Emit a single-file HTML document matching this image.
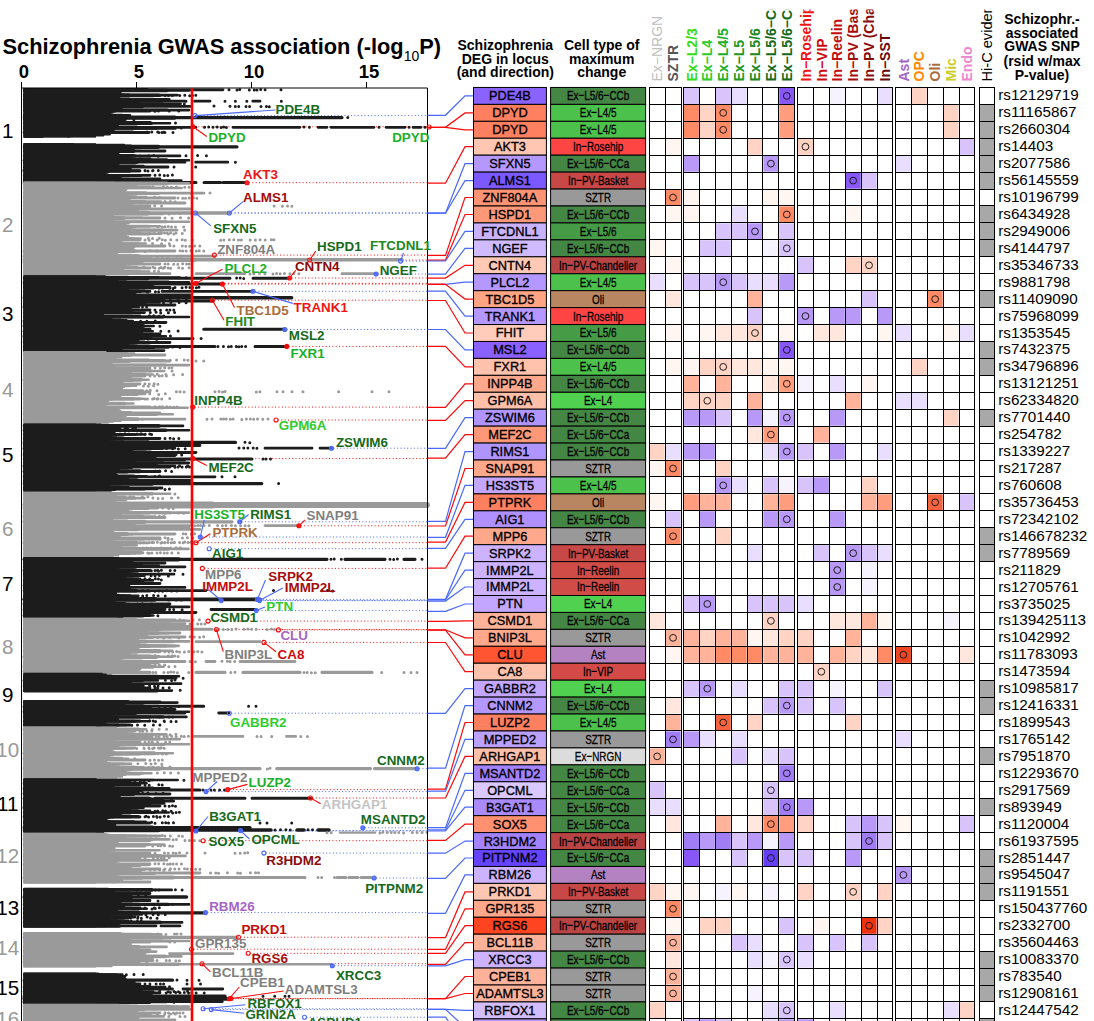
<!DOCTYPE html>
<html><head><meta charset="utf-8"><title>Schizophrenia GWAS</title>
<style>html,body{margin:0;padding:0;background:#fff;}body{width:1094px;height:1021px;overflow:hidden;font-family:"Liberation Sans",sans-serif;}svg{display:block;}</style>
</head><body>
<svg width="1094" height="1021" viewBox="0 0 1094 1021" font-family="Liberation Sans, sans-serif">
<rect width="1094" height="1021" fill="#fff"/>
<defs><clipPath id="pc"><rect x="0" y="88" width="432" height="940"/></clipPath><clipPath id="hc"><rect x="640" y="9.5" width="460" height="80"/></clipPath></defs>
<text x="2.5" y="54" font-size="21.82" font-weight="bold" fill="#000">Schizophrenia GWAS association (-log<tspan font-size="14" font-weight="normal" dy="6.7">10</tspan><tspan dy="-6.7">P)</tspan></text>
<text x="24.0" y="77.5" font-size="18.5" font-weight="bold" text-anchor="middle">0</text>
<line x1="21.5" y1="82" x2="21.5" y2="88" stroke="#000" stroke-width="1"/>
<text x="139.0" y="77.5" font-size="18.5" font-weight="bold" text-anchor="middle">5</text>
<line x1="136.5" y1="82" x2="136.5" y2="88" stroke="#000" stroke-width="1"/>
<text x="254.0" y="77.5" font-size="18.5" font-weight="bold" text-anchor="middle">10</text>
<line x1="251.5" y1="82" x2="251.5" y2="88" stroke="#000" stroke-width="1"/>
<text x="369.0" y="77.5" font-size="18.5" font-weight="bold" text-anchor="middle">15</text>
<line x1="366.5" y1="82" x2="366.5" y2="88" stroke="#000" stroke-width="1"/>
<text x="7.7" y="138.2" font-size="20.6" text-anchor="middle" fill="#000">1</text>
<text x="7.7" y="231.7" font-size="20.6" text-anchor="middle" fill="#999">2</text>
<text x="7.7" y="320.7" font-size="20.6" text-anchor="middle" fill="#000">3</text>
<text x="7.7" y="397.2" font-size="20.6" text-anchor="middle" fill="#999">4</text>
<text x="7.7" y="462.2" font-size="20.6" text-anchor="middle" fill="#000">5</text>
<text x="7.7" y="535.7" font-size="20.6" text-anchor="middle" fill="#999">6</text>
<text x="7.7" y="590.7" font-size="20.6" text-anchor="middle" fill="#000">7</text>
<text x="7.7" y="654.2" font-size="20.6" text-anchor="middle" fill="#999">8</text>
<text x="7.7" y="701.7" font-size="20.6" text-anchor="middle" fill="#000">9</text>
<text x="7.7" y="757.2" font-size="20.6" text-anchor="middle" fill="#999">10</text>
<text x="7.7" y="810.7" font-size="20.6" text-anchor="middle" fill="#000">11</text>
<text x="7.7" y="862.7" font-size="20.6" text-anchor="middle" fill="#999">12</text>
<text x="7.7" y="914.7" font-size="20.6" text-anchor="middle" fill="#000">13</text>
<text x="7.7" y="954.7" font-size="20.6" text-anchor="middle" fill="#999">14</text>
<text x="7.7" y="994.7" font-size="20.6" text-anchor="middle" fill="#000">15</text>
<text x="7.7" y="1025.7" font-size="20.6" text-anchor="middle" fill="#999">16</text>
<g clip-path="url(#pc)">
<g id="dl">
<line x1="197" y1="115.6" x2="427.5" y2="115.6" stroke="#4a68fa" stroke-width="1.0" stroke-dasharray="1 2.35"/>
<line x1="195" y1="126.8" x2="427.5" y2="126.8" stroke="#fa0a0a" stroke-width="1.0" stroke-dasharray="1 2.35"/>
<line x1="249" y1="182.7" x2="427.5" y2="182.7" stroke="#fa0a0a" stroke-width="1.0" stroke-dasharray="1 2.35"/>
<line x1="231.3" y1="213" x2="427.5" y2="213" stroke="#4a68fa" stroke-width="1.0" stroke-dasharray="1 2.35"/>
<line x1="197.5" y1="213" x2="427.5" y2="213" stroke="#4a68fa" stroke-width="1.0" stroke-dasharray="1 2.35"/>
<line x1="216.4" y1="255.1" x2="427.5" y2="255.1" stroke="#fa0a0a" stroke-width="1.0" stroke-dasharray="1 2.35"/>
<line x1="311.7" y1="260" x2="427.5" y2="260" stroke="#fa0a0a" stroke-width="1.0" stroke-dasharray="1 2.35"/>
<line x1="402.6" y1="261.1" x2="427.5" y2="261.1" stroke="#4a68fa" stroke-width="1.0" stroke-dasharray="1 2.35"/>
<line x1="378.1" y1="274" x2="427.5" y2="274" stroke="#4a68fa" stroke-width="1.0" stroke-dasharray="1 2.35"/>
<line x1="291.6" y1="278" x2="427.5" y2="278" stroke="#fa0a0a" stroke-width="1.0" stroke-dasharray="1 2.35"/>
<line x1="197.9" y1="283.3" x2="427.5" y2="283.3" stroke="#fa0a0a" stroke-width="1.0" stroke-dasharray="1 2.35"/>
<line x1="224.4" y1="284.1" x2="427.5" y2="284.1" stroke="#fa0a0a" stroke-width="1.0" stroke-dasharray="1 2.35"/>
<line x1="255" y1="291.3" x2="427.5" y2="291.3" stroke="#4a68fa" stroke-width="1.0" stroke-dasharray="1 2.35"/>
<line x1="214.4" y1="300.2" x2="427.5" y2="300.2" stroke="#fa0a0a" stroke-width="1.0" stroke-dasharray="1 2.35"/>
<line x1="286.8" y1="329.5" x2="427.5" y2="329.5" stroke="#4a68fa" stroke-width="1.0" stroke-dasharray="1 2.35"/>
<line x1="288.8" y1="346.4" x2="427.5" y2="346.4" stroke="#fa0a0a" stroke-width="1.0" stroke-dasharray="1 2.35"/>
<line x1="194.7" y1="407.1" x2="427.5" y2="407.1" stroke="#fa0a0a" stroke-width="1.0" stroke-dasharray="1 2.35"/>
<line x1="278" y1="420" x2="427.5" y2="420" stroke="#fa0a0a" stroke-width="1.0" stroke-dasharray="1 2.35"/>
<line x1="333.5" y1="448.2" x2="427.5" y2="448.2" stroke="#4a68fa" stroke-width="1.0" stroke-dasharray="1 2.35"/>
<line x1="195" y1="458.6" x2="427.5" y2="458.6" stroke="#fa0a0a" stroke-width="1.0" stroke-dasharray="1 2.35"/>
<line x1="241.7" y1="521.8" x2="427.5" y2="521.8" stroke="#4a68fa" stroke-width="1.0" stroke-dasharray="1 2.35"/>
<line x1="300.9" y1="525.8" x2="427.5" y2="525.8" stroke="#fa0a0a" stroke-width="1.0" stroke-dasharray="1 2.35"/>
<line x1="202.3" y1="537" x2="427.5" y2="537" stroke="#4a68fa" stroke-width="1.0" stroke-dasharray="1 2.35"/>
<line x1="197.9" y1="542.7" x2="427.5" y2="542.7" stroke="#fa0a0a" stroke-width="1.0" stroke-dasharray="1 2.35"/>
<line x1="211.2" y1="548.7" x2="427.5" y2="548.7" stroke="#4a68fa" stroke-width="1.0" stroke-dasharray="1 2.35"/>
<line x1="204.3" y1="568.4" x2="427.5" y2="568.4" stroke="#fa0a0a" stroke-width="1.0" stroke-dasharray="1 2.35"/>
<line x1="259.4" y1="599.4" x2="427.5" y2="599.4" stroke="#4a68fa" stroke-width="1.0" stroke-dasharray="1 2.35"/>
<line x1="223.2" y1="600.6" x2="427.5" y2="600.6" stroke="#4a68fa" stroke-width="1.0" stroke-dasharray="1 2.35"/>
<line x1="261.5" y1="600.6" x2="427.5" y2="600.6" stroke="#4a68fa" stroke-width="1.0" stroke-dasharray="1 2.35"/>
<line x1="258.2" y1="610.6" x2="427.5" y2="610.6" stroke="#4a68fa" stroke-width="1.0" stroke-dasharray="1 2.35"/>
<line x1="210" y1="621.1" x2="427.5" y2="621.1" stroke="#fa0a0a" stroke-width="1.0" stroke-dasharray="1 2.35"/>
<line x1="218.4" y1="629.5" x2="427.5" y2="629.5" stroke="#fa0a0a" stroke-width="1.0" stroke-dasharray="1 2.35"/>
<line x1="280.4" y1="629.9" x2="427.5" y2="629.9" stroke="#fa0a0a" stroke-width="1.0" stroke-dasharray="1 2.35"/>
<line x1="265.9" y1="642.4" x2="427.5" y2="642.4" stroke="#fa0a0a" stroke-width="1.0" stroke-dasharray="1 2.35"/>
<line x1="231.3" y1="713.2" x2="427.5" y2="713.2" stroke="#4a68fa" stroke-width="1.0" stroke-dasharray="1 2.35"/>
<line x1="419.1" y1="768.7" x2="427.5" y2="768.7" stroke="#4a68fa" stroke-width="1.0" stroke-dasharray="1 2.35"/>
<line x1="229.7" y1="789.6" x2="427.5" y2="789.6" stroke="#fa0a0a" stroke-width="1.0" stroke-dasharray="1 2.35"/>
<line x1="208" y1="791.6" x2="427.5" y2="791.6" stroke="#4a68fa" stroke-width="1.0" stroke-dasharray="1 2.35"/>
<line x1="312.5" y1="798" x2="427.5" y2="798" stroke="#fa0a0a" stroke-width="1.0" stroke-dasharray="1 2.35"/>
<line x1="364.8" y1="827.8" x2="427.5" y2="827.8" stroke="#4a68fa" stroke-width="1.0" stroke-dasharray="1 2.35"/>
<line x1="242.5" y1="830.6" x2="427.5" y2="830.6" stroke="#4a68fa" stroke-width="1.0" stroke-dasharray="1 2.35"/>
<line x1="197.9" y1="831" x2="427.5" y2="831" stroke="#4a68fa" stroke-width="1.0" stroke-dasharray="1 2.35"/>
<line x1="205.1" y1="840.7" x2="427.5" y2="840.7" stroke="#fa0a0a" stroke-width="1.0" stroke-dasharray="1 2.35"/>
<line x1="265.9" y1="853.1" x2="427.5" y2="853.1" stroke="#4a68fa" stroke-width="1.0" stroke-dasharray="1 2.35"/>
<line x1="376.1" y1="878" x2="427.5" y2="878" stroke="#4a68fa" stroke-width="1.0" stroke-dasharray="1 2.35"/>
<line x1="207.5" y1="912.6" x2="427.5" y2="912.6" stroke="#4a68fa" stroke-width="1.0" stroke-dasharray="1 2.35"/>
<line x1="240.5" y1="937.2" x2="427.5" y2="937.2" stroke="#fa0a0a" stroke-width="1.0" stroke-dasharray="1 2.35"/>
<line x1="193.5" y1="949.2" x2="427.5" y2="949.2" stroke="#fa0a0a" stroke-width="1.0" stroke-dasharray="1 2.35"/>
<line x1="250.2" y1="953.3" x2="427.5" y2="953.3" stroke="#fa0a0a" stroke-width="1.0" stroke-dasharray="1 2.35"/>
<line x1="204" y1="963.7" x2="427.5" y2="963.7" stroke="#fa0a0a" stroke-width="1.0" stroke-dasharray="1 2.35"/>
<line x1="334.3" y1="965.7" x2="427.5" y2="965.7" stroke="#4a68fa" stroke-width="1.0" stroke-dasharray="1 2.35"/>
<line x1="231.3" y1="998.7" x2="427.5" y2="998.7" stroke="#fa0a0a" stroke-width="1.0" stroke-dasharray="1 2.35"/>
<line x1="233" y1="998.5" x2="427.5" y2="998.5" stroke="#fa0a0a" stroke-width="1.0" stroke-dasharray="1 2.35"/>
<line x1="205.1" y1="1008.8" x2="427.5" y2="1008.8" stroke="#4a68fa" stroke-width="1.0" stroke-dasharray="1 2.35"/>
<line x1="213.2" y1="1009.6" x2="427.5" y2="1009.6" stroke="#4a68fa" stroke-width="1.0" stroke-dasharray="1 2.35"/>
<line x1="306.5" y1="1017.2" x2="427.5" y2="1017.2" stroke="#4a68fa" stroke-width="1.0" stroke-dasharray="1 2.35"/>
</g>
<rect x="23.2" y="88.6" width="72.8" height="49.0" fill="#1c1c1c"/>
<rect x="23.2" y="143.2" width="72.8" height="38.6" fill="#1c1c1c"/>
<path d="M24.6 89.5H114.7M24.6 90.3H115.7M24.6 91.2H120.4M24.6 92.0H120.8M24.6 92.9H119.1M24.6 93.7H120.1M24.6 94.6H123.2M24.6 95.4H116.4M24.6 96.3H118.6M24.6 97.1H119.5M24.6 98.0H115.6M24.6 98.8H116.0M24.6 99.7H116.7M24.6 100.5H118.5M24.6 101.4H118.6M24.6 102.2H120.0M24.6 103.1H124.5M24.6 103.9H125.1M24.6 104.8H122.3M24.6 105.6H123.9M24.6 106.5H131.2M24.6 107.3H122.6M24.6 108.2H121.6M24.6 109.0H119.5M24.6 109.9H118.8M24.6 110.7H117.0M24.6 111.6H115.2M24.6 112.4H112.7M24.6 113.3H110.6M24.6 114.1H108.0M24.6 115.0H109.4M24.6 115.8H107.1M24.6 116.7H105.9M24.6 117.5H109.7M24.6 118.4H108.2M24.6 119.2H106.0M24.6 120.1H104.8M24.6 120.9H108.8M24.6 121.8H115.9M24.6 122.6H110.0M24.6 123.5H118.7M24.6 124.3H118.2M24.6 125.2H115.7M24.6 126.0H118.1M24.6 126.9H115.8M24.6 127.7H113.9M24.6 128.6H112.2M24.6 129.4H111.6M24.6 130.3H113.8M24.6 131.1H111.3M24.6 132.0H116.4M24.6 132.8H108.6M24.6 133.7H108.2M24.6 134.5H109.9M24.6 135.4H103.3M24.6 136.2H71.2M24.6 137.1H42.6M24.6 143.9H73.3M24.6 144.7H124.2M24.6 145.6H131.0M24.6 146.4H141.2M24.6 147.3H127.1M24.6 148.1H125.7M24.6 149.0H123.5M24.6 149.8H124.5M24.6 150.7H133.0M24.6 151.5H120.1M24.6 152.4H119.5M24.6 153.2H117.6M24.6 154.1H118.1M24.6 154.9H118.8M24.6 155.8H121.3M24.6 156.6H113.1M24.6 157.5H122.7M24.6 158.3H121.0M24.6 159.2H113.9M24.6 160.0H116.8M24.6 160.9H115.9M24.6 161.7H117.2M24.6 162.6H122.8M24.6 163.4H118.0M24.6 164.3H117.4M24.6 165.1H118.7M24.6 166.0H124.5M24.6 166.8H118.4M24.6 167.7H122.6M24.6 168.5H130.2M24.6 169.4H111.1M24.6 170.2H121.8M24.6 171.1H106.7M24.6 171.9H109.1M24.6 172.8H107.7M24.6 173.6H105.5M24.6 174.5H101.9M24.6 175.3H101.3M24.6 176.2H101.5M24.6 177.0H103.6M24.6 177.9H103.1M24.6 178.7H109.5M24.6 179.6H110.3M24.6 180.4H101.9" stroke="#1c1c1c" stroke-width="2.0" stroke-linecap="round" fill="none"/>
<path d="M24.6 90.5H167.1M24.6 123.2H151.4M24.6 155.9H128.9" stroke="#1c1c1c" stroke-width="3.5" stroke-linecap="round" fill="none"/>
<path d="M24.6 90.5H189.0M24.6 95.1H177.6M24.6 99.4H169.3M24.6 103.8H180.6M24.6 110.1H189.0M24.6 115.4H130.0M24.6 119.7H125.4M24.6 123.2H170.0M24.6 128.4H175.4M24.6 132.3H143.5M24.6 147.8H147.6M24.6 155.9H135.5M24.6 160.2H189.0M24.6 166.0H143.5M24.6 170.6H139.4M24.6 175.6H141.0M24.6 180.6H181.3" stroke="#1c1c1c" stroke-width="2.6" stroke-linecap="round" fill="none"/>
<path d="M24.6 95.1H159.1M24.6 103.8H162.6M24.6 110.1H167.3M24.8 182.4H196.0M204.0 182.4H220.7M223.0 182.4H244.5" stroke="#1c1c1c" stroke-width="3.0" stroke-linecap="round" fill="none"/>
<path d="M24.6 99.4H153.3" stroke="#1c1c1c" stroke-width="3.2" stroke-linecap="round" fill="none"/>
<path d="M24.6 115.4H122.5M24.6 166.0H135.1" stroke="#1c1c1c" stroke-width="3.1" stroke-linecap="round" fill="none"/>
<path d="M24.6 119.7H118.9M24.8 89.8H223.0M24.8 95.5H160.0M24.8 101.2H185.0M194.6 101.2H210.0M252.8 101.2H260.0M24.8 106.4H190.0M24.8 111.0H150.0M24.8 122.5H150.0M24.8 127.3H196.0M233.0 127.3H300.0M318.0 127.3H327.0M331.0 127.3H374.0M386.0 127.3H405.0M413.0 127.3H421.0M24.8 132.5H149.0M24.8 151.0H165.0M24.8 155.8H180.0M24.8 159.0H150.0M24.8 162.2H185.0M195.7 162.2H227.8M24.8 167.0H168.0M24.8 171.0H140.0M24.8 175.3H150.0M24.8 179.0H160.0" stroke="#1c1c1c" stroke-width="2.8" stroke-linecap="round" fill="none"/>
<path d="M24.6 128.4H156.1" stroke="#1c1c1c" stroke-width="2.7" stroke-linecap="round" fill="none"/>
<path d="M24.6 132.3H132.9" stroke="#1c1c1c" stroke-width="3.6" stroke-linecap="round" fill="none"/>
<path d="M24.6 147.8H140.5" stroke="#1c1c1c" stroke-width="2.9" stroke-linecap="round" fill="none"/>
<path d="M24.6 160.2H166.6" stroke="#1c1c1c" stroke-width="3.7" stroke-linecap="round" fill="none"/>
<path d="M24.6 170.6H129.8" stroke="#1c1c1c" stroke-width="4.1" stroke-linecap="round" fill="none"/>
<path d="M24.6 175.6H129.0" stroke="#1c1c1c" stroke-width="3.3" stroke-linecap="round" fill="none"/>
<path d="M24.6 180.6H157.0" stroke="#1c1c1c" stroke-width="3.4" stroke-linecap="round" fill="none"/>
<path d="M24.8 89.8H146.5M24.8 95.5H129.0M24.8 101.2H137.8M24.8 106.4H142.0M24.8 127.3H136.8M24.8 151.0H133.5M24.8 155.8H133.4M24.8 162.2H136.7M24.8 167.0H130.5M24.8 179.0H120.5" stroke="#1c1c1c" stroke-width="3.8" stroke-linecap="round" fill="none"/>
<path d="M24.8 117.6H342.0M24.8 146.8H237.0" stroke="#1c1c1c" stroke-width="3.1999999999999997" stroke-linecap="round" fill="none"/>
<path d="M24.8 117.6H174.8M24.8 146.8H158.2" stroke="#1c1c1c" stroke-width="4.2" stroke-linecap="round" fill="none"/>
<path d="M24.8 182.4H126.5" stroke="#1c1c1c" stroke-width="4.0" stroke-linecap="round" fill="none"/>
<path d="M184.3 104.1h0M133.9 119.8h0M175.5 122.9h0M181.2 128.1h0M147.1 131.9h0M151.8 132.1h0M157.7 131.9h0M163.8 132.3h0M68.5 136.3h0M154.5 147.5h0M140.2 155.9h0M148.8 155.7h0M153.8 155.5h0M158.2 156.2h0M145.0 170.6h0M153.0 170.5h0M158.3 170.5h0M229.0 89.8h0M237.0 90.0h0M239.8 89.6h0M249.3 89.9h0M254.2 89.9h0M257.0 90.0h0M260.7 89.6h0M265.1 89.8h0M281.0 89.8h0M165.0 95.6h0M168.4 95.4h0M172.2 95.6h0M179.8 95.5h0M184.8 95.3h0M189.7 95.7h0M192.5 95.5h0M195.8 95.3h0M186.0 101.2h0M225.0 101.2h0M235.4 101.2h0M246.8 101.2h0M281.3 101.2h0M214.0 106.1h0M230.0 106.3h0M235.3 106.4h0M238.7 106.4h0M246.0 106.5h0M249.6 106.5h0M261.0 106.4h0M266.4 106.6h0M269.3 106.7h0M155.0 111.2h0M158.4 111.1h0M169.1 111.0h0M178.8 111.0h0M347.8 117.6h0M204.5 127.3h0M208.7 127.1h0M213.0 127.2h0M217.1 127.0h0M221.1 127.5h0M223.7 127.0h0M226.4 127.5h0M304.0 127.1h0M309.4 127.3h0M379.0 127.3h0M409.0 127.3h0M425.0 127.3h0M158.8 132.5h0M161.9 132.4h0M164.9 132.4h0M173.0 132.5h0M186.0 155.8h0M197.6 155.5h0M206.4 155.8h0M235.4 162.2h0M174.0 167.0h0M195.7 167.0h0M145.0 170.8h0M148.0 171.0h0M152.6 170.8h0M155.0 175.3h0M159.7 175.1h0M164.3 175.4h0M167.8 175.5h0M172.4 175.0h0" stroke="#1c1c1c" stroke-width="3.0" stroke-linecap="round" fill="none"/>
<rect x="23.2" y="181.8" width="72.8" height="93.5" fill="#9a9a9a"/>
<path d="M24.6 182.7H114.3M24.6 183.6H116.0M24.6 184.4H120.8M24.6 185.2H126.3M24.6 186.1H136.4M24.6 186.9H127.7M24.6 187.8H127.2M24.6 188.6H127.4M24.6 189.5H126.1M24.6 190.3H125.9M24.6 191.2H125.0M24.6 192.0H124.5M24.6 192.9H122.2M24.6 193.7H128.3M24.6 194.6H132.0M24.6 195.4H126.6M24.6 196.3H114.8M24.6 197.1H113.5M24.6 198.0H112.2M24.6 198.8H118.5M24.6 199.7H115.0M24.6 200.5H110.9M24.6 201.4H117.3M24.6 202.2H107.8M24.6 203.1H118.8M24.6 203.9H110.5M24.6 204.8H122.5M24.6 205.6H114.2M24.6 206.5H115.5M24.6 207.3H117.8M24.6 208.2H115.1M24.6 209.0H119.5M24.6 209.9H114.3M24.6 210.7H115.8M24.6 211.6H116.9M24.6 212.4H122.5M24.6 213.3H117.3M24.6 214.1H116.0M24.6 215.0H111.5M24.6 215.8H113.2M24.6 216.7H111.8M24.6 217.5H111.7M24.6 218.4H111.5M24.6 219.2H110.2M24.6 220.1H111.6M24.6 220.9H113.1M24.6 221.8H116.1M24.6 222.6H116.8M24.6 223.5H128.8M24.6 224.3H125.7M24.6 225.2H125.3M24.6 226.0H123.7M24.6 226.9H131.3M24.6 227.7H132.3M24.6 228.6H130.0M24.6 229.4H130.1M24.6 230.3H127.6M24.6 231.1H130.3M24.6 232.0H128.3M24.6 232.8H126.3M24.6 233.7H123.5M24.6 234.5H124.7M24.6 235.4H126.0M24.6 236.2H126.1M24.6 237.1H128.3M24.6 237.9H120.2M24.6 238.8H126.7M24.6 239.6H117.7M24.6 240.5H123.1M24.6 241.3H120.8M24.6 242.2H119.2M24.6 243.0H120.5M24.6 243.9H119.8M24.6 244.7H122.3M24.6 245.6H121.0M24.6 246.4H130.1M24.6 247.3H128.1M24.6 248.1H125.0M24.6 249.0H133.5M24.6 249.8H127.6M24.6 250.7H118.7M24.6 251.5H118.5M24.6 252.4H116.4M24.6 253.2H117.2M24.6 254.1H113.0M24.6 254.9H108.1M24.6 255.8H110.2M24.6 256.6H105.6M24.6 257.5H107.1M24.6 258.3H108.2M24.6 259.2H107.0M24.6 260.0H110.0M24.6 260.9H120.1M24.6 261.7H108.2M24.6 262.6H113.4M24.6 263.4H110.6M24.6 264.3H113.2M24.6 265.1H113.4M24.6 266.0H115.3M24.6 266.8H118.3M24.6 267.7H116.6M24.6 268.5H118.3M24.6 269.4H123.0M24.6 270.2H118.0M24.6 271.1H119.8M24.6 271.9H121.8M24.6 272.8H114.0M24.6 273.6H109.3M24.6 274.5H108.7" stroke="#9a9a9a" stroke-width="2.0" stroke-linecap="round" fill="none"/>
<path d="M24.6 183.4H166.8M24.6 251.2H131.5" stroke="#9a9a9a" stroke-width="4.0" stroke-linecap="round" fill="none"/>
<path d="M24.6 183.4H189.0M24.6 188.0H181.6M24.6 193.6H147.1M24.6 193.6H158.9M24.6 197.0H146.2M24.6 201.6H160.7M24.6 205.8H133.3M24.6 209.9H138.0M24.6 213.9H163.0M24.6 217.8H142.5M24.6 221.7H189.0M24.6 226.2H160.1M24.6 230.1H177.1M24.6 233.8H161.3M24.6 238.6H140.6M24.6 243.5H145.7M24.6 251.2H138.1M24.6 256.4H151.4M24.6 262.3H142.2M24.6 267.1H137.1M24.6 271.5H149.3" stroke="#9a9a9a" stroke-width="2.6" stroke-linecap="round" fill="none"/>
<path d="M24.6 188.0H164.8M24.6 243.5H137.8" stroke="#9a9a9a" stroke-width="2.7" stroke-linecap="round" fill="none"/>
<path d="M24.6 197.0H135.9M24.6 205.8H126.7M24.8 259.8H402.0" stroke="#9a9a9a" stroke-width="3.6" stroke-linecap="round" fill="none"/>
<path d="M24.6 201.6H144.7M24.6 226.2H148.9M24.6 230.1H161.9" stroke="#9a9a9a" stroke-width="3.1" stroke-linecap="round" fill="none"/>
<path d="M24.6 209.9H130.8M24.6 271.5H139.3M24.8 213.0H230.0" stroke="#9a9a9a" stroke-width="3.4" stroke-linecap="round" fill="none"/>
<path d="M24.6 213.9H147.4" stroke="#9a9a9a" stroke-width="3.2" stroke-linecap="round" fill="none"/>
<path d="M24.6 217.8H132.3M24.8 187.0H150.0M24.8 193.1H204.0M24.8 198.0H175.0M24.8 203.0H185.0M24.8 206.2H150.0M24.8 209.0H190.0M24.8 218.0H160.0M24.8 226.9H135.0M24.8 233.0H140.0M24.8 240.0H140.0M24.8 246.0H165.0M24.8 251.0H175.0M24.8 256.1H215.0M24.8 264.0H160.0M24.8 268.0H150.0M24.8 273.7H170.0M196.0 273.7H245.0M342.0 273.7H376.0" stroke="#9a9a9a" stroke-width="2.8" stroke-linecap="round" fill="none"/>
<path d="M24.6 221.7H166.0M24.6 238.6H133.6" stroke="#9a9a9a" stroke-width="3.0" stroke-linecap="round" fill="none"/>
<path d="M24.6 233.8H149.8M24.6 267.1H130.7" stroke="#9a9a9a" stroke-width="3.3" stroke-linecap="round" fill="none"/>
<path d="M24.6 256.4H137.7M24.6 262.3H131.9" stroke="#9a9a9a" stroke-width="4.1" stroke-linecap="round" fill="none"/>
<path d="M24.8 193.1H145.8M24.8 198.0H129.4M24.8 203.0H131.2M24.8 209.0H136.8M24.8 218.0H123.8M24.8 246.0H134.3M24.8 251.0H134.2M24.8 256.1H138.8M24.8 264.0H125.7M24.8 273.7H127.1" stroke="#9a9a9a" stroke-width="3.8" stroke-linecap="round" fill="none"/>
<path d="M24.8 213.0H147.4" stroke="#9a9a9a" stroke-width="4.4" stroke-linecap="round" fill="none"/>
<path d="M24.8 259.8H193.9" stroke="#9a9a9a" stroke-width="4.6" stroke-linecap="round" fill="none"/>
<path d="M154.7 196.9h0M159.7 197.4h0M165.0 201.4h0M170.3 201.6h0M175.2 201.7h0M140.7 205.8h0M147.8 206.0h0M154.7 205.8h0M161.6 205.9h0M169.2 214.0h0M173.7 213.6h0M179.7 213.5h0M184.7 230.2h0M168.3 233.9h0M173.8 234.1h0M182.3 233.5h0M148.3 238.3h0M152.5 238.4h0M159.3 238.3h0M152.5 243.4h0M161.6 243.8h0M169.3 243.7h0M144.7 251.5h0M150.1 250.8h0M157.0 250.9h0M157.5 256.6h0M162.3 256.6h0M167.9 256.8h0M176.8 256.4h0M181.0 256.3h0M143.8 267.0h0M152.9 267.2h0M161.1 267.4h0M164.8 267.2h0M154.3 271.2h0M158.6 271.5h0M153.0 186.8h0M163.4 187.0h0M167.4 187.2h0M171.3 187.2h0M176.4 186.9h0M184.7 187.2h0M189.0 187.3h0M210.0 193.1h0M178.0 198.1h0M182.7 198.3h0M185.5 198.2h0M189.1 198.1h0M193.4 197.8h0M196.9 198.3h0M274.1 206.0h0M282.4 206.2h0M287.5 205.9h0M291.9 206.3h0M165.0 217.9h0M172.1 218.3h0M180.5 217.8h0M188.6 218.1h0M158.0 226.7h0M162.4 227.0h0M165.1 226.7h0M168.3 226.6h0M171.5 226.9h0M175.5 227.1h0M183.7 226.9h0M150.0 233.3h0M154.0 233.0h0M158.8 233.2h0M161.4 232.8h0M164.4 233.1h0M167.1 232.9h0M170.7 232.7h0M176.1 232.9h0M145.0 240.1h0M149.2 240.3h0M157.2 239.9h0M162.3 239.8h0M165.4 240.2h0M170.7 239.8h0M176.9 240.1h0M182.2 239.7h0M185.3 240.2h0M192.2 240.1h0M220.7 240.2h0M223.9 240.0h0M229.3 239.8h0M233.8 239.7h0M238.5 240.1h0M241.3 240.0h0M250.2 239.9h0M255.4 240.1h0M260.1 239.8h0M265.2 239.9h0M271.3 239.8h0M273.9 239.8h0M170.0 245.8h0M173.9 246.1h0M182.3 246.0h0M185.8 246.2h0M189.7 246.2h0M194.7 245.9h0M199.8 245.9h0M180.0 250.7h0M182.8 250.9h0M186.2 250.9h0M190.9 250.8h0M196.3 250.9h0M199.2 250.8h0M203.8 250.9h0M165.0 264.1h0M168.2 264.0h0M173.7 264.2h0M177.8 264.2h0M182.7 263.8h0M186.6 264.0h0M189.2 263.9h0M155.0 268.1h0M159.3 268.3h0M163.3 268.3h0M168.1 268.0h0M170.7 268.3h0M178.7 267.7h0M182.5 268.3h0M189.0 267.8h0M250.0 273.9h0M253.8 273.7h0M259.5 273.6h0M264.9 273.8h0M273.0 274.0h0M276.6 273.6h0M280.1 273.7h0M284.5 273.5h0M290.0 273.7h0M293.8 273.6h0M298.9 273.8h0" stroke="#9a9a9a" stroke-width="3.0" stroke-linecap="round" fill="none"/>
<rect x="23.2" y="275.3" width="72.8" height="75.9" fill="#1c1c1c"/>
<path d="M24.6 276.2H104.9M24.6 277.1H107.6M24.6 277.9H112.5M24.6 278.8H120.1M24.6 279.6H115.0M24.6 280.5H117.4M24.6 281.3H125.8M24.6 282.2H136.5M24.6 283.0H127.9M24.6 283.9H123.3M24.6 284.7H124.8M24.6 285.6H126.2M24.6 286.4H131.8M24.6 287.3H137.9M24.6 288.1H128.4M24.6 289.0H128.2M24.6 289.8H124.9M24.6 290.7H127.2M24.6 291.5H120.5M24.6 292.4H128.5M24.6 293.2H127.7M24.6 294.1H124.1M24.6 294.9H121.0M24.6 295.8H111.4M24.6 296.6H110.4M24.6 297.5H113.5M24.6 298.3H110.4M24.6 299.2H111.0M24.6 300.0H121.4M24.6 300.9H112.3M24.6 301.7H113.1M24.6 302.6H124.7M24.6 303.4H112.9M24.6 304.3H115.5M24.6 305.1H116.9M24.6 306.0H119.3M24.6 306.8H114.6M24.6 307.7H117.9M24.6 308.5H111.7M24.6 309.4H109.6M24.6 310.2H107.8M24.6 311.1H117.0M24.6 311.9H104.6M24.6 312.8H106.9M24.6 313.6H103.0M24.6 314.5H103.0M24.6 315.3H101.9M24.6 316.2H102.5M24.6 317.0H104.8M24.6 317.9H110.4M24.6 318.7H111.5M24.6 319.6H120.9M24.6 320.4H110.5M24.6 321.3H112.2M24.6 322.1H118.6M24.6 323.0H116.6M24.6 323.8H124.1M24.6 324.7H130.7M24.6 325.5H119.4M24.6 326.4H127.8M24.6 327.2H122.2M24.6 328.1H120.1M24.6 328.9H122.2M24.6 329.8H120.6M24.6 330.6H122.6M24.6 331.5H133.2M24.6 332.3H117.0M24.6 333.2H123.2M24.6 334.0H116.4M24.6 334.9H117.4M24.6 335.7H119.7M24.6 336.6H116.0M24.6 337.4H119.5M24.6 338.3H121.2M24.6 339.1H125.0M24.6 340.0H121.5M24.6 340.8H123.8M24.6 341.7H123.6M24.6 342.5H123.5M24.6 343.4H134.2M24.6 344.2H128.6M24.6 345.1H124.4M24.6 345.9H123.2M24.6 346.8H124.1M24.6 347.6H120.3M24.6 348.5H119.1M24.6 349.3H112.1M24.6 350.2H109.4" stroke="#1c1c1c" stroke-width="2.0" stroke-linecap="round" fill="none"/>
<path d="M24.6 277.5H158.4M24.6 288.1H144.8" stroke="#1c1c1c" stroke-width="2.9" stroke-linecap="round" fill="none"/>
<path d="M24.6 277.5H179.7M24.6 282.3H188.9M24.6 288.1H153.7M24.6 291.8H140.7M24.6 298.9H152.1M24.6 302.5H159.5M24.6 307.0H138.8M24.6 312.6H144.6M24.6 317.0H189.0M24.6 321.1H132.7M24.6 326.0H153.7M24.6 331.3H152.7M24.6 336.3H165.8M24.6 341.9H144.1M24.6 347.4H168.3" stroke="#1c1c1c" stroke-width="2.6" stroke-linecap="round" fill="none"/>
<path d="M24.6 282.3H168.3" stroke="#1c1c1c" stroke-width="3.6" stroke-linecap="round" fill="none"/>
<path d="M24.6 291.8H133.8" stroke="#1c1c1c" stroke-width="3.5" stroke-linecap="round" fill="none"/>
<path d="M24.6 298.9H139.4" stroke="#1c1c1c" stroke-width="2.7" stroke-linecap="round" fill="none"/>
<path d="M24.6 302.5H145.3" stroke="#1c1c1c" stroke-width="3.1" stroke-linecap="round" fill="none"/>
<path d="M24.6 307.0H130.8M24.6 326.0H143.2M24.6 336.3H150.6" stroke="#1c1c1c" stroke-width="4.1" stroke-linecap="round" fill="none"/>
<path d="M24.6 312.6H132.2M24.6 347.4H153.6" stroke="#1c1c1c" stroke-width="3.3" stroke-linecap="round" fill="none"/>
<path d="M24.6 317.0H163.1M24.8 287.5H170.0M24.8 291.4H150.0M162.0 291.4H252.0M24.8 295.0H190.0M24.8 301.0H213.0M24.8 305.0H175.0M24.8 310.0H150.0M24.8 316.0H140.0M24.8 322.5H166.0M24.8 334.0H160.0M24.8 338.6H190.0M24.8 342.5H170.0M24.8 350.6H164.0" stroke="#1c1c1c" stroke-width="2.8" stroke-linecap="round" fill="none"/>
<path d="M24.6 321.1H126.1M24.8 278.2H147.6M24.8 283.9H152.9M24.8 346.5H149.2" stroke="#1c1c1c" stroke-width="4.0" stroke-linecap="round" fill="none"/>
<path d="M24.6 331.3H141.8" stroke="#1c1c1c" stroke-width="3.7" stroke-linecap="round" fill="none"/>
<path d="M24.6 341.9H137.4M24.8 287.5H138.2M24.8 295.0H135.1M24.8 301.0H141.6M24.8 305.0H131.6M24.8 322.5H129.4M24.8 334.0H128.2M24.8 338.6H139.3M24.8 342.5H136.7M24.8 350.6H121.0" stroke="#1c1c1c" stroke-width="3.8" stroke-linecap="round" fill="none"/>
<path d="M24.8 278.2H230.0M253.0 278.2H288.0M24.8 283.9H222.4M24.8 329.2H150.0M203.7 329.2H284.0M24.8 346.5H215.0M255.0 346.5H287.0" stroke="#1c1c1c" stroke-width="3.0" stroke-linecap="round" fill="none"/>
<path d="M24.8 297.8H291.7" stroke="#1c1c1c" stroke-width="3.4" stroke-linecap="round" fill="none"/>
<path d="M24.8 297.8H164.1" stroke="#1c1c1c" stroke-width="4.4" stroke-linecap="round" fill="none"/>
<path d="M186.1 277.7h0M159.1 288.3h0M162.5 287.9h0M169.7 288.2h0M173.0 288.5h0M147.5 291.9h0M155.4 291.8h0M158.6 291.8h0M156.5 298.8h0M161.2 299.3h0M170.4 298.8h0M178.0 298.8h0M186.4 298.9h0M163.5 302.9h0M170.8 302.4h0M179.1 302.6h0M186.1 302.8h0M142.5 307.1h0M146.6 306.9h0M150.3 312.6h0M156.1 312.2h0M160.7 313.0h0M168.4 312.7h0M174.6 312.5h0M140.6 321.2h0M146.9 321.3h0M155.3 321.0h0M159.9 326.3h0M160.8 331.3h0M169.0 331.3h0M178.1 331.0h0M170.4 336.0h0M148.0 341.7h0M156.7 341.5h0M172.7 347.0h0M179.9 347.4h0M236.6 278.0h0M240.2 278.0h0M243.7 278.5h0M175.0 287.6h0M182.1 287.7h0M186.1 287.2h0M189.9 287.6h0M192.6 287.6h0M196.4 287.8h0M199.0 287.2h0M155.0 310.0h0M160.5 310.3h0M166.7 310.1h0M169.9 310.0h0M173.8 309.9h0M149.4 315.8h0M153.7 315.8h0M158.9 316.2h0M163.8 315.9h0M193.0 338.4h0M201.1 338.6h0M218.0 346.4h0M223.4 346.4h0M228.5 346.8h0M231.3 346.6h0M236.2 346.5h0M238.9 346.7h0M241.8 346.6h0M245.6 346.5h0" stroke="#1c1c1c" stroke-width="3.0" stroke-linecap="round" fill="none"/>
<rect x="23.2" y="351.2" width="72.8" height="72.4" fill="#9a9a9a"/>
<path d="M24.6 352.1H105.6M24.6 352.9H109.4M24.6 353.8H113.7M24.6 354.7H121.4M24.6 355.5H117.9M24.6 356.4H115.5M24.6 357.2H121.4M24.6 358.1H115.7M24.6 358.9H113.6M24.6 359.8H122.6M24.6 360.6H112.7M24.6 361.5H126.1M24.6 362.3H111.2M24.6 363.2H111.7M24.6 364.0H110.9M24.6 364.9H121.1M24.6 365.7H114.4M24.6 366.6H114.4M24.6 367.4H114.9M24.6 368.3H117.5M24.6 369.1H118.0M24.6 370.0H124.0M24.6 370.8H122.4M24.6 371.7H125.2M24.6 372.5H130.9M24.6 373.4H127.8M24.6 374.2H127.9M24.6 375.1H134.6M24.6 375.9H130.8M24.6 376.8H130.2M24.6 377.6H128.5M24.6 378.5H131.4M24.6 379.3H124.8M24.6 380.2H126.2M24.6 381.0H132.8M24.6 381.9H120.2M24.6 382.7H122.8M24.6 383.6H122.8M24.6 384.4H116.7M24.6 385.3H123.1M24.6 386.1H116.5M24.6 387.0H124.4M24.6 387.8H121.1M24.6 388.7H122.2M24.6 389.5H120.9M24.6 390.4H120.1M24.6 391.2H120.1M24.6 392.1H119.5M24.6 392.9H124.2M24.6 393.8H118.7M24.6 394.6H125.0M24.6 395.5H121.2M24.6 396.3H120.2M24.6 397.2H117.2M24.6 398.0H113.7M24.6 398.9H111.7M24.6 399.7H111.8M24.6 400.6H107.9M24.6 401.4H108.1M24.6 402.3H108.3M24.6 403.1H108.6M24.6 404.0H108.7M24.6 404.8H105.4M24.6 405.7H105.1M24.6 406.5H106.4M24.6 407.4H108.8M24.6 408.2H111.9M24.6 409.1H118.9M24.6 409.9H113.9M24.6 410.8H120.4M24.6 411.6H116.7M24.6 412.5H127.0M24.6 413.3H119.9M24.6 414.2H119.4M24.6 415.0H120.6M24.6 415.9H125.9M24.6 416.7H122.1M24.6 417.6H118.3M24.6 418.4H119.3M24.6 419.3H122.8M24.6 420.1H118.2M24.6 421.0H120.7M24.6 421.8H113.0M24.6 422.7H108.2" stroke="#9a9a9a" stroke-width="2.0" stroke-linecap="round" fill="none"/>
<path d="M24.6 353.5H127.0M24.6 371.0H151.6M24.8 355.0H165.0M24.8 361.0H170.0M24.8 368.0H150.0M24.8 376.0H145.0M24.8 384.0H140.0M24.8 391.8H150.0M24.8 399.0H140.0M24.8 407.0H150.0M24.8 413.0H160.0M24.8 419.2H185.0" stroke="#9a9a9a" stroke-width="2.8" stroke-linecap="round" fill="none"/>
<path d="M24.6 353.5H134.1M24.6 360.2H164.5M24.6 365.1H189.0M24.6 371.0H164.2M24.6 374.5H152.7M24.6 379.8H148.5M24.6 385.8H136.1M24.6 390.5H142.7M24.6 394.0H145.1M24.6 398.7H143.1M24.6 403.5H133.4M24.6 407.8H187.6M24.6 414.2H172.8M24.6 419.3H138.0" stroke="#9a9a9a" stroke-width="2.6" stroke-linecap="round" fill="none"/>
<path d="M24.6 360.2H148.8M24.6 403.5H124.6" stroke="#9a9a9a" stroke-width="3.3" stroke-linecap="round" fill="none"/>
<path d="M24.6 365.1H165.7" stroke="#9a9a9a" stroke-width="3.0" stroke-linecap="round" fill="none"/>
<path d="M24.6 374.5H145.1M24.6 419.3H131.7" stroke="#9a9a9a" stroke-width="3.6" stroke-linecap="round" fill="none"/>
<path d="M24.6 379.8H140.8" stroke="#9a9a9a" stroke-width="4.1" stroke-linecap="round" fill="none"/>
<path d="M24.6 385.8H129.9" stroke="#9a9a9a" stroke-width="3.1" stroke-linecap="round" fill="none"/>
<path d="M24.6 390.5H135.3M24.6 407.8H163.7" stroke="#9a9a9a" stroke-width="2.7" stroke-linecap="round" fill="none"/>
<path d="M24.6 394.0H137.1" stroke="#9a9a9a" stroke-width="3.9" stroke-linecap="round" fill="none"/>
<path d="M24.6 398.7H133.5" stroke="#9a9a9a" stroke-width="3.4" stroke-linecap="round" fill="none"/>
<path d="M24.6 414.2H156.5" stroke="#9a9a9a" stroke-width="3.5" stroke-linecap="round" fill="none"/>
<path d="M24.8 355.0H129.6M24.8 361.0H129.1M24.8 413.0H130.3M24.8 419.2H137.4" stroke="#9a9a9a" stroke-width="3.8" stroke-linecap="round" fill="none"/>
<path d="M170.3 360.2h0M176.6 360.1h0M184.2 359.9h0M187.9 360.3h0M172.0 371.0h0M157.3 374.3h0M165.9 374.4h0M173.6 374.7h0M182.6 374.5h0M143.5 385.9h0M148.2 386.2h0M153.6 385.7h0M146.8 390.7h0M150.2 390.3h0M157.0 390.8h0M149.7 393.7h0M158.7 394.4h0M165.3 393.8h0M147.4 399.0h0M154.3 398.6h0M158.0 398.8h0M161.7 398.9h0M169.8 398.6h0M142.6 419.2h0M196.0 361.0h0M203.7 361.0h0M155.0 367.8h0M160.2 368.1h0M164.7 367.8h0M168.9 367.9h0M171.9 367.7h0M150.0 375.9h0M154.6 375.9h0M159.4 375.9h0M162.2 375.7h0M166.4 376.1h0M145.0 383.8h0M149.3 384.0h0M154.1 383.8h0M157.9 384.2h0M176.4 391.8h0M180.0 391.8h0M184.1 391.9h0M215.0 391.7h0M219.1 391.6h0M222.5 391.9h0M225.1 391.6h0M256.3 392.0h0M259.9 391.7h0M277.0 391.8h0M283.0 391.8h0M292.0 391.8h0M303.0 391.8h0M338.6 391.8h0M372.0 391.8h0M389.0 391.8h0M145.0 399.0h0M152.6 398.9h0M157.2 399.0h0M155.0 406.8h0M159.5 406.8h0M162.4 406.8h0M166.7 406.8h0M170.1 407.0h0M173.6 407.3h0M177.0 406.9h0M207.0 419.2h0M212.0 419.0h0M220.8 419.1h0M223.5 419.0h0M226.2 419.1h0M230.3 419.3h0M233.1 419.1h0M241.8 419.4h0M246.4 419.1h0M250.3 419.1h0M253.7 419.2h0M257.5 419.1h0M262.8 419.2h0M268.0 419.1h0" stroke="#9a9a9a" stroke-width="3.0" stroke-linecap="round" fill="none"/>
<rect x="23.2" y="423.6" width="72.8" height="68.2" fill="#1c1c1c"/>
<path d="M24.6 424.5H100.9M24.6 425.4H103.2M24.6 426.2H109.7M24.6 427.1H109.6M24.6 427.9H115.5M24.6 428.8H110.3M24.6 429.6H110.9M24.6 430.5H117.2M24.6 431.3H113.2M24.6 432.2H114.0M24.6 433.0H114.6M24.6 433.9H116.8M24.6 434.7H112.1M24.6 435.6H110.9M24.6 436.4H109.3M24.6 437.3H116.2M24.6 438.1H110.9M24.6 439.0H108.5M24.6 439.8H108.6M24.6 440.7H109.8M24.6 441.5H114.9M24.6 442.4H111.9M24.6 443.2H122.4M24.6 444.1H119.8M24.6 444.9H125.2M24.6 445.8H125.6M24.6 446.6H128.8M24.6 447.5H122.7M24.6 448.3H124.9M24.6 449.2H127.6M24.6 450.0H130.0M24.6 450.9H132.8M24.6 451.7H124.7M24.6 452.6H128.6M24.6 453.4H123.3M24.6 454.3H123.6M24.6 455.1H125.9M24.6 456.0H119.2M24.6 456.8H119.3M24.6 457.7H115.7M24.6 458.5H116.3M24.6 459.4H115.6M24.6 460.2H114.9M24.6 461.1H115.2M24.6 461.9H114.6M24.6 462.8H114.8M24.6 463.6H118.6M24.6 464.5H114.9M24.6 465.3H118.1M24.6 466.2H115.4M24.6 467.0H119.4M24.6 467.9H122.5M24.6 468.7H116.8M24.6 469.6H119.3M24.6 470.4H114.9M24.6 471.3H113.7M24.6 472.1H113.1M24.6 473.0H115.6M24.6 473.8H114.3M24.6 474.7H116.9M24.6 475.5H105.8M24.6 476.4H105.7M24.6 477.2H103.3M24.6 478.1H107.3M24.6 478.9H105.4M24.6 479.8H105.9M24.6 480.6H109.5M24.6 481.5H103.1M24.6 482.3H103.2M24.6 483.2H110.7M24.6 484.0H109.8M24.6 484.9H109.0M24.6 485.7H109.7M24.6 486.6H120.1M24.6 487.4H113.1M24.6 488.3H114.4M24.6 489.1H117.8M24.6 490.0H115.0M24.6 490.8H111.0" stroke="#1c1c1c" stroke-width="2.0" stroke-linecap="round" fill="none"/>
<path d="M24.6 425.9H158.8M24.6 454.7H149.0M24.8 438.5H123.5M24.8 445.5H141.9M24.8 448.2H138.2M24.8 452.5H145.6M24.8 455.5H136.2M24.8 463.0H135.3M24.8 467.0H131.6M24.8 471.5H127.3M24.8 476.8H136.9M24.8 480.5H127.9M24.8 488.0H128.4" stroke="#1c1c1c" stroke-width="3.8" stroke-linecap="round" fill="none"/>
<path d="M24.6 425.9H183.0M24.6 430.2H189.0M24.6 434.5H144.9M24.6 438.5H128.3M24.6 443.9H137.9M24.6 448.6H162.5M24.6 454.7H161.0M24.6 460.3H184.6M24.6 465.9H174.9M24.6 471.2H150.9M24.6 476.2H146.5M24.6 481.5H146.1M24.6 489.0H157.0" stroke="#1c1c1c" stroke-width="2.6" stroke-linecap="round" fill="none"/>
<path d="M24.6 430.2H165.7" stroke="#1c1c1c" stroke-width="3.6" stroke-linecap="round" fill="none"/>
<path d="M24.6 434.5H134.7" stroke="#1c1c1c" stroke-width="3.2" stroke-linecap="round" fill="none"/>
<path d="M24.6 438.5H122.2M24.6 481.5H132.9" stroke="#1c1c1c" stroke-width="3.5" stroke-linecap="round" fill="none"/>
<path d="M24.6 443.9H130.5" stroke="#1c1c1c" stroke-width="3.7" stroke-linecap="round" fill="none"/>
<path d="M24.6 448.6H150.6M24.6 465.9H156.8M24.6 471.2H139.8M24.8 458.9H155.3" stroke="#1c1c1c" stroke-width="4.0" stroke-linecap="round" fill="none"/>
<path d="M24.6 460.3H163.0" stroke="#1c1c1c" stroke-width="2.9" stroke-linecap="round" fill="none"/>
<path d="M24.6 476.2H133.8" stroke="#1c1c1c" stroke-width="3.3" stroke-linecap="round" fill="none"/>
<path d="M24.6 489.0H144.2M24.8 458.9H252.0" stroke="#1c1c1c" stroke-width="3.0" stroke-linecap="round" fill="none"/>
<path d="M24.8 428.0H120.0M24.8 434.0H115.0M24.8 438.5H160.0M24.8 445.5H200.0M24.8 448.2H175.0M265.0 448.2H312.0M320.0 448.2H331.0M24.8 452.5H196.0M24.8 455.5H175.0M24.8 463.0H188.7M24.8 467.0H170.0M24.8 471.5H160.0M24.8 476.8H215.0M24.8 480.5H190.0M24.8 488.0H162.0" stroke="#1c1c1c" stroke-width="2.8" stroke-linecap="round" fill="none"/>
<path d="M24.8 442.4H235.5M24.8 483.6H261.8" stroke="#1c1c1c" stroke-width="3.1999999999999997" stroke-linecap="round" fill="none"/>
<path d="M24.8 442.4H148.0M24.8 483.6H152.3" stroke="#1c1c1c" stroke-width="4.2" stroke-linecap="round" fill="none"/>
<path d="M151.6 434.5h0M141.5 443.9h0M149.0 443.9h0M155.6 444.0h0M166.5 448.5h0M172.8 448.7h0M178.4 449.0h0M185.2 448.8h0M168.9 454.8h0M176.0 454.6h0M181.7 455.0h0M179.5 465.7h0M187.7 466.1h0M155.4 471.0h0M159.5 470.9h0M165.6 470.8h0M171.6 471.4h0M154.8 476.6h0M159.5 476.1h0M153.8 481.7h0M165.0 489.4h0M169.4 489.1h0M125.0 428.1h0M127.6 427.7h0M132.8 427.8h0M135.5 427.8h0M120.0 433.9h0M125.0 433.7h0M129.0 433.9h0M137.2 434.1h0M141.1 433.8h0M145.2 434.2h0M149.7 434.0h0M165.0 438.6h0M170.1 438.3h0M173.6 438.8h0M178.8 438.4h0M245.0 442.2h0M249.8 442.7h0M239.0 448.1h0M243.8 448.0h0M247.9 448.0h0M253.2 447.9h0M256.9 448.3h0M263.0 458.9h0M266.0 458.9h0M270.5 459.0h0M175.0 467.2h0M178.1 467.0h0M182.1 467.1h0M186.3 467.1h0M189.5 466.9h0M222.0 476.8h0M235.0 476.8h0M278.6 483.6h0" stroke="#1c1c1c" stroke-width="3.0" stroke-linecap="round" fill="none"/>
<rect x="23.2" y="491.8" width="72.8" height="65.4" fill="#9a9a9a"/>
<path d="M24.6 492.7H113.6M24.6 493.6H114.6M24.6 494.4H114.8M24.6 495.3H114.7M24.6 496.1H116.2M24.6 497.0H113.8M24.6 497.8H113.9M24.6 498.7H113.6M24.6 499.5H113.0M24.6 500.4H126.0M24.6 501.2H114.6M24.6 502.1H115.5M24.6 502.9H116.8M24.6 503.8H119.0M24.6 504.6H119.6M24.6 505.5H133.1M24.6 506.3H124.5M24.6 507.2H125.7M24.6 508.0H127.1M24.6 508.9H126.3M24.6 509.7H126.6M24.6 510.6H128.3M24.6 511.4H131.9M24.6 512.3H124.8M24.6 513.1H121.3M24.6 514.0H118.7M24.6 514.8H121.0M24.6 515.7H119.9M24.6 516.5H122.5M24.6 517.4H118.5M24.6 518.2H117.9M24.6 519.1H109.4M24.6 519.9H112.2M24.6 520.8H110.3M24.6 521.6H109.6M24.6 522.5H113.1M24.6 523.3H110.1M24.6 524.2H109.7M24.6 525.0H110.0M24.6 525.9H113.8M24.6 526.7H114.9M24.6 527.6H119.2M24.6 528.4H122.2M24.6 529.3H115.3M24.6 530.1H115.2M24.6 531.0H111.1M24.6 531.8H113.2M24.6 532.7H113.0M24.6 533.5H112.5M24.6 534.4H109.3M24.6 535.2H114.1M24.6 536.1H103.9M24.6 536.9H106.4M24.6 537.8H112.2M24.6 538.6H105.0M24.6 539.5H116.2M24.6 540.3H104.4M24.6 541.2H111.4M24.6 542.0H109.3M24.6 542.9H110.1M24.6 543.7H112.6M24.6 544.6H119.6M24.6 545.4H137.1M24.6 546.3H121.5M24.6 547.1H120.9M24.6 548.0H121.0M24.6 548.8H128.8M24.6 549.7H123.5M24.6 550.5H123.4M24.6 551.4H141.5M24.6 552.2H123.6M24.6 553.1H120.9M24.6 553.9H130.0M24.6 554.8H115.6M24.6 555.6H118.4M24.6 556.5H112.9" stroke="#9a9a9a" stroke-width="2.0" stroke-linecap="round" fill="none"/>
<path d="M24.6 493.7H152.5M24.6 534.3H124.3" stroke="#9a9a9a" stroke-width="3.5" stroke-linecap="round" fill="none"/>
<path d="M24.6 493.7H170.2M24.6 498.1H144.5M24.6 508.2H157.6M24.6 512.6H189.0M24.6 516.5H155.1M24.6 521.8H136.9M24.6 528.1H189.0M24.6 534.3H132.3M24.6 539.1H160.4M24.6 542.9H147.9M24.6 548.9H188.5M24.6 553.2H141.8" stroke="#9a9a9a" stroke-width="2.6" stroke-linecap="round" fill="none"/>
<path d="M24.6 498.1H135.0M24.6 512.6H168.7" stroke="#9a9a9a" stroke-width="3.2" stroke-linecap="round" fill="none"/>
<path d="M24.6 508.2H147.6" stroke="#9a9a9a" stroke-width="3.7" stroke-linecap="round" fill="none"/>
<path d="M24.6 516.5H142.4" stroke="#9a9a9a" stroke-width="4.0" stroke-linecap="round" fill="none"/>
<path d="M24.6 521.8H128.0M24.8 521.8H144.8" stroke="#9a9a9a" stroke-width="4.2" stroke-linecap="round" fill="none"/>
<path d="M24.6 528.1H165.8" stroke="#9a9a9a" stroke-width="3.3" stroke-linecap="round" fill="none"/>
<path d="M24.6 539.1H143.2" stroke="#9a9a9a" stroke-width="3.0" stroke-linecap="round" fill="none"/>
<path d="M24.6 542.9H136.3" stroke="#9a9a9a" stroke-width="4.1" stroke-linecap="round" fill="none"/>
<path d="M24.6 548.9H168.2" stroke="#9a9a9a" stroke-width="3.6" stroke-linecap="round" fill="none"/>
<path d="M24.6 553.2H135.0M24.8 497.0H125.0M24.8 513.0H150.0M24.8 517.5H165.0M24.8 525.6H190.0M265.0 525.6H299.0M24.8 529.3H200.0M24.8 534.0H175.0M24.8 538.0H160.0M24.8 542.4H130.0M24.8 548.0H135.0M24.8 553.0H130.0" stroke="#9a9a9a" stroke-width="2.8" stroke-linecap="round" fill="none"/>
<path d="M26.0 505.0H427.0" stroke="#9a9a9a" stroke-width="5.9" stroke-linecap="round" fill="none"/>
<path d="M26.0 505.0H212.2" stroke="#9a9a9a" stroke-width="6.9" stroke-linecap="round" fill="none"/>
<path d="M24.8 517.5H126.9M24.8 525.6H134.2M24.8 529.3H138.0M24.8 534.0H126.9M24.8 538.0H119.9" stroke="#9a9a9a" stroke-width="3.8" stroke-linecap="round" fill="none"/>
<path d="M24.8 521.8H232.0" stroke="#9a9a9a" stroke-width="3.1999999999999997" stroke-linecap="round" fill="none"/>
<path d="M174.9 493.9h0M152.9 498.1h0M158.1 498.5h0M162.7 498.4h0M171.6 498.0h0M178.2 497.8h0M162.7 508.0h0M168.6 508.5h0M173.2 508.6h0M159.5 516.2h0M163.8 516.3h0M168.1 539.5h0M171.9 539.2h0M153.6 542.5h0M160.9 543.1h0M164.7 542.8h0M173.9 542.6h0M183.1 542.8h0M149.1 553.3h0M130.0 496.8h0M133.1 497.0h0M142.4 497.1h0M147.9 496.7h0M155.0 513.1h0M158.9 512.8h0M162.2 512.9h0M165.4 513.2h0M170.2 513.0h0M178.7 513.1h0M183.7 513.2h0M195.0 525.7h0M197.9 525.4h0M200.6 525.4h0M204.0 525.4h0M209.3 525.4h0M217.6 525.6h0M222.4 525.8h0M226.0 525.6h0M231.5 525.5h0M235.4 525.8h0M240.6 525.8h0M245.1 525.7h0M248.8 525.7h0M183.2 533.8h0M185.9 533.9h0M191.3 534.2h0M194.7 533.8h0M165.0 537.8h0M168.1 538.2h0M182.4 537.9h0M187.4 537.8h0M192.9 538.0h0M133.0 542.5h0M140.2 542.7h0M144.0 542.7h0M149.5 542.6h0M152.2 542.6h0M157.3 542.3h0M162.0 542.4h0M164.9 542.5h0M167.9 542.6h0M171.2 542.7h0M174.5 542.4h0M179.6 542.5h0M184.7 542.1h0M188.0 542.4h0M190.9 542.2h0M194.6 542.3h0M143.0 547.9h0M146.6 547.9h0M151.0 547.9h0M156.4 548.2h0M161.5 547.9h0M170.6 548.1h0M176.1 547.7h0M180.2 547.8h0M135.0 553.3h0M138.9 553.1h0M142.9 552.7h0M147.7 552.9h0M151.9 553.0h0M157.0 553.1h0M160.4 552.8h0M164.2 553.0h0M167.3 553.0h0M171.8 553.1h0M178.3 552.9h0" stroke="#9a9a9a" stroke-width="3.0" stroke-linecap="round" fill="none"/>
<rect x="23.2" y="557.2" width="72.8" height="60.6" fill="#1c1c1c"/>
<path d="M24.6 558.1H118.5M24.6 559.0H116.1M24.6 559.8H125.8M24.6 560.7H121.6M24.6 561.5H121.3M24.6 562.4H123.2M24.6 563.2H118.8M24.6 564.1H142.2M24.6 564.9H117.0M24.6 565.8H126.6M24.6 566.6H114.7M24.6 567.5H116.3M24.6 568.3H115.7M24.6 569.2H119.7M24.6 570.0H125.3M24.6 570.9H118.6M24.6 571.7H130.3M24.6 572.6H120.9M24.6 573.4H130.0M24.6 574.3H122.2M24.6 575.1H126.0M24.6 576.0H125.3M24.6 576.8H125.7M24.6 577.7H125.8M24.6 578.5H132.6M24.6 579.4H125.7M24.6 580.2H124.8M24.6 581.1H120.3M24.6 581.9H118.1M24.6 582.8H116.5M24.6 583.6H113.7M24.6 584.5H111.9M24.6 585.3H108.8M24.6 586.2H109.4M24.6 587.0H108.4M24.6 587.9H113.6M24.6 588.7H105.3M24.6 589.6H108.5M24.6 590.4H112.8M24.6 591.3H114.6M24.6 592.1H108.7M24.6 593.0H116.2M24.6 593.8H110.1M24.6 594.7H119.0M24.6 595.5H125.1M24.6 596.4H119.5M24.6 597.2H114.3M24.6 598.1H111.5M24.6 598.9H117.6M24.6 599.8H113.6M24.6 600.6H116.2M24.6 601.5H114.2M24.6 602.3H110.3M24.6 603.2H111.2M24.6 604.0H105.2M24.6 604.9H106.0M24.6 605.7H104.9M24.6 606.6H106.0M24.6 607.4H123.4M24.6 608.3H109.5M24.6 609.1H110.7M24.6 610.0H118.4M24.6 610.8H112.0M24.6 611.7H123.9M24.6 612.5H116.2M24.6 613.4H127.2M24.6 614.2H124.5M24.6 615.1H125.2M24.6 615.9H121.8M24.6 616.8H122.7" stroke="#1c1c1c" stroke-width="2.0" stroke-linecap="round" fill="none"/>
<path d="M24.6 559.7H132.7M24.6 570.6H133.1M24.6 604.0H122.1" stroke="#1c1c1c" stroke-width="4.0" stroke-linecap="round" fill="none"/>
<path d="M24.6 559.7H139.7M24.6 565.5H145.6M24.6 565.5H158.8M24.6 570.6H140.1M24.6 575.7H144.5M24.6 580.4H152.9M24.6 585.5H128.9M24.6 590.5H130.7M24.6 595.8H138.3M24.6 599.7H162.7M24.6 604.0H129.3M24.6 609.5H162.9M24.6 615.5H153.4" stroke="#1c1c1c" stroke-width="2.6" stroke-linecap="round" fill="none"/>
<path d="M24.6 575.7H138.0" stroke="#1c1c1c" stroke-width="3.4" stroke-linecap="round" fill="none"/>
<path d="M24.6 580.4H142.9" stroke="#1c1c1c" stroke-width="3.5" stroke-linecap="round" fill="none"/>
<path d="M24.6 585.5H122.7M24.6 609.5H146.6M24.6 615.5H143.0" stroke="#1c1c1c" stroke-width="3.9" stroke-linecap="round" fill="none"/>
<path d="M24.6 590.5H123.1M24.8 563.0H131.4M24.8 566.8H135.5M24.8 574.2H137.4M24.8 583.5H126.6M24.8 587.4H129.3M24.8 590.6H135.7M24.8 599.3H260.0M24.8 604.0H124.6M24.8 606.9H130.3M24.8 609.5H125.7M24.8 612.5H139.9" stroke="#1c1c1c" stroke-width="3.8" stroke-linecap="round" fill="none"/>
<path d="M24.6 595.8H130.0M24.6 599.7H146.8" stroke="#1c1c1c" stroke-width="2.9" stroke-linecap="round" fill="none"/>
<path d="M24.8 559.3H327.0M345.0 559.3H385.0M404.0 559.3H415.0" stroke="#1c1c1c" stroke-width="3.1999999999999997" stroke-linecap="round" fill="none"/>
<path d="M24.8 559.3H178.6" stroke="#1c1c1c" stroke-width="4.2" stroke-linecap="round" fill="none"/>
<path d="M24.8 563.0H165.0M24.8 566.8H185.0M24.8 570.5H150.0M24.8 574.2H174.0M24.8 579.0H140.0M24.8 583.5H160.0M24.8 587.4H185.0M24.8 591.0H150.0M24.8 590.6H206.0M24.8 604.0H170.0M24.8 606.9H189.0M24.8 609.5H165.0M211.0 609.5H256.0M24.8 612.5H196.0M24.8 615.5H150.0" stroke="#1c1c1c" stroke-width="2.8" stroke-linecap="round" fill="none"/>
<path d="M24.8 599.3H155.1" stroke="#1c1c1c" stroke-width="4.8" stroke-linecap="round" fill="none"/>
<path d="M145.8 570.6h0M151.3 570.7h0M158.5 571.0h0M151.1 575.8h0M155.1 575.7h0M159.3 575.5h0M168.4 576.0h0M161.3 580.1h0M136.5 590.7h0M142.6 590.5h0M148.1 590.6h0M142.7 595.9h0M146.8 595.6h0M153.6 595.6h0M158.1 595.8h0M165.2 596.0h0M168.7 600.0h0M176.3 600.1h0M181.4 600.0h0M188.0 599.4h0M137.3 603.9h0M142.4 603.7h0M151.6 604.1h0M169.6 609.6h0M173.7 609.4h0M182.1 609.8h0M157.9 615.7h0M331.0 559.2h0M334.2 559.1h0M341.3 559.3h0M390.0 559.3h0M393.7 559.4h0M397.4 559.1h0M422.0 559.3h0M155.0 570.6h0M157.6 570.2h0M161.4 570.3h0M170.2 570.6h0M174.8 570.5h0M183.0 574.2h0M145.0 578.8h0M149.7 578.9h0M155.3 578.8h0M158.4 578.9h0M155.0 591.2h0M158.9 591.0h0M162.6 591.2h0M166.6 590.8h0M171.6 591.1h0M176.9 591.0h0M273.5 590.6h0M322.0 590.7h0M327.5 590.6h0M332.6 590.9h0" stroke="#1c1c1c" stroke-width="3.0" stroke-linecap="round" fill="none"/>
<rect x="23.2" y="617.8" width="72.8" height="55.1" fill="#9a9a9a"/>
<path d="M24.6 618.7H116.9M24.6 619.5H117.8M24.6 620.4H132.1M24.6 621.2H128.5M24.6 622.1H132.9M24.6 623.0H134.3M24.6 623.8H133.1M24.6 624.7H137.2M24.6 625.5H153.3M24.6 626.4H142.2M24.6 627.2H136.9M24.6 628.1H139.4M24.6 628.9H145.4M24.6 629.8H140.0M24.6 630.6H137.3M24.6 631.5H138.4M24.6 632.3H136.8M24.6 633.2H134.0M24.6 634.0H135.2M24.6 634.9H133.2M24.6 635.7H139.9M24.6 636.6H139.1M24.6 637.4H132.3M24.6 638.3H133.9M24.6 639.1H132.2M24.6 640.0H138.2M24.6 640.8H139.2M24.6 641.7H135.4M24.6 642.5H138.7M24.6 643.4H137.0M24.6 644.2H139.8M24.6 645.1H138.9M24.6 645.9H138.6M24.6 646.8H149.5M24.6 647.6H139.5M24.6 648.5H138.3M24.6 649.3H136.3M24.6 650.2H133.7M24.6 651.0H130.8M24.6 651.9H128.1M24.6 652.7H128.7M24.6 653.6H130.4M24.6 654.4H124.8M24.6 655.3H136.4M24.6 656.1H121.0M24.6 657.0H123.1M24.6 657.8H119.8M24.6 658.7H119.8M24.6 659.5H120.5M24.6 660.4H123.9M24.6 661.2H126.4M24.6 662.1H123.9M24.6 662.9H128.0M24.6 663.8H130.2M24.6 664.6H134.9M24.6 665.5H128.1M24.6 666.3H129.5M24.6 667.2H138.6M24.6 668.0H130.1M24.6 668.9H132.2M24.6 669.7H127.5M24.6 670.6H123.8M24.6 671.4H121.2" stroke="#9a9a9a" stroke-width="2.0" stroke-linecap="round" fill="none"/>
<path d="M24.6 620.9H169.6" stroke="#9a9a9a" stroke-width="3.7" stroke-linecap="round" fill="none"/>
<path d="M24.6 620.9H189.0M24.6 628.9H172.2M24.6 633.1H168.2M24.6 637.7H152.3M24.6 641.4H189.0M24.6 645.9H178.6M24.6 650.7H172.2M24.6 656.8H172.6M24.6 663.0H157.7M24.6 666.7H163.7M24.6 671.4H138.6" stroke="#9a9a9a" stroke-width="2.6" stroke-linecap="round" fill="none"/>
<path d="M24.6 628.9H161.5M24.6 637.7H146.0" stroke="#9a9a9a" stroke-width="3.1" stroke-linecap="round" fill="none"/>
<path d="M24.6 633.1H157.7" stroke="#9a9a9a" stroke-width="3.9" stroke-linecap="round" fill="none"/>
<path d="M24.6 641.4H172.7" stroke="#9a9a9a" stroke-width="3.5" stroke-linecap="round" fill="none"/>
<path d="M24.6 645.9H166.3" stroke="#9a9a9a" stroke-width="3.2" stroke-linecap="round" fill="none"/>
<path d="M24.6 650.7H159.5" stroke="#9a9a9a" stroke-width="3.6" stroke-linecap="round" fill="none"/>
<path d="M24.6 656.8H156.6" stroke="#9a9a9a" stroke-width="4.2" stroke-linecap="round" fill="none"/>
<path d="M24.6 663.0H147.9M24.8 629.3H212.0" stroke="#9a9a9a" stroke-width="3.0" stroke-linecap="round" fill="none"/>
<path d="M24.6 666.7H152.8M24.8 629.3H159.3" stroke="#9a9a9a" stroke-width="4.0" stroke-linecap="round" fill="none"/>
<path d="M24.6 671.4H132.5" stroke="#9a9a9a" stroke-width="4.1" stroke-linecap="round" fill="none"/>
<path d="M24.8 620.0H175.0M24.8 623.7H185.0M24.8 626.5H190.0M24.8 633.0H180.0M24.8 637.0H185.0M24.8 641.7H170.0M196.0 641.7H260.0M24.8 646.0H175.0M24.8 651.8H160.0M24.8 656.0H150.0M24.8 661.5H185.0M206.0 661.5H215.0M240.0 661.5H295.0M24.8 665.0H150.0M24.8 669.0H140.0" stroke="#9a9a9a" stroke-width="2.8" stroke-linecap="round" fill="none"/>
<path d="M24.8 620.0H135.9M24.8 623.7H147.1M24.8 626.5H152.0M24.8 633.0H147.3M24.8 637.0H147.2M24.8 641.7H145.6M24.8 646.0H148.7M24.8 651.8H137.0M24.8 661.5H141.4" stroke="#9a9a9a" stroke-width="3.8" stroke-linecap="round" fill="none"/>
<path d="M24.8 672.4H150.0M196.0 672.4H225.0M243.0 672.4H300.0M322.0 672.4H372.0" stroke="#9a9a9a" stroke-width="3.1999999999999997" stroke-linecap="round" fill="none"/>
<path d="M157.8 637.5h0M163.8 637.9h0M169.6 637.4h0M178.6 637.9h0M178.1 656.6h0M168.9 666.8h0M175.0 666.6h0M180.0 619.8h0M183.7 620.2h0M193.0 620.0h0M199.4 619.8h0M190.0 623.9h0M197.7 623.9h0M201.2 623.9h0M204.9 623.9h0M216.0 629.4h0M218.8 629.2h0M223.3 629.4h0M227.8 629.5h0M231.8 629.4h0M236.0 629.0h0M244.0 629.2h0M247.9 629.1h0M251.6 629.2h0M256.1 629.3h0M266.9 629.5h0M271.3 629.1h0M274.5 629.5h0M190.0 636.8h0M194.3 637.0h0M199.6 637.2h0M203.7 636.8h0M165.0 651.7h0M169.0 652.1h0M172.7 652.0h0M176.6 651.5h0M179.5 651.9h0M184.4 651.9h0M188.8 651.6h0M194.1 651.7h0M197.8 651.5h0M201.9 652.0h0M155.0 655.8h0M158.8 656.3h0M168.2 656.1h0M172.2 655.7h0M174.9 656.0h0M190.0 661.6h0M195.4 661.7h0M222.0 661.2h0M227.4 661.3h0M230.1 661.6h0M234.7 661.4h0M155.0 664.7h0M159.3 664.8h0M164.7 665.0h0M153.0 672.5h0M155.8 672.6h0M163.9 672.5h0M168.0 672.4h0M170.9 672.1h0M173.8 672.2h0M177.4 672.7h0M188.7 672.6h0M230.8 672.6h0M235.0 672.2h0M304.0 672.6h0M307.2 672.5h0M311.4 672.7h0M315.2 672.7h0M381.7 672.4h0M404.0 672.4h0M411.0 672.4h0M417.0 672.4h0" stroke="#9a9a9a" stroke-width="3.0" stroke-linecap="round" fill="none"/>
<rect x="23.2" y="672.9" width="72.8" height="18.7" fill="#1c1c1c"/>
<rect x="23.2" y="700.2" width="72.8" height="26.3" fill="#1c1c1c"/>
<path d="M24.6 673.8H102.0M24.6 674.6H105.9M24.6 675.5H111.5M24.6 676.4H111.7M24.6 677.2H107.2M24.6 678.1H107.1M24.6 678.9H106.3M24.6 679.8H105.3M24.6 680.6H108.1M24.6 681.5H106.6M24.6 682.3H113.8M24.6 683.2H113.3M24.6 684.0H115.2M24.6 684.9H115.5M24.6 685.7H113.6M24.6 686.6H119.6M24.6 687.4H126.6M24.6 688.3H121.5M24.6 689.1H122.4M24.6 690.0H124.8M24.6 690.8H126.7M24.6 701.0H119.8M24.6 701.9H119.6M24.6 702.7H122.0M24.6 703.6H119.4M24.6 704.4H124.5M24.6 705.3H117.4M24.6 706.1H120.7M24.6 707.0H122.2M24.6 707.8H123.2M24.6 708.7H120.0M24.6 709.5H126.2M24.6 710.4H122.0M24.6 711.2H118.3M24.6 712.1H118.2M24.6 712.9H116.8M24.6 713.8H115.6M24.6 714.6H116.2M24.6 715.5H111.0M24.6 716.3H109.5M24.6 717.2H105.9M24.6 718.0H104.1M24.6 718.9H118.2M24.6 719.7H106.7M24.6 720.6H107.6M24.6 721.4H105.0M24.6 722.3H102.5M24.6 723.1H103.3M24.6 724.0H106.0M24.6 724.8H107.4M24.6 725.7H100.3" stroke="#1c1c1c" stroke-width="2.0" stroke-linecap="round" fill="none"/>
<path d="M24.6 676.3H157.6M24.6 702.6H158.4" stroke="#1c1c1c" stroke-width="3.3" stroke-linecap="round" fill="none"/>
<path d="M24.6 676.3H179.0M24.6 680.4H157.9M24.6 686.1H143.5M24.6 690.6H171.9M24.6 702.6H177.4M24.6 706.7H151.2M24.6 711.7H189.0M24.6 716.9H186.4M24.6 721.3H149.3M24.6 725.0H126.2" stroke="#1c1c1c" stroke-width="2.6" stroke-linecap="round" fill="none"/>
<path d="M24.6 680.4H142.1" stroke="#1c1c1c" stroke-width="3.9" stroke-linecap="round" fill="none"/>
<path d="M24.6 686.1H134.8M24.8 678.0H126.4M24.8 683.7H130.6M24.8 702.0H127.9M24.8 709.5H135.2M24.8 713.0H135.5" stroke="#1c1c1c" stroke-width="3.8" stroke-linecap="round" fill="none"/>
<path d="M24.6 690.6H157.2" stroke="#1c1c1c" stroke-width="3.6" stroke-linecap="round" fill="none"/>
<path d="M24.6 706.7H141.0M24.6 711.7H167.2M24.8 706.2H142.9" stroke="#1c1c1c" stroke-width="4.0" stroke-linecap="round" fill="none"/>
<path d="M24.6 716.9H162.2" stroke="#1c1c1c" stroke-width="3.2" stroke-linecap="round" fill="none"/>
<path d="M24.6 721.3H134.9" stroke="#1c1c1c" stroke-width="3.1" stroke-linecap="round" fill="none"/>
<path d="M24.6 725.0H118.3M24.8 706.2H203.7" stroke="#1c1c1c" stroke-width="3.0" stroke-linecap="round" fill="none"/>
<path d="M24.8 678.0H173.7M24.8 683.7H181.0M24.8 688.0H150.0M24.8 702.0H160.0M24.8 709.5H175.0M24.8 713.0H185.0M218.7 713.0H229.0M24.8 717.0H150.0M24.8 721.0H140.0M24.8 725.0H130.0" stroke="#1c1c1c" stroke-width="2.8" stroke-linecap="round" fill="none"/>
<path d="M165.4 680.2h0M171.6 680.5h0M175.0 680.0h0M149.6 685.7h0M154.5 686.2h0M158.1 686.0h0M180.2 690.3h0M159.2 706.5h0M165.0 707.1h0M170.9 706.9h0M178.7 706.5h0M155.6 721.4h0M164.4 721.5h0M171.0 721.4h0M176.1 721.6h0M131.8 725.3h0M137.5 724.9h0M144.7 725.2h0M153.4 725.0h0M159.9 724.9h0M176.0 678.1h0M183.1 678.3h0M155.0 687.7h0M157.8 688.0h0M163.0 687.9h0M169.2 687.8h0M248.6 706.2h0M256.0 706.2h0M159.7 716.9h0M163.5 716.9h0M169.0 717.0h0M172.7 717.1h0M149.7 720.8h0M153.2 721.0h0M164.2 720.9h0" stroke="#1c1c1c" stroke-width="3.0" stroke-linecap="round" fill="none"/>
<rect x="23.2" y="726.5" width="72.8" height="51.8" fill="#9a9a9a"/>
<path d="M24.6 727.4H115.8M24.6 728.2H116.2M24.6 729.1H133.5M24.6 730.0H129.0M24.6 730.8H126.1M24.6 731.7H132.7M24.6 732.5H126.4M24.6 733.4H124.9M24.6 734.2H150.3M24.6 735.1H131.1M24.6 735.9H131.9M24.6 736.8H138.0M24.6 737.6H117.3M24.6 738.5H120.4M24.6 739.3H117.3M24.6 740.2H113.6M24.6 741.0H110.4M24.6 741.9H108.3M24.6 742.7H112.3M24.6 743.6H111.7M24.6 744.4H109.1M24.6 745.3H106.3M24.6 746.1H112.3M24.6 747.0H119.0M24.6 747.8H114.7M24.6 748.7H109.2M24.6 749.5H113.8M24.6 750.4H111.3M24.6 751.2H112.1M24.6 752.1H114.2M24.6 752.9H111.8M24.6 753.8H111.3M24.6 754.6H128.5M24.6 755.5H112.9M24.6 756.3H108.6M24.6 757.2H109.3M24.6 758.0H106.6M24.6 758.9H106.8M24.6 759.7H106.1M24.6 760.6H105.2M24.6 761.4H106.4M24.6 762.3H106.1M24.6 763.1H109.3M24.6 764.0H111.1M24.6 764.8H119.1M24.6 765.7H111.6M24.6 766.5H114.0M24.6 767.4H115.1M24.6 768.2H118.3M24.6 769.1H118.3M24.6 769.9H131.7M24.6 770.8H121.2M24.6 771.6H126.0M24.6 772.5H129.6M24.6 773.3H124.9M24.6 774.2H124.0M24.6 775.0H125.2M24.6 775.9H119.5M24.6 776.7H122.2M24.6 777.6H116.6" stroke="#9a9a9a" stroke-width="2.0" stroke-linecap="round" fill="none"/>
<path d="M24.6 729.3H138.5" stroke="#9a9a9a" stroke-width="3.8" stroke-linecap="round" fill="none"/>
<path d="M24.6 729.3H146.2M24.6 734.4H166.4M24.6 739.1H179.9M24.6 744.3H189.0M24.6 748.2H132.5M24.6 753.2H172.8M24.6 758.7H128.2M24.6 763.8H131.1M24.6 767.2H143.3M24.6 773.2H151.4M24.8 736.4H150.0M192.0 736.4H243.0M286.4 736.4H295.7" stroke="#9a9a9a" stroke-width="2.6" stroke-linecap="round" fill="none"/>
<path d="M24.6 734.4H153.2" stroke="#9a9a9a" stroke-width="3.5" stroke-linecap="round" fill="none"/>
<path d="M24.6 739.1H159.7M24.6 773.2H142.8" stroke="#9a9a9a" stroke-width="2.9" stroke-linecap="round" fill="none"/>
<path d="M24.6 744.3H163.9" stroke="#9a9a9a" stroke-width="3.3" stroke-linecap="round" fill="none"/>
<path d="M24.6 748.2H125.1" stroke="#9a9a9a" stroke-width="3.0" stroke-linecap="round" fill="none"/>
<path d="M24.6 753.2H154.3" stroke="#9a9a9a" stroke-width="4.1" stroke-linecap="round" fill="none"/>
<path d="M24.6 758.7H121.5" stroke="#9a9a9a" stroke-width="3.9" stroke-linecap="round" fill="none"/>
<path d="M24.6 763.8H123.6M24.8 731.0H135.0M24.8 742.0H140.0M24.8 748.0H135.0M24.8 754.0H140.0M24.8 760.0H145.0M24.8 774.0H140.0" stroke="#9a9a9a" stroke-width="2.8" stroke-linecap="round" fill="none"/>
<path d="M24.6 767.2H134.3" stroke="#9a9a9a" stroke-width="3.4" stroke-linecap="round" fill="none"/>
<path d="M24.8 768.6H260.0M276.7 768.6H370.5M374.5 768.6H415.0" stroke="#9a9a9a" stroke-width="3.1999999999999997" stroke-linecap="round" fill="none"/>
<path d="M24.8 768.6H159.6" stroke="#9a9a9a" stroke-width="4.2" stroke-linecap="round" fill="none"/>
<path d="M152.1 729.5h0M159.1 729.2h0M166.6 729.2h0M170.0 734.7h0M175.9 734.2h0M136.8 748.4h0M144.2 748.4h0M149.1 748.4h0M152.6 748.5h0M160.4 748.2h0M134.8 758.8h0M137.9 763.7h0M145.8 763.6h0M151.0 763.9h0M155.3 763.6h0M161.8 764.2h0M148.8 767.6h0M153.1 767.3h0M158.4 767.4h0M162.2 767.1h0M170.0 766.9h0M157.4 773.1h0M164.3 772.8h0M170.6 772.9h0M178.4 772.9h0M140.0 731.2h0M142.8 731.2h0M146.9 730.9h0M151.8 730.8h0M152.0 736.5h0M156.1 736.6h0M159.1 736.6h0M164.1 736.4h0M167.1 736.4h0M171.7 736.2h0M176.2 736.4h0M181.4 736.2h0M184.3 736.4h0M188.4 736.3h0M257.0 736.4h0M261.0 736.4h0M271.7 736.4h0M300.8 736.4h0M307.4 736.4h0M145.0 742.2h0M149.0 742.1h0M152.3 742.0h0M157.5 742.2h0M165.6 742.2h0M169.8 742.1h0M143.9 747.9h0M148.8 747.8h0M154.2 747.9h0M158.5 748.0h0M161.2 747.7h0M164.2 748.2h0M145.0 753.8h0M148.0 753.8h0M157.7 753.7h0M162.5 754.0h0M166.4 753.9h0M150.0 760.2h0M154.4 760.0h0M158.6 760.2h0M162.3 759.9h0M267.4 768.9h0M270.1 768.3h0" stroke="#9a9a9a" stroke-width="3.0" stroke-linecap="round" fill="none"/>
<rect x="23.2" y="778.3" width="72.8" height="54.5" fill="#1c1c1c"/>
<path d="M24.6 779.2H96.2M24.6 780.0H98.5M24.6 780.9H105.5M24.6 781.8H111.0M24.6 782.6H103.5M24.6 783.5H105.0M24.6 784.3H106.4M24.6 785.2H118.8M24.6 786.0H113.8M24.6 786.9H111.9M24.6 787.7H113.4M24.6 788.6H117.4M24.6 789.4H119.9M24.6 790.3H120.3M24.6 791.1H122.5M24.6 792.0H125.0M24.6 792.8H118.6M24.6 793.7H119.0M24.6 794.5H122.0M24.6 795.4H119.3M24.6 796.2H119.8M24.6 797.1H118.8M24.6 797.9H118.5M24.6 798.8H114.5M24.6 799.6H118.5M24.6 800.5H117.3M24.6 801.3H123.0M24.6 802.2H116.6M24.6 803.0H121.1M24.6 803.9H118.8M24.6 804.7H123.4M24.6 805.6H129.1M24.6 806.4H129.1M24.6 807.3H126.4M24.6 808.1H127.2M24.6 809.0H130.5M24.6 809.8H123.7M24.6 810.7H128.9M24.6 811.5H126.1M24.6 812.4H125.9M24.6 813.2H122.9M24.6 814.1H121.1M24.6 814.9H115.7M24.6 815.8H119.6M24.6 816.6H111.5M24.6 817.5H113.1M24.6 818.3H108.9M24.6 819.2H106.6M24.6 820.0H106.0M24.6 820.9H109.7M24.6 821.7H118.7M24.6 822.6H105.7M24.6 823.4H109.3M24.6 824.3H108.4M24.6 825.1H115.4M24.6 826.0H109.2M24.6 826.8H111.0M24.6 827.7H111.5M24.6 828.5H118.8M24.6 829.4H114.6M24.6 830.2H110.2M24.6 831.1H116.1M24.6 831.9H103.3" stroke="#1c1c1c" stroke-width="2.0" stroke-linecap="round" fill="none"/>
<path d="M24.6 780.0H153.2" stroke="#1c1c1c" stroke-width="2.7" stroke-linecap="round" fill="none"/>
<path d="M24.6 780.0H177.7M24.6 783.3H146.6M24.6 788.4H169.2M24.6 793.3H138.8M24.6 798.8H163.2M24.6 803.4H164.2M24.6 807.8H143.5M24.6 812.5H168.7M24.6 816.4H138.3M24.6 821.9H145.7M24.6 827.5H130.4" stroke="#1c1c1c" stroke-width="2.6" stroke-linecap="round" fill="none"/>
<path d="M24.6 783.3H133.8M24.8 794.0H133.3M24.8 801.2H132.5M24.8 806.0H132.8" stroke="#1c1c1c" stroke-width="3.8" stroke-linecap="round" fill="none"/>
<path d="M24.6 788.4H152.9" stroke="#1c1c1c" stroke-width="3.7" stroke-linecap="round" fill="none"/>
<path d="M24.6 793.3H132.6" stroke="#1c1c1c" stroke-width="3.6" stroke-linecap="round" fill="none"/>
<path d="M24.6 798.8H148.5M24.6 816.4H130.2" stroke="#1c1c1c" stroke-width="3.9" stroke-linecap="round" fill="none"/>
<path d="M24.6 803.4H150.1" stroke="#1c1c1c" stroke-width="3.3" stroke-linecap="round" fill="none"/>
<path d="M24.6 807.8H137.4" stroke="#1c1c1c" stroke-width="4.1" stroke-linecap="round" fill="none"/>
<path d="M24.6 812.5H154.2" stroke="#1c1c1c" stroke-width="3.2" stroke-linecap="round" fill="none"/>
<path d="M24.6 821.9H133.6" stroke="#1c1c1c" stroke-width="3.5" stroke-linecap="round" fill="none"/>
<path d="M24.6 827.5H124.4M24.8 827.5H152.3" stroke="#1c1c1c" stroke-width="4.2" stroke-linecap="round" fill="none"/>
<path d="M24.8 781.0H130.0M24.8 785.0H140.0M24.8 794.0H170.0M24.8 801.2H173.7M24.8 806.0H160.0M24.8 811.0H150.0M24.8 817.0H140.0M24.8 823.0H150.0" stroke="#1c1c1c" stroke-width="2.8" stroke-linecap="round" fill="none"/>
<path d="M24.8 790.0H200.0M24.8 798.2H150.0M155.0 798.2H245.0M252.0 798.2H310.5" stroke="#1c1c1c" stroke-width="3.0" stroke-linecap="round" fill="none"/>
<path d="M24.8 790.0H142.0" stroke="#1c1c1c" stroke-width="4.0" stroke-linecap="round" fill="none"/>
<path d="M24.8 827.5H250.0" stroke="#1c1c1c" stroke-width="3.1999999999999997" stroke-linecap="round" fill="none"/>
<path d="M24.8 830.0H271.0M297.0 830.0H304.0M318.0 830.0H329.0" stroke="#1c1c1c" stroke-width="3.4" stroke-linecap="round" fill="none"/>
<path d="M24.8 830.0H158.4" stroke="#1c1c1c" stroke-width="4.4" stroke-linecap="round" fill="none"/>
<path d="M183.9 780.2h0M142.7 793.2h0M148.0 792.9h0M156.0 793.4h0M163.1 793.2h0M171.5 798.8h0M172.7 812.9h0M176.1 812.4h0M179.4 812.3h0M146.1 816.3h0M153.4 816.5h0M156.7 816.6h0M164.4 816.3h0M168.4 816.4h0M151.6 822.3h0M135.0 780.8h0M140.5 781.2h0M144.0 781.2h0M149.1 780.8h0M145.0 785.3h0M149.2 785.2h0M158.8 784.8h0M162.2 784.9h0M203.0 789.9h0M210.9 790.1h0M214.4 790.0h0M219.6 790.1h0M224.5 789.9h0M165.0 806.1h0M169.2 806.2h0M172.5 805.8h0M175.5 806.2h0M155.0 811.3h0M157.7 810.9h0M162.8 810.8h0M165.5 810.9h0M171.1 811.2h0M145.0 816.8h0M148.6 816.9h0M157.0 817.3h0M160.1 817.0h0M155.0 823.2h0M162.3 822.8h0M165.7 822.7h0M168.5 823.1h0M173.5 822.8h0M260.0 823.0h0M267.0 823.0h0M291.7 823.0h0M275.0 830.0h0M280.5 829.8h0M285.9 829.8h0M290.3 830.1h0M308.0 829.7h0M312.5 829.8h0" stroke="#1c1c1c" stroke-width="3.0" stroke-linecap="round" fill="none"/>
<rect x="23.2" y="832.8" width="72.8" height="50.8" fill="#9a9a9a"/>
<path d="M24.6 833.7H105.8M24.6 834.5H108.6M24.6 835.4H114.7M24.6 836.2H114.1M24.6 837.1H110.5M24.6 838.0H114.2M24.6 838.8H110.8M24.6 839.7H122.0M24.6 840.5H118.2M24.6 841.4H114.0M24.6 842.2H117.6M24.6 843.1H114.7M24.6 843.9H114.6M24.6 844.8H116.0M24.6 845.6H114.9M24.6 846.5H113.5M24.6 847.3H114.5M24.6 848.2H114.7M24.6 849.0H114.6M24.6 849.9H110.0M24.6 850.7H114.3M24.6 851.6H106.7M24.6 852.4H108.3M24.6 853.3H104.7M24.6 854.1H110.3M24.6 855.0H104.5M24.6 855.8H102.1M24.6 856.7H109.2M24.6 857.5H108.1M24.6 858.4H111.6M24.6 859.2H119.2M24.6 860.1H110.2M24.6 860.9H115.0M24.6 861.8H116.6M24.6 862.6H116.3M24.6 863.5H119.0M24.6 864.3H118.3M24.6 865.2H118.6M24.6 866.0H118.9M24.6 866.9H123.9M24.6 867.7H119.6M24.6 868.6H121.9M24.6 869.4H118.7M24.6 870.3H121.9M24.6 871.1H116.6M24.6 872.0H116.7M24.6 872.8H115.5M24.6 873.7H118.8M24.6 874.5H115.5M24.6 875.4H115.6M24.6 876.2H119.0M24.6 877.1H120.2M24.6 877.9H124.4M24.6 878.8H120.6M24.6 879.6H120.1M24.6 880.5H122.3M24.6 881.3H120.6M24.6 882.2H116.8" stroke="#9a9a9a" stroke-width="2.0" stroke-linecap="round" fill="none"/>
<path d="M24.6 835.9H135.4M24.6 869.8H136.3" stroke="#9a9a9a" stroke-width="2.7" stroke-linecap="round" fill="none"/>
<path d="M24.6 835.9H146.0M24.6 839.4H169.3M24.6 844.5H164.3M24.6 850.3H143.7M24.6 850.3H159.5M24.6 855.9H185.5M24.6 860.3H167.0M24.6 865.0H149.2M24.6 869.8H144.4M24.6 873.6H154.9M24.6 877.7H152.1" stroke="#9a9a9a" stroke-width="2.6" stroke-linecap="round" fill="none"/>
<path d="M24.6 839.4H151.5M24.6 855.9H160.4M24.6 865.0H139.8" stroke="#9a9a9a" stroke-width="3.9" stroke-linecap="round" fill="none"/>
<path d="M24.6 844.5H149.0" stroke="#9a9a9a" stroke-width="3.7" stroke-linecap="round" fill="none"/>
<path d="M24.6 860.3H149.5M24.6 873.6H142.8" stroke="#9a9a9a" stroke-width="2.9" stroke-linecap="round" fill="none"/>
<path d="M24.6 877.7H141.5" stroke="#9a9a9a" stroke-width="4.1" stroke-linecap="round" fill="none"/>
<path d="M340.0 832.6H375.0" stroke="#9a9a9a" stroke-width="2.4" stroke-linecap="round" fill="none"/>
<path d="M24.8 836.0H160.0M24.8 840.6H150.0M24.8 846.0H145.0M24.8 853.0H150.0M24.8 858.0H140.0M24.8 864.0H150.0M24.8 869.0H160.0M24.8 873.0H200.0M24.8 882.0H150.0" stroke="#9a9a9a" stroke-width="2.8" stroke-linecap="round" fill="none"/>
<path d="M24.8 836.0H125.4M24.8 869.0H130.7M24.8 873.0H140.4" stroke="#9a9a9a" stroke-width="3.8" stroke-linecap="round" fill="none"/>
<path d="M24.8 877.6H305.0M337.0 877.6H346.0M349.0 877.6H358.0M361.0 877.6H371.0" stroke="#9a9a9a" stroke-width="3.0" stroke-linecap="round" fill="none"/>
<path d="M24.8 877.6H173.0" stroke="#9a9a9a" stroke-width="4.0" stroke-linecap="round" fill="none"/>
<path d="M150.4 836.3h0M155.9 836.2h0M162.2 835.6h0M173.1 839.7h0M176.4 839.4h0M150.3 870.1h0M154.6 869.8h0M159.6 869.8h0M163.8 870.2h0M169.6 870.0h0M156.9 877.5h0M165.3 877.6h0M327.0 832.7h0M331.2 832.7h0M380.0 832.9h0M382.9 832.3h0M387.3 832.4h0M391.2 832.5h0M394.8 832.5h0M398.8 832.5h0M403.6 832.9h0M412.4 832.4h0M417.1 832.6h0M422.1 832.5h0M426.9 832.3h0M165.0 836.1h0M170.3 836.1h0M178.8 835.9h0M182.4 836.2h0M185.0 840.5h0M189.4 840.6h0M194.4 840.6h0M199.7 840.8h0M152.7 845.9h0M158.1 845.8h0M160.8 845.8h0M164.5 845.8h0M169.7 845.9h0M172.6 846.3h0M155.0 853.2h0M164.4 853.1h0M168.2 853.2h0M173.1 853.0h0M176.0 853.2h0M179.5 852.7h0M187.0 853.0h0M205.0 853.0h0M235.0 853.3h0M240.2 853.3h0M244.7 853.0h0M247.8 852.8h0M145.0 858.1h0M153.3 857.9h0M157.8 858.2h0M161.3 857.9h0M164.1 857.9h0M169.1 857.8h0M155.0 863.7h0M158.7 863.8h0M163.9 863.8h0M167.6 864.2h0M170.3 863.9h0M173.1 864.0h0M176.6 864.1h0M181.5 863.9h0M165.0 869.1h0M170.5 868.8h0M174.7 869.0h0M179.0 869.0h0M184.5 868.8h0M187.4 869.1h0M191.2 869.3h0M195.6 869.2h0M199.9 869.3h0M210.5 873.0h0M215.8 873.1h0M218.6 873.2h0M227.4 872.7h0M237.7 872.9h0M240.4 873.3h0M250.4 872.7h0M255.6 872.8h0M258.5 872.8h0M318.0 877.6h0M321.7 877.6h0M334.5 877.6h0" stroke="#9a9a9a" stroke-width="3.0" stroke-linecap="round" fill="none"/>
<rect x="23.2" y="887.9" width="72.8" height="39.5" fill="#1c1c1c"/>
<path d="M24.6 888.8H108.1M24.6 889.6H103.8M24.6 890.5H111.4M24.6 891.4H114.2M24.6 892.2H111.6M24.6 893.1H122.5M24.6 893.9H110.3M24.6 894.8H109.2M24.6 895.6H106.5M24.6 896.5H106.3M24.6 897.3H107.6M24.6 898.2H108.9M24.6 899.0H120.6M24.6 899.9H112.7M24.6 900.7H114.8M24.6 901.6H118.6M24.6 902.4H120.0M24.6 903.3H121.2M24.6 904.1H120.0M24.6 905.0H120.5M24.6 905.8H122.3M24.6 906.7H124.2M24.6 907.5H123.3M24.6 908.4H122.6M24.6 909.2H122.3M24.6 910.1H117.5M24.6 910.9H116.4M24.6 911.8H117.3M24.6 912.6H115.2M24.6 913.5H110.9M24.6 914.3H113.2M24.6 915.2H110.5M24.6 916.0H107.4M24.6 916.9H112.3M24.6 917.7H109.3M24.6 918.6H108.5M24.6 919.4H108.9M24.6 920.3H117.4M24.6 921.1H116.7M24.6 922.0H114.9M24.6 922.8H112.7M24.6 923.7H117.5M24.6 924.5H109.7M24.6 925.4H113.8M24.6 926.2H104.5" stroke="#1c1c1c" stroke-width="2.0" stroke-linecap="round" fill="none"/>
<path d="M24.6 889.9H151.6M24.8 904.3H131.6M24.8 925.9H119.1" stroke="#1c1c1c" stroke-width="3.8" stroke-linecap="round" fill="none"/>
<path d="M24.6 889.9H171.7M24.6 895.5H130.9M24.6 900.7H149.7M24.6 904.4H189.0M24.6 908.8H146.8M24.6 914.4H141.9M24.6 918.0H130.9M24.6 922.4H182.1" stroke="#1c1c1c" stroke-width="2.6" stroke-linecap="round" fill="none"/>
<path d="M24.6 895.5H123.4M24.8 912.9H204.0" stroke="#1c1c1c" stroke-width="3.1" stroke-linecap="round" fill="none"/>
<path d="M24.6 900.7H138.8" stroke="#1c1c1c" stroke-width="3.0" stroke-linecap="round" fill="none"/>
<path d="M24.6 904.4H168.3" stroke="#1c1c1c" stroke-width="3.3" stroke-linecap="round" fill="none"/>
<path d="M24.6 908.8H138.5" stroke="#1c1c1c" stroke-width="3.4" stroke-linecap="round" fill="none"/>
<path d="M24.6 914.4H132.0" stroke="#1c1c1c" stroke-width="2.9" stroke-linecap="round" fill="none"/>
<path d="M24.6 918.0H123.6M24.6 922.4H160.3M24.8 897.0H186.5" stroke="#1c1c1c" stroke-width="3.6" stroke-linecap="round" fill="none"/>
<path d="M24.8 890.0H130.0M24.8 893.5H150.0M24.8 900.5H150.0M24.8 904.3H159.0M24.8 908.0H140.0M24.8 917.0H135.0M24.8 921.0H128.0M24.8 925.9H156.0M161.0 925.9H180.0" stroke="#1c1c1c" stroke-width="2.8" stroke-linecap="round" fill="none"/>
<path d="M24.8 897.0H130.7" stroke="#1c1c1c" stroke-width="4.6" stroke-linecap="round" fill="none"/>
<path d="M24.8 912.9H139.2" stroke="#1c1c1c" stroke-width="4.1" stroke-linecap="round" fill="none"/>
<path d="M175.4 889.7h0M182.1 890.0h0M138.4 895.7h0M145.8 895.3h0M158.0 901.1h0M152.0 909.0h0M155.3 908.6h0M145.9 914.7h0M153.1 914.4h0M158.3 914.8h0M165.2 914.4h0M137.7 918.2h0M141.4 918.3h0M150.6 918.1h0M157.1 918.3h0M137.0 890.2h0M140.8 890.1h0M146.1 890.0h0M149.9 890.2h0M155.4 890.0h0M159.0 889.9h0M172.5 904.3h0M145.0 907.9h0M154.3 908.0h0M159.3 907.8h0M138.0 917.1h0M147.1 917.1h0M131.0 921.0h0M137.4 921.2h0M141.2 921.1h0" stroke="#1c1c1c" stroke-width="3.0" stroke-linecap="round" fill="none"/>
<rect x="23.2" y="932.1" width="72.8" height="35.5" fill="#9a9a9a"/>
<path d="M24.6 933.0H120.7M24.6 933.9H150.1M24.6 934.7H130.1M24.6 935.6H139.6M24.6 936.4H149.6M24.6 937.3H132.2M24.6 938.1H131.5M24.6 939.0H130.3M24.6 939.8H130.8M24.6 940.7H128.4M24.6 941.5H128.1M24.6 942.4H127.3M24.6 943.2H126.5M24.6 944.1H131.1M24.6 944.9H129.5M24.6 945.8H126.7M24.6 946.6H134.8M24.6 947.5H129.3M24.6 948.3H131.4M24.6 949.2H130.3M24.6 950.0H135.8M24.6 950.9H133.0M24.6 951.7H132.9M24.6 952.6H139.0M24.6 953.4H134.4M24.6 954.3H131.5M24.6 955.1H136.5M24.6 956.0H130.2M24.6 956.8H131.4M24.6 957.7H130.2M24.6 958.5H126.5M24.6 959.4H121.1M24.6 960.2H124.5M24.6 961.1H123.5M24.6 961.9H116.1M24.6 962.8H117.9M24.6 963.6H115.9M24.6 964.5H120.5M24.6 965.3H110.3M24.6 966.2H111.7" stroke="#9a9a9a" stroke-width="2.0" stroke-linecap="round" fill="none"/>
<path d="M24.6 934.4H151.1" stroke="#9a9a9a" stroke-width="3.5" stroke-linecap="round" fill="none"/>
<path d="M24.6 934.4H161.2M24.6 941.0H189.0M24.6 951.6H156.2M24.6 956.4H181.4M24.6 961.8H139.5" stroke="#9a9a9a" stroke-width="2.6" stroke-linecap="round" fill="none"/>
<path d="M24.6 941.0H170.3" stroke="#9a9a9a" stroke-width="2.9" stroke-linecap="round" fill="none"/>
<path d="M24.6 951.6H148.8" stroke="#9a9a9a" stroke-width="3.3" stroke-linecap="round" fill="none"/>
<path d="M24.6 956.4H165.1" stroke="#9a9a9a" stroke-width="3.7" stroke-linecap="round" fill="none"/>
<path d="M24.6 961.8H132.2" stroke="#9a9a9a" stroke-width="4.1" stroke-linecap="round" fill="none"/>
<path d="M24.8 933.9H118.0M24.8 942.0H150.0M24.8 946.9H166.5M24.8 950.0H150.0M24.8 953.6H145.0M169.5 953.6H233.0M24.8 957.5H153.0M24.8 960.5H153.0" stroke="#9a9a9a" stroke-width="2.8" stroke-linecap="round" fill="none"/>
<path d="M24.8 937.3H237.5" stroke="#9a9a9a" stroke-width="3.1999999999999997" stroke-linecap="round" fill="none"/>
<path d="M24.8 937.3H162.6" stroke="#9a9a9a" stroke-width="4.2" stroke-linecap="round" fill="none"/>
<path d="M24.8 946.9H138.6M24.8 957.5H133.4M24.8 960.5H128.4" stroke="#9a9a9a" stroke-width="3.8" stroke-linecap="round" fill="none"/>
<path d="M24.8 964.2H331.0" stroke="#9a9a9a" stroke-width="2.4" stroke-linecap="round" fill="none"/>
<path d="M24.8 964.2H178.4" stroke="#9a9a9a" stroke-width="3.4" stroke-linecap="round" fill="none"/>
<path d="M165.9 934.6h0M174.5 934.1h0M146.9 961.9h0M123.7 933.9h0M157.7 933.9h0M177.0 933.9h0M181.0 933.9h0M169.9 942.0h0M174.7 942.0h0M157.0 960.6h0M166.2 960.4h0M169.6 960.4h0M175.9 960.7h0M179.4 960.7h0" stroke="#9a9a9a" stroke-width="3.0" stroke-linecap="round" fill="none"/>
<rect x="23.2" y="972.6" width="72.8" height="31.3" fill="#1c1c1c"/>
<path d="M24.6 973.5H98.2M24.6 974.4H101.9M24.6 975.2H106.0M24.6 976.1H108.6M24.6 976.9H113.3M24.6 977.8H111.7M24.6 978.6H110.8M24.6 979.5H106.3M24.6 980.3H109.8M24.6 981.2H107.8M24.6 982.0H103.8M24.6 982.9H102.8M24.6 983.7H102.3M24.6 984.6H103.3M24.6 985.4H102.6M24.6 986.3H106.4M24.6 987.1H104.7M24.6 988.0H108.0M24.6 988.8H108.6M24.6 989.7H111.6M24.6 990.5H115.3M24.6 991.4H113.5M24.6 992.2H115.1M24.6 993.1H128.4M24.6 993.9H118.3M24.6 994.8H119.4M24.6 995.6H119.8M24.6 996.5H120.9M24.6 997.3H123.1M24.6 998.2H119.6M24.6 999.0H119.4M24.6 999.9H123.5M24.6 1000.7H116.6M24.6 1001.6H112.2M24.6 1002.4H107.6" stroke="#1c1c1c" stroke-width="2.0" stroke-linecap="round" fill="none"/>
<path d="M24.6 974.6H116.2" stroke="#1c1c1c" stroke-width="2.9" stroke-linecap="round" fill="none"/>
<path d="M24.6 974.6H122.3M24.6 982.1H134.4M24.6 987.0H165.2M24.6 991.6H153.2M24.6 997.3H152.0M24.6 1002.0H166.4" stroke="#1c1c1c" stroke-width="2.6" stroke-linecap="round" fill="none"/>
<path d="M24.6 982.1H125.1" stroke="#1c1c1c" stroke-width="3.5" stroke-linecap="round" fill="none"/>
<path d="M24.6 987.0H146.8M24.6 991.6H141.2M24.6 997.3H142.4M24.8 989.0H126.8M24.8 992.8H129.1M24.8 998.8H229.0" stroke="#1c1c1c" stroke-width="3.8" stroke-linecap="round" fill="none"/>
<path d="M24.6 1002.0H149.4" stroke="#1c1c1c" stroke-width="3.9" stroke-linecap="round" fill="none"/>
<path d="M24.8 976.5H125.0M24.8 983.9H140.0M24.8 986.5H150.0M24.8 989.0H172.5M183.0 989.0H222.8M24.8 992.8H160.0" stroke="#1c1c1c" stroke-width="2.8" stroke-linecap="round" fill="none"/>
<path d="M24.8 980.2H172.5" stroke="#1c1c1c" stroke-width="3.1999999999999997" stroke-linecap="round" fill="none"/>
<path d="M24.8 980.2H125.4" stroke="#1c1c1c" stroke-width="4.2" stroke-linecap="round" fill="none"/>
<path d="M24.8 996.3H225.0M24.8 1001.4H222.0" stroke="#1c1c1c" stroke-width="3.4" stroke-linecap="round" fill="none"/>
<path d="M24.8 996.3H151.5M24.8 1001.4H145.6" stroke="#1c1c1c" stroke-width="4.4" stroke-linecap="round" fill="none"/>
<path d="M24.8 998.8H151.8" stroke="#1c1c1c" stroke-width="4.8" stroke-linecap="round" fill="none"/>
<path d="M126.3 974.8h0M134.0 974.5h0M143.2 974.5h0M169.5 986.8h0M159.7 991.2h0M168.2 991.8h0M174.0 991.4h0M178.4 991.7h0M187.5 991.2h0M157.8 997.5h0M173.9 1002.3h0M177.0 980.0h0M187.0 980.2h0M199.0 980.2h0M145.0 983.9h0M149.9 983.9h0M156.1 984.1h0M160.4 984.0h0M163.6 984.1h0M187.0 983.9h0M200.5 983.9h0M166.1 993.0h0M170.5 992.6h0M175.7 992.6h0M180.0 992.8h0M184.3 992.6h0M188.6 993.0h0M191.8 992.6h0M196.1 992.9h0M204.2 993.1h0M263.0 996.3h0M274.7 996.3h0M285.0 996.3h0M289.0 996.3h0" stroke="#1c1c1c" stroke-width="3.0" stroke-linecap="round" fill="none"/>
<rect x="23.2" y="1003.9" width="72.8" height="18.1" fill="#9a9a9a"/>
<path d="M24.6 1004.8H119.0M24.6 1005.6H128.1M24.6 1006.5H124.1M24.6 1007.4H128.5M24.6 1008.2H133.6M24.6 1009.1H129.6M24.6 1009.9H126.4M24.6 1010.8H125.2M24.6 1011.6H126.2M24.6 1012.5H128.1M24.6 1013.3H140.9M24.6 1014.2H130.2M24.6 1015.0H133.0M24.6 1015.9H134.4M24.6 1016.7H129.9M24.6 1017.6H129.0M24.6 1018.4H135.9M24.6 1019.3H127.4M24.6 1020.1H125.7M24.6 1021.0H125.2" stroke="#9a9a9a" stroke-width="2.0" stroke-linecap="round" fill="none"/>
<path d="M24.6 1006.6H169.3" stroke="#9a9a9a" stroke-width="3.7" stroke-linecap="round" fill="none"/>
<path d="M24.6 1006.6H189.0M24.6 1014.2H143.5M24.6 1014.2H150.4" stroke="#9a9a9a" stroke-width="2.6" stroke-linecap="round" fill="none"/>
<path d="M24.8 1006.5H170.0M24.8 1009.3H190.0M24.8 1013.0H160.0M24.8 1016.4H163.6M24.8 1020.0H175.0" stroke="#9a9a9a" stroke-width="2.8" stroke-linecap="round" fill="none"/>
<path d="M24.8 1006.5H136.9M24.8 1009.3H143.9M24.8 1013.0H136.9M24.8 1016.4H138.2M24.8 1020.0H137.8" stroke="#9a9a9a" stroke-width="3.8" stroke-linecap="round" fill="none"/>
<path d="M157.5 1013.9h0M164.7 1014.3h0M170.6 1014.0h0M175.3 1014.1h0M173.0 1006.3h0M176.7 1006.6h0M183.9 1006.4h0M187.5 1006.7h0M165.0 1012.8h0M168.5 1013.0h0M173.5 1013.0h0M176.7 1013.1h0M179.7 1012.9h0M183.1 1012.9h0M168.8 1016.4h0M180.0 1016.4h0M185.0 1016.4h0" stroke="#9a9a9a" stroke-width="3.0" stroke-linecap="round" fill="none"/>
</g>
<path d="M21.5 1021V88H427.5V1021" stroke="#000" stroke-width="1" fill="none"/>
<line x1="192" y1="88.5" x2="192" y2="1021" stroke="#f00" stroke-width="2.6"/>
<line x1="195" y1="115.6" x2="275.5" y2="110" stroke="#4a68fa" stroke-width="1.1"/>
<line x1="193" y1="126.8" x2="206.8" y2="136.5" stroke="#fa0a0a" stroke-width="1.1"/>
<line x1="229.3" y1="213" x2="243" y2="201.6" stroke="#4a68fa" stroke-width="1.1"/>
<line x1="195.5" y1="213" x2="210.8" y2="225.8" stroke="#4a68fa" stroke-width="1.1"/>
<line x1="309.7" y1="260" x2="315.8" y2="251" stroke="#fa0a0a" stroke-width="1.1"/>
<line x1="400.6" y1="261.1" x2="403.5" y2="253" stroke="#4a68fa" stroke-width="1.1"/>
<line x1="289.6" y1="278" x2="295.7" y2="270.4" stroke="#fa0a0a" stroke-width="1.1"/>
<line x1="195.9" y1="283.3" x2="222.4" y2="269.2" stroke="#fa0a0a" stroke-width="1.1"/>
<line x1="222.4" y1="284.1" x2="234.5" y2="307.4" stroke="#fa0a0a" stroke-width="1.1"/>
<line x1="253" y1="291.3" x2="292.8" y2="303.4" stroke="#4a68fa" stroke-width="1.1"/>
<line x1="212.4" y1="300.2" x2="224" y2="320.3" stroke="#fa0a0a" stroke-width="1.1"/>
<line x1="193" y1="458.6" x2="206.8" y2="465.5" stroke="#fa0a0a" stroke-width="1.1"/>
<line x1="239.7" y1="521.8" x2="248.6" y2="514.5" stroke="#4a68fa" stroke-width="1.1"/>
<line x1="298.9" y1="525.8" x2="305" y2="519.8" stroke="#fa0a0a" stroke-width="1.1"/>
<line x1="200.3" y1="537" x2="204.3" y2="519.8" stroke="#4a68fa" stroke-width="1.1"/>
<line x1="195.9" y1="542.7" x2="210.4" y2="533.8" stroke="#fa0a0a" stroke-width="1.1"/>
<line x1="257.4" y1="599.4" x2="265.5" y2="580" stroke="#4a68fa" stroke-width="1.1"/>
<line x1="221.2" y1="600.6" x2="209" y2="590" stroke="#4a68fa" stroke-width="1.1"/>
<line x1="259.5" y1="600.6" x2="282.8" y2="588" stroke="#4a68fa" stroke-width="1.1"/>
<line x1="256.2" y1="610.6" x2="265" y2="607" stroke="#4a68fa" stroke-width="1.1"/>
<line x1="216.4" y1="629.5" x2="223.3" y2="651.7" stroke="#fa0a0a" stroke-width="1.1"/>
<line x1="263.9" y1="642.4" x2="276" y2="651.7" stroke="#fa0a0a" stroke-width="1.1"/>
<line x1="227.7" y1="789.6" x2="247.4" y2="784.4" stroke="#fa0a0a" stroke-width="1.1"/>
<line x1="206" y1="791.6" x2="217.2" y2="781.5" stroke="#4a68fa" stroke-width="1.1"/>
<line x1="310.5" y1="798" x2="320.6" y2="803.7" stroke="#fa0a0a" stroke-width="1.1"/>
<line x1="240.5" y1="830.6" x2="249.4" y2="839" stroke="#4a68fa" stroke-width="1.1"/>
<line x1="195.9" y1="831" x2="208" y2="816.5" stroke="#4a68fa" stroke-width="1.1"/>
<line x1="202" y1="963.7" x2="210.4" y2="971.8" stroke="#fa0a0a" stroke-width="1.1"/>
<line x1="229.3" y1="998.7" x2="239.3" y2="987" stroke="#fa0a0a" stroke-width="1.1"/>
<line x1="231" y1="998.5" x2="283.6" y2="991" stroke="#fa0a0a" stroke-width="1.1"/>
<line x1="203.1" y1="1008.8" x2="245.4" y2="1004.7" stroke="#4a68fa" stroke-width="1.1"/>
<line x1="211.2" y1="1009.6" x2="244.2" y2="1013.2" stroke="#4a68fa" stroke-width="1.1"/>
<circle cx="195" cy="115.6" r="2.0" fill="none" fill-opacity="0.85" stroke="#4a68fa" stroke-width="1.1"/>
<circle cx="193" cy="126.8" r="2.0" fill="#fa0a0a" fill-opacity="0.85" stroke="#fa0a0a" stroke-width="1.1"/>
<circle cx="429" cy="127" r="2.0" fill="none" fill-opacity="0.85" stroke="#fa0a0a" stroke-width="1.1"/>
<circle cx="247" cy="182.7" r="2.0" fill="#fa0a0a" fill-opacity="0.85" stroke="#fa0a0a" stroke-width="1.1"/>
<circle cx="229.3" cy="213" r="2.0" fill="none" fill-opacity="0.85" stroke="#4a68fa" stroke-width="1.1"/>
<circle cx="195.5" cy="213" r="2.0" fill="none" fill-opacity="0.85" stroke="#4a68fa" stroke-width="1.1"/>
<circle cx="214.4" cy="255.1" r="2.0" fill="none" fill-opacity="0.85" stroke="#fa0a0a" stroke-width="1.1"/>
<circle cx="309.7" cy="260" r="2.0" fill="none" fill-opacity="0.85" stroke="#fa0a0a" stroke-width="1.1"/>
<circle cx="400.6" cy="261.1" r="2.0" fill="none" fill-opacity="0.85" stroke="#4a68fa" stroke-width="1.1"/>
<circle cx="376.1" cy="274" r="2.0" fill="#4a68fa" fill-opacity="0.85" stroke="#4a68fa" stroke-width="1.1"/>
<circle cx="289.6" cy="278" r="2.0" fill="#fa0a0a" fill-opacity="0.85" stroke="#fa0a0a" stroke-width="1.1"/>
<circle cx="195.9" cy="283.3" r="2.0" fill="#fa0a0a" fill-opacity="0.85" stroke="#fa0a0a" stroke-width="1.1"/>
<circle cx="222.4" cy="284.1" r="2.0" fill="#fa0a0a" fill-opacity="0.85" stroke="#fa0a0a" stroke-width="1.1"/>
<circle cx="253" cy="291.3" r="2.0" fill="#4a68fa" fill-opacity="0.85" stroke="#4a68fa" stroke-width="1.1"/>
<circle cx="212.4" cy="300.2" r="2.0" fill="none" fill-opacity="0.85" stroke="#fa0a0a" stroke-width="1.1"/>
<circle cx="284.8" cy="329.5" r="2.0" fill="#4a68fa" fill-opacity="0.85" stroke="#4a68fa" stroke-width="1.1"/>
<circle cx="286.8" cy="346.4" r="2.0" fill="#fa0a0a" fill-opacity="0.85" stroke="#fa0a0a" stroke-width="1.1"/>
<circle cx="192.7" cy="407.1" r="2.0" fill="#fa0a0a" fill-opacity="0.85" stroke="#fa0a0a" stroke-width="1.1"/>
<circle cx="276" cy="420" r="2.0" fill="none" fill-opacity="0.85" stroke="#fa0a0a" stroke-width="1.1"/>
<circle cx="331.5" cy="448.2" r="2.0" fill="#4a68fa" fill-opacity="0.85" stroke="#4a68fa" stroke-width="1.1"/>
<circle cx="193" cy="458.6" r="2.0" fill="#fa0a0a" fill-opacity="0.85" stroke="#fa0a0a" stroke-width="1.1"/>
<circle cx="239.7" cy="521.8" r="2.0" fill="#4a68fa" fill-opacity="0.85" stroke="#4a68fa" stroke-width="1.1"/>
<circle cx="298.9" cy="525.8" r="2.0" fill="#fa0a0a" fill-opacity="0.85" stroke="#fa0a0a" stroke-width="1.1"/>
<circle cx="200.3" cy="537" r="2.0" fill="#4a68fa" fill-opacity="0.85" stroke="#4a68fa" stroke-width="1.1"/>
<circle cx="195.9" cy="542.7" r="2.0" fill="none" fill-opacity="0.85" stroke="#fa0a0a" stroke-width="1.1"/>
<circle cx="209.2" cy="548.7" r="2.0" fill="none" fill-opacity="0.85" stroke="#4a68fa" stroke-width="1.1"/>
<circle cx="202.3" cy="568.4" r="2.0" fill="none" fill-opacity="0.85" stroke="#fa0a0a" stroke-width="1.1"/>
<circle cx="257.4" cy="599.4" r="2.0" fill="#4a68fa" fill-opacity="0.85" stroke="#4a68fa" stroke-width="1.1"/>
<circle cx="221.2" cy="600.6" r="2.0" fill="#4a68fa" fill-opacity="0.85" stroke="#4a68fa" stroke-width="1.1"/>
<circle cx="259.5" cy="600.6" r="2.0" fill="#4a68fa" fill-opacity="0.85" stroke="#4a68fa" stroke-width="1.1"/>
<circle cx="256.2" cy="610.6" r="2.0" fill="#4a68fa" fill-opacity="0.85" stroke="#4a68fa" stroke-width="1.1"/>
<circle cx="208" cy="621.1" r="2.0" fill="none" fill-opacity="0.85" stroke="#fa0a0a" stroke-width="1.1"/>
<circle cx="216.4" cy="629.5" r="2.0" fill="none" fill-opacity="0.85" stroke="#fa0a0a" stroke-width="1.1"/>
<circle cx="278.4" cy="629.9" r="2.0" fill="none" fill-opacity="0.85" stroke="#fa0a0a" stroke-width="1.1"/>
<circle cx="263.9" cy="642.4" r="2.0" fill="none" fill-opacity="0.85" stroke="#fa0a0a" stroke-width="1.1"/>
<circle cx="229.3" cy="713.2" r="2.0" fill="none" fill-opacity="0.85" stroke="#4a68fa" stroke-width="1.1"/>
<circle cx="417.1" cy="768.7" r="2.0" fill="#4a68fa" fill-opacity="0.85" stroke="#4a68fa" stroke-width="1.1"/>
<circle cx="227.7" cy="789.6" r="2.0" fill="#fa0a0a" fill-opacity="0.85" stroke="#fa0a0a" stroke-width="1.1"/>
<circle cx="206" cy="791.6" r="2.0" fill="#4a68fa" fill-opacity="0.85" stroke="#4a68fa" stroke-width="1.1"/>
<circle cx="310.5" cy="798" r="2.0" fill="none" fill-opacity="0.85" stroke="#fa0a0a" stroke-width="1.1"/>
<circle cx="362.8" cy="827.8" r="2.0" fill="#4a68fa" fill-opacity="0.85" stroke="#4a68fa" stroke-width="1.1"/>
<circle cx="240.5" cy="830.6" r="2.0" fill="#4a68fa" fill-opacity="0.85" stroke="#4a68fa" stroke-width="1.1"/>
<circle cx="195.9" cy="831" r="2.0" fill="#4a68fa" fill-opacity="0.85" stroke="#4a68fa" stroke-width="1.1"/>
<circle cx="203.1" cy="840.7" r="2.0" fill="none" fill-opacity="0.85" stroke="#fa0a0a" stroke-width="1.1"/>
<circle cx="263.9" cy="853.1" r="2.0" fill="none" fill-opacity="0.85" stroke="#4a68fa" stroke-width="1.1"/>
<circle cx="374.1" cy="878" r="2.0" fill="#4a68fa" fill-opacity="0.85" stroke="#4a68fa" stroke-width="1.1"/>
<circle cx="205.5" cy="912.6" r="2.0" fill="#4a68fa" fill-opacity="0.85" stroke="#4a68fa" stroke-width="1.1"/>
<circle cx="238.5" cy="937.2" r="2.0" fill="none" fill-opacity="0.85" stroke="#fa0a0a" stroke-width="1.1"/>
<circle cx="191.5" cy="949.2" r="2.0" fill="none" fill-opacity="0.85" stroke="#fa0a0a" stroke-width="1.1"/>
<circle cx="248.2" cy="953.3" r="2.0" fill="none" fill-opacity="0.85" stroke="#fa0a0a" stroke-width="1.1"/>
<circle cx="202" cy="963.7" r="2.0" fill="none" fill-opacity="0.85" stroke="#fa0a0a" stroke-width="1.1"/>
<circle cx="332.3" cy="965.7" r="2.0" fill="#4a68fa" fill-opacity="0.85" stroke="#4a68fa" stroke-width="1.1"/>
<circle cx="229.3" cy="998.7" r="2.0" fill="#fa0a0a" fill-opacity="0.85" stroke="#fa0a0a" stroke-width="1.1"/>
<circle cx="231" cy="998.5" r="2.0" fill="#fa0a0a" fill-opacity="0.85" stroke="#fa0a0a" stroke-width="1.1"/>
<circle cx="203.1" cy="1008.8" r="2.0" fill="none" fill-opacity="0.85" stroke="#4a68fa" stroke-width="1.1"/>
<circle cx="211.2" cy="1009.6" r="2.0" fill="none" fill-opacity="0.85" stroke="#4a68fa" stroke-width="1.1"/>
<circle cx="304.5" cy="1017.2" r="2.0" fill="none" fill-opacity="0.85" stroke="#4a68fa" stroke-width="1.1"/>
<circle cx="500" cy="1030" r="2.0" fill="none" fill-opacity="0.85" stroke="#4a68fa" stroke-width="1.1"/>
<text x="275.5" y="114.3" font-size="13.4" font-weight="bold" fill="#176a1c">PDE4B</text>
<text x="208.4" y="142.1" font-size="13.4" font-weight="bold" fill="#1cb02a">DPYD</text>
<text x="392.2" y="141.8" font-size="13.4" font-weight="bold" fill="#1cb02a">DPYD</text>
<text x="243" y="179.1" font-size="13.4" font-weight="bold" fill="#ee1515">AKT3</text>
<text x="243" y="201.6" font-size="13.4" font-weight="bold" fill="#a50c0c">ALMS1</text>
<text x="213.2" y="232.6" font-size="13.4" font-weight="bold" fill="#176a1c">SFXN5</text>
<text x="217.2" y="253.8" font-size="13.4" font-weight="bold" fill="#7f7f7f">ZNF804A</text>
<text x="317" y="250.8" font-size="13.4" font-weight="bold" fill="#176a1c">HSPD1</text>
<text x="370" y="250.3" font-size="13.4" font-weight="bold" fill="#228822">FTCDNL1</text>
<text x="379.7" y="275.2" font-size="13.4" font-weight="bold" fill="#176a1c">NGEF</text>
<text x="294.9" y="271.2" font-size="13.4" font-weight="bold" fill="#8a0a0a">CNTN4</text>
<text x="224.5" y="272.8" font-size="13.4" font-weight="bold" fill="#1cb02a">PLCL2</text>
<text x="236.5" y="314.6" font-size="13.4" font-weight="bold" fill="#a86e3e">TBC1D5</text>
<text x="293.6" y="312.2" font-size="13.4" font-weight="bold" fill="#ee1515">TRANK1</text>
<text x="225.3" y="326.3" font-size="13.4" font-weight="bold" fill="#228822">FHIT</text>
<text x="288.8" y="339.6" font-size="13.4" font-weight="bold" fill="#176a1c">MSL2</text>
<text x="290.4" y="357.7" font-size="13.4" font-weight="bold" fill="#1cb02a">FXR1</text>
<text x="194.3" y="405.0" font-size="13.4" font-weight="bold" fill="#176a1c">INPP4B</text>
<text x="278.8" y="430.0" font-size="13.4" font-weight="bold" fill="#2ecc2e">GPM6A</text>
<text x="335.9" y="447.3" font-size="13.4" font-weight="bold" fill="#176a1c">ZSWIM6</text>
<text x="208.4" y="472.3" font-size="13.4" font-weight="bold" fill="#176a1c">MEF2C</text>
<text x="250.2" y="519.3" font-size="13.4" font-weight="bold" fill="#176a1c">RIMS1</text>
<text x="306.5" y="519.8" font-size="13.4" font-weight="bold" fill="#7f7f7f">SNAP91</text>
<text x="194.3" y="519.3" font-size="13.4" font-weight="bold" fill="#1cb02a">HS3ST5</text>
<text x="212.4" y="537.4" font-size="13.4" font-weight="bold" fill="#a86e3e">PTPRK</text>
<text x="212" y="558.3" font-size="13.4" font-weight="bold" fill="#176a1c">AIG1</text>
<text x="205.1" y="579.2" font-size="13.4" font-weight="bold" fill="#7f7f7f">MPP6</text>
<text x="268.3" y="580.8" font-size="13.4" font-weight="bold" fill="#a50c0c">SRPK2</text>
<text x="202.3" y="590.8" font-size="13.4" font-weight="bold" fill="#c40c0c">IMMP2L</text>
<text x="284.8" y="592.1" font-size="13.4" font-weight="bold" fill="#a50c0c">IMMP2L</text>
<text x="266.3" y="611.0" font-size="13.4" font-weight="bold" fill="#2ecc2e">PTN</text>
<text x="210.4" y="622.3" font-size="13.4" font-weight="bold" fill="#176a1c">CSMD1</text>
<text x="224.5" y="658.5" font-size="13.4" font-weight="bold" fill="#7f7f7f">BNIP3L</text>
<text x="280.4" y="640.4" font-size="13.4" font-weight="bold" fill="#a566c4">CLU</text>
<text x="277.6" y="658.5" font-size="13.4" font-weight="bold" fill="#cc0c0c">CA8</text>
<text x="230" y="727.2" font-size="13.4" font-weight="bold" fill="#2ecc2e">GABBR2</text>
<text x="377" y="765.0" font-size="13.4" font-weight="bold" fill="#176a1c">CNNM2</text>
<text x="248.6" y="787.1" font-size="13.4" font-weight="bold" fill="#1cb02a">LUZP2</text>
<text x="192.3" y="781.5" font-size="13.4" font-weight="bold" fill="#7f7f7f">MPPED2</text>
<text x="321.8" y="809.3" font-size="13.4" font-weight="bold" fill="#c4c4c4">ARHGAP1</text>
<text x="360.8" y="823.8" font-size="13.4" font-weight="bold" fill="#176a1c">MSANTD2</text>
<text x="251.4" y="844.3" font-size="13.4" font-weight="bold" fill="#176a1c">OPCML</text>
<text x="209.2" y="821.3" font-size="13.4" font-weight="bold" fill="#176a1c">B3GAT1</text>
<text x="208.4" y="845.8" font-size="13.4" font-weight="bold" fill="#176a1c">SOX5</text>
<text x="266.3" y="865.1" font-size="13.4" font-weight="bold" fill="#8a0a0a">R3HDM2</text>
<text x="365.2" y="892.8" font-size="13.4" font-weight="bold" fill="#176a1c">PITPNM2</text>
<text x="209.2" y="911.0" font-size="13.4" font-weight="bold" fill="#a566c4">RBM26</text>
<text x="241.4" y="934.3" font-size="13.4" font-weight="bold" fill="#c40c0c">PRKD1</text>
<text x="195" y="948.4" font-size="13.4" font-weight="bold" fill="#7f7f7f">GPR135</text>
<text x="251.4" y="962.5" font-size="13.4" font-weight="bold" fill="#a50c0c">RGS6</text>
<text x="212" y="976.6" font-size="13.4" font-weight="bold" fill="#7f7f7f">BCL11B</text>
<text x="335.9" y="979.8" font-size="13.4" font-weight="bold" fill="#176a1c">XRCC3</text>
<text x="240.1" y="986.6" font-size="13.4" font-weight="bold" fill="#7f7f7f">CPEB1</text>
<text x="284.8" y="993.8" font-size="13.4" font-weight="bold" fill="#7f7f7f">ADAMTSL3</text>
<text x="247.4" y="1007.8" font-size="13.4" font-weight="bold" fill="#176a1c">RBFOX1</text>
<text x="245.4" y="1019.2" font-size="13.4" font-weight="bold" fill="#176a1c">GRIN2A</text>
<text x="307.7" y="1026.8" font-size="13.4" font-weight="bold" fill="#176a1c">ASPHD1</text>
<text x="197" y="1031.1" font-size="13.4" font-weight="bold" fill="#1cb02a">DOC2A</text>
<path d="M427.5 115.3H445.5L465 95.9H473.5" stroke="#4a68fa" stroke-width="1.2" fill="none"/>
<path d="M427.5 127.3H445.5L465 112.9H473.5" stroke="#fa0a0a" stroke-width="1.2" fill="none"/>
<path d="M427.5 127.3H445.5L465 129.8H473.5" stroke="#fa0a0a" stroke-width="1.2" fill="none"/>
<path d="M427.5 183.2H445.5L465 146.7H473.5" stroke="#fa0a0a" stroke-width="1.2" fill="none"/>
<path d="M427.5 213.2H445.5L465 163.7H473.5" stroke="#4a68fa" stroke-width="1.2" fill="none"/>
<path d="M427.5 213.2H445.5L465 180.6H473.5" stroke="#4a68fa" stroke-width="1.2" fill="none"/>
<path d="M427.5 255.4H445.5L465 197.5H473.5" stroke="#fa0a0a" stroke-width="1.2" fill="none"/>
<path d="M427.5 260.1H445.5L465 214.5H473.5" stroke="#fa0a0a" stroke-width="1.2" fill="none"/>
<path d="M427.5 261.0H445.5L465 231.4H473.5" stroke="#4a68fa" stroke-width="1.2" fill="none"/>
<path d="M427.5 274.2H445.5L465 248.3H473.5" stroke="#4a68fa" stroke-width="1.2" fill="none"/>
<path d="M427.5 278.1H445.5L465 265.3H473.5" stroke="#fa0a0a" stroke-width="1.2" fill="none"/>
<path d="M427.5 284.3H445.5L465 282.2H473.5" stroke="#4a68fa" stroke-width="1.2" fill="none"/>
<path d="M427.5 284.3H445.5L465 299.1H473.5" stroke="#fa0a0a" stroke-width="1.2" fill="none"/>
<path d="M427.5 291.1H445.5L465 316.1H473.5" stroke="#4a68fa" stroke-width="1.2" fill="none"/>
<path d="M427.5 300.5H445.5L465 333.0H473.5" stroke="#fa0a0a" stroke-width="1.2" fill="none"/>
<path d="M427.5 329.5H445.5L465 349.9H473.5" stroke="#4a68fa" stroke-width="1.2" fill="none"/>
<path d="M427.5 346.4H445.5L465 366.9H473.5" stroke="#fa0a0a" stroke-width="1.2" fill="none"/>
<path d="M427.5 407.4H445.5L465 383.8H473.5" stroke="#fa0a0a" stroke-width="1.2" fill="none"/>
<path d="M427.5 420.4H445.5L465 400.7H473.5" stroke="#fa0a0a" stroke-width="1.2" fill="none"/>
<path d="M427.5 448.4H445.5L465 417.7H473.5" stroke="#4a68fa" stroke-width="1.2" fill="none"/>
<path d="M427.5 458.2H445.5L465 434.6H473.5" stroke="#fa0a0a" stroke-width="1.2" fill="none"/>
<path d="M427.5 521.3H445.5L465 451.6H473.5" stroke="#4a68fa" stroke-width="1.2" fill="none"/>
<path d="M427.5 526.0H445.5L465 468.5H473.5" stroke="#fa0a0a" stroke-width="1.2" fill="none"/>
<path d="M427.5 537.3H445.5L465 485.4H473.5" stroke="#4a68fa" stroke-width="1.2" fill="none"/>
<path d="M427.5 542.1H445.5L465 502.4H473.5" stroke="#fa0a0a" stroke-width="1.2" fill="none"/>
<path d="M427.5 548.3H445.5L465 519.3H473.5" stroke="#4a68fa" stroke-width="1.2" fill="none"/>
<path d="M427.5 568.2H445.5L465 536.2H473.5" stroke="#fa0a0a" stroke-width="1.2" fill="none"/>
<path d="M427.5 599.3H445.5L465 553.2H473.5" stroke="#4a68fa" stroke-width="1.2" fill="none"/>
<path d="M427.5 600.0H445.5L465 570.1H473.5" stroke="#4a68fa" stroke-width="1.2" fill="none"/>
<path d="M427.5 601.1H445.5L465 587.0H473.5" stroke="#4a68fa" stroke-width="1.2" fill="none"/>
<path d="M427.5 611.3H445.5L465 604.0H473.5" stroke="#4a68fa" stroke-width="1.2" fill="none"/>
<path d="M427.5 621.3H445.5L465 620.9H473.5" stroke="#fa0a0a" stroke-width="1.2" fill="none"/>
<path d="M427.5 629.8H445.5L465 637.8H473.5" stroke="#fa0a0a" stroke-width="1.2" fill="none"/>
<path d="M427.5 630.2H445.5L465 654.8H473.5" stroke="#fa0a0a" stroke-width="1.2" fill="none"/>
<path d="M427.5 642.5H445.5L465 671.7H473.5" stroke="#fa0a0a" stroke-width="1.2" fill="none"/>
<path d="M427.5 713.4H445.5L465 688.6H473.5" stroke="#4a68fa" stroke-width="1.2" fill="none"/>
<path d="M427.5 768.2H445.5L465 705.6H473.5" stroke="#4a68fa" stroke-width="1.2" fill="none"/>
<path d="M427.5 789.2H445.5L465 722.5H473.5" stroke="#fa0a0a" stroke-width="1.2" fill="none"/>
<path d="M427.5 791.2H445.5L465 739.4H473.5" stroke="#4a68fa" stroke-width="1.2" fill="none"/>
<path d="M427.5 798.0H445.5L465 756.4H473.5" stroke="#fa0a0a" stroke-width="1.2" fill="none"/>
<path d="M427.5 827.6H445.5L465 773.3H473.5" stroke="#4a68fa" stroke-width="1.2" fill="none"/>
<path d="M427.5 829.9H445.5L465 790.3H473.5" stroke="#4a68fa" stroke-width="1.2" fill="none"/>
<path d="M427.5 831.0H445.5L465 807.2H473.5" stroke="#4a68fa" stroke-width="1.2" fill="none"/>
<path d="M427.5 840.4H445.5L465 824.1H473.5" stroke="#fa0a0a" stroke-width="1.2" fill="none"/>
<path d="M427.5 853.2H445.5L465 841.1H473.5" stroke="#4a68fa" stroke-width="1.2" fill="none"/>
<path d="M427.5 878.4H445.5L465 858.0H473.5" stroke="#4a68fa" stroke-width="1.2" fill="none"/>
<path d="M427.5 913.3H445.5L465 874.9H473.5" stroke="#4a68fa" stroke-width="1.2" fill="none"/>
<path d="M427.5 937.6H445.5L465 891.9H473.5" stroke="#fa0a0a" stroke-width="1.2" fill="none"/>
<path d="M427.5 949.4H445.5L465 908.8H473.5" stroke="#fa0a0a" stroke-width="1.2" fill="none"/>
<path d="M427.5 953.4H445.5L465 925.7H473.5" stroke="#fa0a0a" stroke-width="1.2" fill="none"/>
<path d="M427.5 964.3H445.5L465 942.7H473.5" stroke="#fa0a0a" stroke-width="1.2" fill="none"/>
<path d="M427.5 965.8H445.5L465 959.6H473.5" stroke="#4a68fa" stroke-width="1.2" fill="none"/>
<path d="M427.5 998.6H445.5L465 976.5H473.5" stroke="#fa0a0a" stroke-width="1.2" fill="none"/>
<path d="M427.5 998.6H445.5L465 993.5H473.5" stroke="#fa0a0a" stroke-width="1.2" fill="none"/>
<path d="M427.5 1009.3H445.5L465 1010.4H473.5" stroke="#4a68fa" stroke-width="1.2" fill="none"/>
<path d="M427.5 1009.3H445.5L465 1027.3H473.5" stroke="#4a68fa" stroke-width="1.2" fill="none"/>
<path d="M427.5 1017.2H445.5L465 1044" stroke="#4a68fa" stroke-width="1.2" fill="none"/>
<path d="M427.5 284.3H445.5" stroke="#fa0a0a" stroke-width="1.2" fill="none"/>
<text x="505.3" y="49.7" font-size="14.0" font-weight="bold" text-anchor="middle">Schizophrenia</text>
<text x="505.3" y="63.6" font-size="14.0" font-weight="bold" text-anchor="middle">DEG in locus</text>
<text x="505.3" y="77.4" font-size="14.0" font-weight="bold" text-anchor="middle">(and direction)</text>
<text x="601.7" y="49.7" font-size="14.0" font-weight="bold" text-anchor="middle">Cell type of</text>
<text x="601.7" y="63.6" font-size="14.0" font-weight="bold" text-anchor="middle">maximum</text>
<text x="601.7" y="77.4" font-size="14.0" font-weight="bold" text-anchor="middle">change</text>
<text x="1042" y="23.8" font-size="14.0" font-weight="bold" text-anchor="middle">Schizophr.-</text>
<text x="1042" y="37.6" font-size="14.0" font-weight="bold" text-anchor="middle">associated</text>
<text x="1042" y="51.4" font-size="14.0" font-weight="bold" text-anchor="middle">GWAS SNP</text>
<text x="1042" y="66.0" font-size="14.0" font-weight="bold" text-anchor="middle">(rsid w/max</text>
<text x="1042" y="79.8" font-size="14.0" font-weight="bold" text-anchor="middle">P-value)</text>
<rect x="473.5" y="87.45" width="72.89999999999998" height="16.935" fill="#8a63ff" stroke="#000" stroke-width="1"/>
<rect x="550.6" y="87.45" width="95.0" height="16.935" fill="#448644" stroke="#000" stroke-width="1"/>
<text transform="translate(509.9,100.3) scale(0.94,1)" font-size="13.6" text-anchor="middle" stroke="#000" stroke-width="0.35">PDE4B</text>
<text transform="translate(598.1,100.3) scale(0.73,1)" font-size="13.6" text-anchor="middle" stroke="#000" stroke-width="0.3">Ex−L5/6−CCb</text>
<rect x="473.5" y="104.39" width="72.89999999999998" height="16.935" fill="#ff8060" stroke="#000" stroke-width="1"/>
<rect x="550.6" y="104.39" width="95.0" height="16.935" fill="#4cc24c" stroke="#000" stroke-width="1"/>
<text transform="translate(509.9,117.3) scale(0.94,1)" font-size="13.6" text-anchor="middle" stroke="#000" stroke-width="0.35">DPYD</text>
<text transform="translate(598.1,117.3) scale(0.73,1)" font-size="13.6" text-anchor="middle" stroke="#000" stroke-width="0.3">Ex−L4/5</text>
<rect x="473.5" y="121.32" width="72.89999999999998" height="16.935" fill="#ff8060" stroke="#000" stroke-width="1"/>
<rect x="550.6" y="121.32" width="95.0" height="16.935" fill="#4cc24c" stroke="#000" stroke-width="1"/>
<text transform="translate(509.9,134.2) scale(0.94,1)" font-size="13.6" text-anchor="middle" stroke="#000" stroke-width="0.35">DPYD</text>
<text transform="translate(598.1,134.2) scale(0.73,1)" font-size="13.6" text-anchor="middle" stroke="#000" stroke-width="0.3">Ex−L4/5</text>
<rect x="473.5" y="138.25" width="72.89999999999998" height="16.935" fill="#ffc6b2" stroke="#000" stroke-width="1"/>
<rect x="550.6" y="138.25" width="95.0" height="16.935" fill="#ff4444" stroke="#000" stroke-width="1"/>
<text transform="translate(509.9,151.1) scale(0.94,1)" font-size="13.6" text-anchor="middle" stroke="#000" stroke-width="0.35">AKT3</text>
<text transform="translate(598.1,151.1) scale(0.73,1)" font-size="13.6" text-anchor="middle" stroke="#000" stroke-width="0.3">In−Rosehip</text>
<rect x="473.5" y="155.19" width="72.89999999999998" height="16.935" fill="#b598ff" stroke="#000" stroke-width="1"/>
<rect x="550.6" y="155.19" width="95.0" height="16.935" fill="#448644" stroke="#000" stroke-width="1"/>
<text transform="translate(509.9,168.1) scale(0.94,1)" font-size="13.6" text-anchor="middle" stroke="#000" stroke-width="0.35">SFXN5</text>
<text transform="translate(598.1,168.1) scale(0.73,1)" font-size="13.6" text-anchor="middle" stroke="#000" stroke-width="0.3">Ex−L5/6−CCa</text>
<rect x="473.5" y="172.12" width="72.89999999999998" height="16.935" fill="#7c58ff" stroke="#000" stroke-width="1"/>
<rect x="550.6" y="172.12" width="95.0" height="16.935" fill="#c84848" stroke="#000" stroke-width="1"/>
<text transform="translate(509.9,185.0) scale(0.94,1)" font-size="13.6" text-anchor="middle" stroke="#000" stroke-width="0.35">ALMS1</text>
<text transform="translate(598.1,185.0) scale(0.73,1)" font-size="13.6" text-anchor="middle" stroke="#000" stroke-width="0.3">In−PV-Basket</text>
<rect x="473.5" y="189.06" width="72.89999999999998" height="16.935" fill="#ff9474" stroke="#000" stroke-width="1"/>
<rect x="550.6" y="189.06" width="95.0" height="16.935" fill="#999999" stroke="#000" stroke-width="1"/>
<text transform="translate(509.9,201.9) scale(0.94,1)" font-size="13.6" text-anchor="middle" stroke="#000" stroke-width="0.35">ZNF804A</text>
<text transform="translate(598.1,201.9) scale(0.73,1)" font-size="13.6" text-anchor="middle" stroke="#000" stroke-width="0.3">SZTR</text>
<rect x="473.5" y="206.00" width="72.89999999999998" height="16.935" fill="#ff9878" stroke="#000" stroke-width="1"/>
<rect x="550.6" y="206.00" width="95.0" height="16.935" fill="#448644" stroke="#000" stroke-width="1"/>
<text transform="translate(509.9,218.9) scale(0.94,1)" font-size="13.6" text-anchor="middle" stroke="#000" stroke-width="0.35">HSPD1</text>
<text transform="translate(598.1,218.9) scale(0.73,1)" font-size="13.6" text-anchor="middle" stroke="#000" stroke-width="0.3">Ex−L5/6−CCb</text>
<rect x="473.5" y="222.93" width="72.89999999999998" height="16.935" fill="#c9b2ff" stroke="#000" stroke-width="1"/>
<rect x="550.6" y="222.93" width="95.0" height="16.935" fill="#469c46" stroke="#000" stroke-width="1"/>
<text transform="translate(509.9,235.8) scale(0.94,1)" font-size="13.6" text-anchor="middle" stroke="#000" stroke-width="0.35">FTCDNL1</text>
<text transform="translate(598.1,235.8) scale(0.73,1)" font-size="13.6" text-anchor="middle" stroke="#000" stroke-width="0.3">Ex−L5/6</text>
<rect x="473.5" y="239.87" width="72.89999999999998" height="16.935" fill="#d0bbff" stroke="#000" stroke-width="1"/>
<rect x="550.6" y="239.87" width="95.0" height="16.935" fill="#448644" stroke="#000" stroke-width="1"/>
<text transform="translate(509.9,252.7) scale(0.94,1)" font-size="13.6" text-anchor="middle" stroke="#000" stroke-width="0.35">NGEF</text>
<text transform="translate(598.1,252.7) scale(0.73,1)" font-size="13.6" text-anchor="middle" stroke="#000" stroke-width="0.3">Ex−L5/6−CCb</text>
<rect x="473.5" y="256.80" width="72.89999999999998" height="16.935" fill="#ffc9b6" stroke="#000" stroke-width="1"/>
<rect x="550.6" y="256.80" width="95.0" height="16.935" fill="#b84444" stroke="#000" stroke-width="1"/>
<text transform="translate(509.9,269.7) scale(0.94,1)" font-size="13.6" text-anchor="middle" stroke="#000" stroke-width="0.35">CNTN4</text>
<text transform="translate(598.1,269.7) scale(0.73,1)" font-size="13.6" text-anchor="middle" stroke="#000" stroke-width="0.3">In−PV-Chandelier</text>
<rect x="473.5" y="273.74" width="72.89999999999998" height="16.935" fill="#b598ff" stroke="#000" stroke-width="1"/>
<rect x="550.6" y="273.74" width="95.0" height="16.935" fill="#4cc24c" stroke="#000" stroke-width="1"/>
<text transform="translate(509.9,286.6) scale(0.94,1)" font-size="13.6" text-anchor="middle" stroke="#000" stroke-width="0.35">PLCL2</text>
<text transform="translate(598.1,286.6) scale(0.73,1)" font-size="13.6" text-anchor="middle" stroke="#000" stroke-width="0.3">Ex−L4/5</text>
<rect x="473.5" y="290.67" width="72.89999999999998" height="16.935" fill="#ffa584" stroke="#000" stroke-width="1"/>
<rect x="550.6" y="290.67" width="95.0" height="16.935" fill="#b98662" stroke="#000" stroke-width="1"/>
<text transform="translate(509.9,303.5) scale(0.94,1)" font-size="13.6" text-anchor="middle" stroke="#000" stroke-width="0.35">TBC1D5</text>
<text transform="translate(598.1,303.5) scale(0.73,1)" font-size="13.6" text-anchor="middle" stroke="#000" stroke-width="0.3">Oli</text>
<rect x="473.5" y="307.60" width="72.89999999999998" height="16.935" fill="#b598ff" stroke="#000" stroke-width="1"/>
<rect x="550.6" y="307.60" width="95.0" height="16.935" fill="#ff4444" stroke="#000" stroke-width="1"/>
<text transform="translate(509.9,320.5) scale(0.94,1)" font-size="13.6" text-anchor="middle" stroke="#000" stroke-width="0.35">TRANK1</text>
<text transform="translate(598.1,320.5) scale(0.73,1)" font-size="13.6" text-anchor="middle" stroke="#000" stroke-width="0.3">In−Rosehip</text>
<rect x="473.5" y="324.54" width="72.89999999999998" height="16.935" fill="#ffccbb" stroke="#000" stroke-width="1"/>
<rect x="550.6" y="324.54" width="95.0" height="16.935" fill="#469c46" stroke="#000" stroke-width="1"/>
<text transform="translate(509.9,337.4) scale(0.94,1)" font-size="13.6" text-anchor="middle" stroke="#000" stroke-width="0.35">FHIT</text>
<text transform="translate(598.1,337.4) scale(0.73,1)" font-size="13.6" text-anchor="middle" stroke="#000" stroke-width="0.3">Ex−L5/6</text>
<rect x="473.5" y="341.47" width="72.89999999999998" height="16.935" fill="#8a60ff" stroke="#000" stroke-width="1"/>
<rect x="550.6" y="341.47" width="95.0" height="16.935" fill="#448644" stroke="#000" stroke-width="1"/>
<text transform="translate(509.9,354.3) scale(0.94,1)" font-size="13.6" text-anchor="middle" stroke="#000" stroke-width="0.35">MSL2</text>
<text transform="translate(598.1,354.3) scale(0.73,1)" font-size="13.6" text-anchor="middle" stroke="#000" stroke-width="0.3">Ex−L5/6−CCb</text>
<rect x="473.5" y="358.41" width="72.89999999999998" height="16.935" fill="#ffc2ac" stroke="#000" stroke-width="1"/>
<rect x="550.6" y="358.41" width="95.0" height="16.935" fill="#4cc24c" stroke="#000" stroke-width="1"/>
<text transform="translate(509.9,371.3) scale(0.94,1)" font-size="13.6" text-anchor="middle" stroke="#000" stroke-width="0.35">FXR1</text>
<text transform="translate(598.1,371.3) scale(0.73,1)" font-size="13.6" text-anchor="middle" stroke="#000" stroke-width="0.3">Ex−L4/5</text>
<rect x="473.5" y="375.34" width="72.89999999999998" height="16.935" fill="#ffa88c" stroke="#000" stroke-width="1"/>
<rect x="550.6" y="375.34" width="95.0" height="16.935" fill="#448644" stroke="#000" stroke-width="1"/>
<text transform="translate(509.9,388.2) scale(0.94,1)" font-size="13.6" text-anchor="middle" stroke="#000" stroke-width="0.35">INPP4B</text>
<text transform="translate(598.1,388.2) scale(0.73,1)" font-size="13.6" text-anchor="middle" stroke="#000" stroke-width="0.3">Ex−L5/6−CCb</text>
<rect x="473.5" y="392.28" width="72.89999999999998" height="16.935" fill="#ffc0a9" stroke="#000" stroke-width="1"/>
<rect x="550.6" y="392.28" width="95.0" height="16.935" fill="#50d250" stroke="#000" stroke-width="1"/>
<text transform="translate(509.9,405.1) scale(0.94,1)" font-size="13.6" text-anchor="middle" stroke="#000" stroke-width="0.35">GPM6A</text>
<text transform="translate(598.1,405.1) scale(0.73,1)" font-size="13.6" text-anchor="middle" stroke="#000" stroke-width="0.3">Ex−L4</text>
<rect x="473.5" y="409.21" width="72.89999999999998" height="16.935" fill="#b094ff" stroke="#000" stroke-width="1"/>
<rect x="550.6" y="409.21" width="95.0" height="16.935" fill="#448644" stroke="#000" stroke-width="1"/>
<text transform="translate(509.9,422.1) scale(0.94,1)" font-size="13.6" text-anchor="middle" stroke="#000" stroke-width="0.35">ZSWIM6</text>
<text transform="translate(598.1,422.1) scale(0.73,1)" font-size="13.6" text-anchor="middle" stroke="#000" stroke-width="0.3">Ex−L5/6−CCb</text>
<rect x="473.5" y="426.15" width="72.89999999999998" height="16.935" fill="#ff9878" stroke="#000" stroke-width="1"/>
<rect x="550.6" y="426.15" width="95.0" height="16.935" fill="#448644" stroke="#000" stroke-width="1"/>
<text transform="translate(509.9,439.0) scale(0.94,1)" font-size="13.6" text-anchor="middle" stroke="#000" stroke-width="0.35">MEF2C</text>
<text transform="translate(598.1,439.0) scale(0.73,1)" font-size="13.6" text-anchor="middle" stroke="#000" stroke-width="0.3">Ex−L5/6−CCa</text>
<rect x="473.5" y="443.08" width="72.89999999999998" height="16.935" fill="#b094ff" stroke="#000" stroke-width="1"/>
<rect x="550.6" y="443.08" width="95.0" height="16.935" fill="#448644" stroke="#000" stroke-width="1"/>
<text transform="translate(509.9,456.0) scale(0.94,1)" font-size="13.6" text-anchor="middle" stroke="#000" stroke-width="0.35">RIMS1</text>
<text transform="translate(598.1,456.0) scale(0.73,1)" font-size="13.6" text-anchor="middle" stroke="#000" stroke-width="0.3">Ex−L5/6−CCb</text>
<rect x="473.5" y="460.02" width="72.89999999999998" height="16.935" fill="#ffa88c" stroke="#000" stroke-width="1"/>
<rect x="550.6" y="460.02" width="95.0" height="16.935" fill="#999999" stroke="#000" stroke-width="1"/>
<text transform="translate(509.9,472.9) scale(0.94,1)" font-size="13.6" text-anchor="middle" stroke="#000" stroke-width="0.35">SNAP91</text>
<text transform="translate(598.1,472.9) scale(0.73,1)" font-size="13.6" text-anchor="middle" stroke="#000" stroke-width="0.3">SZTR</text>
<rect x="473.5" y="476.95" width="72.89999999999998" height="16.935" fill="#c2a6ff" stroke="#000" stroke-width="1"/>
<rect x="550.6" y="476.95" width="95.0" height="16.935" fill="#4cc24c" stroke="#000" stroke-width="1"/>
<text transform="translate(509.9,489.8) scale(0.94,1)" font-size="13.6" text-anchor="middle" stroke="#000" stroke-width="0.35">HS3ST5</text>
<text transform="translate(598.1,489.8) scale(0.73,1)" font-size="13.6" text-anchor="middle" stroke="#000" stroke-width="0.3">Ex−L4/5</text>
<rect x="473.5" y="493.89" width="72.89999999999998" height="16.935" fill="#ff8060" stroke="#000" stroke-width="1"/>
<rect x="550.6" y="493.89" width="95.0" height="16.935" fill="#b98662" stroke="#000" stroke-width="1"/>
<text transform="translate(509.9,506.8) scale(0.94,1)" font-size="13.6" text-anchor="middle" stroke="#000" stroke-width="0.35">PTPRK</text>
<text transform="translate(598.1,506.8) scale(0.73,1)" font-size="13.6" text-anchor="middle" stroke="#000" stroke-width="0.3">Oli</text>
<rect x="473.5" y="510.82" width="72.89999999999998" height="16.935" fill="#b090ff" stroke="#000" stroke-width="1"/>
<rect x="550.6" y="510.82" width="95.0" height="16.935" fill="#448644" stroke="#000" stroke-width="1"/>
<text transform="translate(509.9,523.7) scale(0.94,1)" font-size="13.6" text-anchor="middle" stroke="#000" stroke-width="0.35">AIG1</text>
<text transform="translate(598.1,523.7) scale(0.73,1)" font-size="13.6" text-anchor="middle" stroke="#000" stroke-width="0.3">Ex−L5/6−CCb</text>
<rect x="473.5" y="527.76" width="72.89999999999998" height="16.935" fill="#ffa88c" stroke="#000" stroke-width="1"/>
<rect x="550.6" y="527.76" width="95.0" height="16.935" fill="#999999" stroke="#000" stroke-width="1"/>
<text transform="translate(509.9,540.6) scale(0.94,1)" font-size="13.6" text-anchor="middle" stroke="#000" stroke-width="0.35">MPP6</text>
<text transform="translate(598.1,540.6) scale(0.73,1)" font-size="13.6" text-anchor="middle" stroke="#000" stroke-width="0.3">SZTR</text>
<rect x="473.5" y="544.69" width="72.89999999999998" height="16.935" fill="#ccb2ff" stroke="#000" stroke-width="1"/>
<rect x="550.6" y="544.69" width="95.0" height="16.935" fill="#c84848" stroke="#000" stroke-width="1"/>
<text transform="translate(509.9,557.6) scale(0.94,1)" font-size="13.6" text-anchor="middle" stroke="#000" stroke-width="0.35">SRPK2</text>
<text transform="translate(598.1,557.6) scale(0.73,1)" font-size="13.6" text-anchor="middle" stroke="#000" stroke-width="0.3">In−PV-Basket</text>
<rect x="473.5" y="561.63" width="72.89999999999998" height="16.935" fill="#ccb2ff" stroke="#000" stroke-width="1"/>
<rect x="550.6" y="561.63" width="95.0" height="16.935" fill="#d04c46" stroke="#000" stroke-width="1"/>
<text transform="translate(509.9,574.5) scale(0.94,1)" font-size="13.6" text-anchor="middle" stroke="#000" stroke-width="0.35">IMMP2L</text>
<text transform="translate(598.1,574.5) scale(0.73,1)" font-size="13.6" text-anchor="middle" stroke="#000" stroke-width="0.3">In−Reelin</text>
<rect x="473.5" y="578.56" width="72.89999999999998" height="16.935" fill="#ccb2ff" stroke="#000" stroke-width="1"/>
<rect x="550.6" y="578.56" width="95.0" height="16.935" fill="#d04c46" stroke="#000" stroke-width="1"/>
<text transform="translate(509.9,591.4) scale(0.94,1)" font-size="13.6" text-anchor="middle" stroke="#000" stroke-width="0.35">IMMP2L</text>
<text transform="translate(598.1,591.4) scale(0.73,1)" font-size="13.6" text-anchor="middle" stroke="#000" stroke-width="0.3">In−Reelin</text>
<rect x="473.5" y="595.50" width="72.89999999999998" height="16.935" fill="#c2a6ff" stroke="#000" stroke-width="1"/>
<rect x="550.6" y="595.50" width="95.0" height="16.935" fill="#50d250" stroke="#000" stroke-width="1"/>
<text transform="translate(509.9,608.4) scale(0.94,1)" font-size="13.6" text-anchor="middle" stroke="#000" stroke-width="0.35">PTN</text>
<text transform="translate(598.1,608.4) scale(0.73,1)" font-size="13.6" text-anchor="middle" stroke="#000" stroke-width="0.3">Ex−L4</text>
<rect x="473.5" y="612.44" width="72.89999999999998" height="16.935" fill="#ffb29a" stroke="#000" stroke-width="1"/>
<rect x="550.6" y="612.44" width="95.0" height="16.935" fill="#448644" stroke="#000" stroke-width="1"/>
<text transform="translate(509.9,625.3) scale(0.94,1)" font-size="13.6" text-anchor="middle" stroke="#000" stroke-width="0.35">CSMD1</text>
<text transform="translate(598.1,625.3) scale(0.73,1)" font-size="13.6" text-anchor="middle" stroke="#000" stroke-width="0.3">Ex−L5/6−CCa</text>
<rect x="473.5" y="629.37" width="72.89999999999998" height="16.935" fill="#ffa88c" stroke="#000" stroke-width="1"/>
<rect x="550.6" y="629.37" width="95.0" height="16.935" fill="#999999" stroke="#000" stroke-width="1"/>
<text transform="translate(509.9,642.2) scale(0.94,1)" font-size="13.6" text-anchor="middle" stroke="#000" stroke-width="0.35">BNIP3L</text>
<text transform="translate(598.1,642.2) scale(0.73,1)" font-size="13.6" text-anchor="middle" stroke="#000" stroke-width="0.3">SZTR</text>
<rect x="473.5" y="646.30" width="72.89999999999998" height="16.935" fill="#ff5533" stroke="#000" stroke-width="1"/>
<rect x="550.6" y="646.30" width="95.0" height="16.935" fill="#b482c0" stroke="#000" stroke-width="1"/>
<text transform="translate(509.9,659.2) scale(0.94,1)" font-size="13.6" text-anchor="middle" stroke="#000" stroke-width="0.35">CLU</text>
<text transform="translate(598.1,659.2) scale(0.73,1)" font-size="13.6" text-anchor="middle" stroke="#000" stroke-width="0.3">Ast</text>
<rect x="473.5" y="663.24" width="72.89999999999998" height="16.935" fill="#ffc2ac" stroke="#000" stroke-width="1"/>
<rect x="550.6" y="663.24" width="95.0" height="16.935" fill="#d44a46" stroke="#000" stroke-width="1"/>
<text transform="translate(509.9,676.1) scale(0.94,1)" font-size="13.6" text-anchor="middle" stroke="#000" stroke-width="0.35">CA8</text>
<text transform="translate(598.1,676.1) scale(0.73,1)" font-size="13.6" text-anchor="middle" stroke="#000" stroke-width="0.3">In−VIP</text>
<rect x="473.5" y="680.17" width="72.89999999999998" height="16.935" fill="#c2a6ff" stroke="#000" stroke-width="1"/>
<rect x="550.6" y="680.17" width="95.0" height="16.935" fill="#50d250" stroke="#000" stroke-width="1"/>
<text transform="translate(509.9,693.0) scale(0.94,1)" font-size="13.6" text-anchor="middle" stroke="#000" stroke-width="0.35">GABBR2</text>
<text transform="translate(598.1,693.0) scale(0.73,1)" font-size="13.6" text-anchor="middle" stroke="#000" stroke-width="0.3">Ex−L4</text>
<rect x="473.5" y="697.11" width="72.89999999999998" height="16.935" fill="#b598ff" stroke="#000" stroke-width="1"/>
<rect x="550.6" y="697.11" width="95.0" height="16.935" fill="#448644" stroke="#000" stroke-width="1"/>
<text transform="translate(509.9,710.0) scale(0.94,1)" font-size="13.6" text-anchor="middle" stroke="#000" stroke-width="0.35">CNNM2</text>
<text transform="translate(598.1,710.0) scale(0.73,1)" font-size="13.6" text-anchor="middle" stroke="#000" stroke-width="0.3">Ex−L5/6−CCb</text>
<rect x="473.5" y="714.04" width="72.89999999999998" height="16.935" fill="#ff8060" stroke="#000" stroke-width="1"/>
<rect x="550.6" y="714.04" width="95.0" height="16.935" fill="#4cc24c" stroke="#000" stroke-width="1"/>
<text transform="translate(509.9,726.9) scale(0.94,1)" font-size="13.6" text-anchor="middle" stroke="#000" stroke-width="0.35">LUZP2</text>
<text transform="translate(598.1,726.9) scale(0.73,1)" font-size="13.6" text-anchor="middle" stroke="#000" stroke-width="0.3">Ex−L4/5</text>
<rect x="473.5" y="730.98" width="72.89999999999998" height="16.935" fill="#baa0ff" stroke="#000" stroke-width="1"/>
<rect x="550.6" y="730.98" width="95.0" height="16.935" fill="#999999" stroke="#000" stroke-width="1"/>
<text transform="translate(509.9,743.8) scale(0.94,1)" font-size="13.6" text-anchor="middle" stroke="#000" stroke-width="0.35">MPPED2</text>
<text transform="translate(598.1,743.8) scale(0.73,1)" font-size="13.6" text-anchor="middle" stroke="#000" stroke-width="0.3">SZTR</text>
<rect x="473.5" y="747.91" width="72.89999999999998" height="16.935" fill="#ffc0a9" stroke="#000" stroke-width="1"/>
<rect x="550.6" y="747.91" width="95.0" height="16.935" fill="#dcdcdc" stroke="#000" stroke-width="1"/>
<text transform="translate(509.9,760.8) scale(0.94,1)" font-size="13.6" text-anchor="middle" stroke="#000" stroke-width="0.35">ARHGAP1</text>
<text transform="translate(598.1,760.8) scale(0.73,1)" font-size="13.6" text-anchor="middle" stroke="#000" stroke-width="0.3">Ex−NRGN</text>
<rect x="473.5" y="764.85" width="72.89999999999998" height="16.935" fill="#a282ff" stroke="#000" stroke-width="1"/>
<rect x="550.6" y="764.85" width="95.0" height="16.935" fill="#448644" stroke="#000" stroke-width="1"/>
<text transform="translate(509.9,777.7) scale(0.94,1)" font-size="13.6" text-anchor="middle" stroke="#000" stroke-width="0.35">MSANTD2</text>
<text transform="translate(598.1,777.7) scale(0.73,1)" font-size="13.6" text-anchor="middle" stroke="#000" stroke-width="0.3">Ex−L5/6−CCb</text>
<rect x="473.5" y="781.78" width="72.89999999999998" height="16.935" fill="#dac8ff" stroke="#000" stroke-width="1"/>
<rect x="550.6" y="781.78" width="95.0" height="16.935" fill="#448644" stroke="#000" stroke-width="1"/>
<text transform="translate(509.9,794.7) scale(0.94,1)" font-size="13.6" text-anchor="middle" stroke="#000" stroke-width="0.35">OPCML</text>
<text transform="translate(598.1,794.7) scale(0.73,1)" font-size="13.6" text-anchor="middle" stroke="#000" stroke-width="0.3">Ex−L5/6−CCa</text>
<rect x="473.5" y="798.72" width="72.89999999999998" height="16.935" fill="#a98aff" stroke="#000" stroke-width="1"/>
<rect x="550.6" y="798.72" width="95.0" height="16.935" fill="#448644" stroke="#000" stroke-width="1"/>
<text transform="translate(509.9,811.6) scale(0.94,1)" font-size="13.6" text-anchor="middle" stroke="#000" stroke-width="0.35">B3GAT1</text>
<text transform="translate(598.1,811.6) scale(0.73,1)" font-size="13.6" text-anchor="middle" stroke="#000" stroke-width="0.3">Ex−L5/6−CCb</text>
<rect x="473.5" y="815.65" width="72.89999999999998" height="16.935" fill="#ff9070" stroke="#000" stroke-width="1"/>
<rect x="550.6" y="815.65" width="95.0" height="16.935" fill="#448644" stroke="#000" stroke-width="1"/>
<text transform="translate(509.9,828.5) scale(0.94,1)" font-size="13.6" text-anchor="middle" stroke="#000" stroke-width="0.35">SOX5</text>
<text transform="translate(598.1,828.5) scale(0.73,1)" font-size="13.6" text-anchor="middle" stroke="#000" stroke-width="0.3">Ex−L5/6−CCa</text>
<rect x="473.5" y="832.59" width="72.89999999999998" height="16.935" fill="#a282ff" stroke="#000" stroke-width="1"/>
<rect x="550.6" y="832.59" width="95.0" height="16.935" fill="#b84444" stroke="#000" stroke-width="1"/>
<text transform="translate(509.9,845.5) scale(0.94,1)" font-size="13.6" text-anchor="middle" stroke="#000" stroke-width="0.35">R3HDM2</text>
<text transform="translate(598.1,845.5) scale(0.73,1)" font-size="13.6" text-anchor="middle" stroke="#000" stroke-width="0.3">In−PV-Chandelier</text>
<rect x="473.5" y="849.52" width="72.89999999999998" height="16.935" fill="#6644ff" stroke="#000" stroke-width="1"/>
<rect x="550.6" y="849.52" width="95.0" height="16.935" fill="#448644" stroke="#000" stroke-width="1"/>
<text transform="translate(509.9,862.4) scale(0.94,1)" font-size="13.6" text-anchor="middle" stroke="#000" stroke-width="0.35">PITPNM2</text>
<text transform="translate(598.1,862.4) scale(0.73,1)" font-size="13.6" text-anchor="middle" stroke="#000" stroke-width="0.3">Ex−L5/6−CCa</text>
<rect x="473.5" y="866.46" width="72.89999999999998" height="16.935" fill="#ccb2ff" stroke="#000" stroke-width="1"/>
<rect x="550.6" y="866.46" width="95.0" height="16.935" fill="#b482c0" stroke="#000" stroke-width="1"/>
<text transform="translate(509.9,879.3) scale(0.94,1)" font-size="13.6" text-anchor="middle" stroke="#000" stroke-width="0.35">RBM26</text>
<text transform="translate(598.1,879.3) scale(0.73,1)" font-size="13.6" text-anchor="middle" stroke="#000" stroke-width="0.3">Ast</text>
<rect x="473.5" y="883.39" width="72.89999999999998" height="16.935" fill="#ffc6b2" stroke="#000" stroke-width="1"/>
<rect x="550.6" y="883.39" width="95.0" height="16.935" fill="#c84848" stroke="#000" stroke-width="1"/>
<text transform="translate(509.9,896.3) scale(0.94,1)" font-size="13.6" text-anchor="middle" stroke="#000" stroke-width="0.35">PRKD1</text>
<text transform="translate(598.1,896.3) scale(0.73,1)" font-size="13.6" text-anchor="middle" stroke="#000" stroke-width="0.3">In−PV-Basket</text>
<rect x="473.5" y="900.33" width="72.89999999999998" height="16.935" fill="#ffa88c" stroke="#000" stroke-width="1"/>
<rect x="550.6" y="900.33" width="95.0" height="16.935" fill="#999999" stroke="#000" stroke-width="1"/>
<text transform="translate(509.9,913.2) scale(0.94,1)" font-size="13.6" text-anchor="middle" stroke="#000" stroke-width="0.35">GPR135</text>
<text transform="translate(598.1,913.2) scale(0.73,1)" font-size="13.6" text-anchor="middle" stroke="#000" stroke-width="0.3">SZTR</text>
<rect x="473.5" y="917.26" width="72.89999999999998" height="16.935" fill="#ff4422" stroke="#000" stroke-width="1"/>
<rect x="550.6" y="917.26" width="95.0" height="16.935" fill="#b84444" stroke="#000" stroke-width="1"/>
<text transform="translate(509.9,930.1) scale(0.94,1)" font-size="13.6" text-anchor="middle" stroke="#000" stroke-width="0.35">RGS6</text>
<text transform="translate(598.1,930.1) scale(0.73,1)" font-size="13.6" text-anchor="middle" stroke="#000" stroke-width="0.3">In−PV-Chandelier</text>
<rect x="473.5" y="934.20" width="72.89999999999998" height="16.935" fill="#ffb29a" stroke="#000" stroke-width="1"/>
<rect x="550.6" y="934.20" width="95.0" height="16.935" fill="#999999" stroke="#000" stroke-width="1"/>
<text transform="translate(509.9,947.1) scale(0.94,1)" font-size="13.6" text-anchor="middle" stroke="#000" stroke-width="0.35">BCL11B</text>
<text transform="translate(598.1,947.1) scale(0.73,1)" font-size="13.6" text-anchor="middle" stroke="#000" stroke-width="0.3">SZTR</text>
<rect x="473.5" y="951.13" width="72.89999999999998" height="16.935" fill="#ccb2ff" stroke="#000" stroke-width="1"/>
<rect x="550.6" y="951.13" width="95.0" height="16.935" fill="#448644" stroke="#000" stroke-width="1"/>
<text transform="translate(509.9,964.0) scale(0.94,1)" font-size="13.6" text-anchor="middle" stroke="#000" stroke-width="0.35">XRCC3</text>
<text transform="translate(598.1,964.0) scale(0.73,1)" font-size="13.6" text-anchor="middle" stroke="#000" stroke-width="0.3">Ex−L5/6−CCb</text>
<rect x="473.5" y="968.07" width="72.89999999999998" height="16.935" fill="#ffb29a" stroke="#000" stroke-width="1"/>
<rect x="550.6" y="968.07" width="95.0" height="16.935" fill="#999999" stroke="#000" stroke-width="1"/>
<text transform="translate(509.9,980.9) scale(0.94,1)" font-size="13.6" text-anchor="middle" stroke="#000" stroke-width="0.35">CPEB1</text>
<text transform="translate(598.1,980.9) scale(0.73,1)" font-size="13.6" text-anchor="middle" stroke="#000" stroke-width="0.3">SZTR</text>
<rect x="473.5" y="985.00" width="72.89999999999998" height="16.935" fill="#ffb29a" stroke="#000" stroke-width="1"/>
<rect x="550.6" y="985.00" width="95.0" height="16.935" fill="#999999" stroke="#000" stroke-width="1"/>
<text transform="translate(509.9,997.9) scale(0.94,1)" font-size="13.6" text-anchor="middle" stroke="#000" stroke-width="0.35">ADAMTSL3</text>
<text transform="translate(598.1,997.9) scale(0.73,1)" font-size="13.6" text-anchor="middle" stroke="#000" stroke-width="0.3">SZTR</text>
<rect x="473.5" y="1001.94" width="72.89999999999998" height="16.935" fill="#d2beff" stroke="#000" stroke-width="1"/>
<rect x="550.6" y="1001.94" width="95.0" height="16.935" fill="#448644" stroke="#000" stroke-width="1"/>
<text transform="translate(509.9,1014.8) scale(0.94,1)" font-size="13.6" text-anchor="middle" stroke="#000" stroke-width="0.35">RBFOX1</text>
<text transform="translate(598.1,1014.8) scale(0.73,1)" font-size="13.6" text-anchor="middle" stroke="#000" stroke-width="0.3">Ex−L5/6−CCb</text>
<rect x="473.5" y="1018.88" width="72.89999999999998" height="16.935" fill="#b598ff" stroke="#000" stroke-width="1"/>
<rect x="550.6" y="1018.88" width="95.0" height="16.935" fill="#448644" stroke="#000" stroke-width="1"/>
<rect x="683.85" y="87.85" width="15.10" height="16.13" fill="#d8c4fb"/>
<rect x="715.65" y="87.85" width="15.10" height="16.13" fill="#d8c4fb"/>
<rect x="731.55" y="87.85" width="15.10" height="16.13" fill="#e9defd"/>
<rect x="779.25" y="87.85" width="15.10" height="16.13" fill="#8858f6"/>
<rect x="829.70" y="87.85" width="15.10" height="16.13" fill="#f6f2fe"/>
<rect x="877.40" y="87.85" width="15.10" height="16.13" fill="#e9defd"/>
<rect x="911.70" y="87.85" width="15.10" height="16.13" fill="#ffd4c4"/>
<rect x="683.85" y="104.79" width="15.10" height="16.13" fill="#ff8a66"/>
<rect x="699.75" y="104.79" width="15.10" height="16.13" fill="#ffd4c4"/>
<rect x="715.65" y="104.79" width="15.10" height="16.13" fill="#ff8a66"/>
<rect x="779.25" y="104.79" width="15.10" height="16.13" fill="#ff9d7e"/>
<rect x="943.50" y="104.79" width="15.10" height="16.13" fill="#ffd4c4"/>
<rect x="979.4" y="104.39" width="15.4" height="16.935" fill="#a8a8a8"/>
<rect x="683.85" y="121.72" width="15.10" height="16.13" fill="#ff8a66"/>
<rect x="699.75" y="121.72" width="15.10" height="16.13" fill="#ffd4c4"/>
<rect x="715.65" y="121.72" width="15.10" height="16.13" fill="#ff8a66"/>
<rect x="779.25" y="121.72" width="15.10" height="16.13" fill="#ff9d7e"/>
<rect x="943.50" y="121.72" width="15.10" height="16.13" fill="#ffd4c4"/>
<rect x="979.4" y="121.32" width="15.4" height="16.935" fill="#a8a8a8"/>
<rect x="665.50" y="138.66" width="15.10" height="16.13" fill="#fff5f1"/>
<rect x="747.45" y="138.66" width="15.10" height="16.13" fill="#ffd4c4"/>
<rect x="797.90" y="138.66" width="15.10" height="16.13" fill="#ffd4c4"/>
<rect x="959.40" y="138.66" width="15.10" height="16.13" fill="#d8c4fb"/>
<rect x="979.4" y="138.25" width="15.4" height="16.935" fill="#a8a8a8"/>
<rect x="683.85" y="155.59" width="15.10" height="16.13" fill="#b899f7"/>
<rect x="763.35" y="155.59" width="15.10" height="16.13" fill="#b899f7"/>
<rect x="895.80" y="155.59" width="15.10" height="16.13" fill="#e9defd"/>
<rect x="979.4" y="155.19" width="15.4" height="16.935" fill="#a8a8a8"/>
<rect x="845.60" y="172.53" width="15.10" height="16.13" fill="#8858f6"/>
<rect x="861.50" y="172.53" width="15.10" height="16.13" fill="#d8c4fb"/>
<rect x="979.4" y="172.12" width="15.4" height="16.935" fill="#a8a8a8"/>
<rect x="665.50" y="189.46" width="15.10" height="16.13" fill="#ff8a66"/>
<rect x="683.85" y="189.46" width="15.10" height="16.13" fill="#fff5f1"/>
<rect x="763.35" y="189.46" width="15.10" height="16.13" fill="#fff5f1"/>
<rect x="779.25" y="189.46" width="15.10" height="16.13" fill="#fff5f1"/>
<rect x="665.50" y="206.40" width="15.10" height="16.13" fill="#fff5f1"/>
<rect x="683.85" y="206.40" width="15.10" height="16.13" fill="#fff5f1"/>
<rect x="731.55" y="206.40" width="15.10" height="16.13" fill="#e9defd"/>
<rect x="779.25" y="206.40" width="15.10" height="16.13" fill="#ff8a66"/>
<rect x="845.60" y="206.40" width="15.10" height="16.13" fill="#fff5f1"/>
<rect x="979.4" y="206.00" width="15.4" height="16.935" fill="#a8a8a8"/>
<rect x="715.65" y="223.33" width="15.10" height="16.13" fill="#d8c4fb"/>
<rect x="731.55" y="223.33" width="15.10" height="16.13" fill="#d8c4fb"/>
<rect x="747.45" y="223.33" width="15.10" height="16.13" fill="#b899f7"/>
<rect x="779.25" y="223.33" width="15.10" height="16.13" fill="#d8c4fb"/>
<rect x="979.4" y="222.93" width="15.4" height="16.935" fill="#a8a8a8"/>
<rect x="649.60" y="240.27" width="15.10" height="16.13" fill="#fff5f1"/>
<rect x="699.75" y="240.27" width="15.10" height="16.13" fill="#d8c4fb"/>
<rect x="715.65" y="240.27" width="15.10" height="16.13" fill="#d8c4fb"/>
<rect x="763.35" y="240.27" width="15.10" height="16.13" fill="#f6f2fe"/>
<rect x="779.25" y="240.27" width="15.10" height="16.13" fill="#d8c4fb"/>
<rect x="979.4" y="239.87" width="15.4" height="16.935" fill="#a8a8a8"/>
<rect x="665.50" y="257.20" width="15.10" height="16.13" fill="#fff5f1"/>
<rect x="797.90" y="257.20" width="15.10" height="16.13" fill="#d8c4fb"/>
<rect x="845.60" y="257.20" width="15.10" height="16.13" fill="#ffd4c4"/>
<rect x="861.50" y="257.20" width="15.10" height="16.13" fill="#ffd4c4"/>
<rect x="649.60" y="274.13" width="15.10" height="16.13" fill="#e9defd"/>
<rect x="683.85" y="274.13" width="15.10" height="16.13" fill="#d8c4fb"/>
<rect x="699.75" y="274.13" width="15.10" height="16.13" fill="#d8c4fb"/>
<rect x="715.65" y="274.13" width="15.10" height="16.13" fill="#b899f7"/>
<rect x="731.55" y="274.13" width="15.10" height="16.13" fill="#d8c4fb"/>
<rect x="747.45" y="274.13" width="15.10" height="16.13" fill="#e9defd"/>
<rect x="763.35" y="274.13" width="15.10" height="16.13" fill="#e9defd"/>
<rect x="779.25" y="274.13" width="15.10" height="16.13" fill="#b899f7"/>
<rect x="665.50" y="291.07" width="15.10" height="16.13" fill="#ffe7dd"/>
<rect x="747.45" y="291.07" width="15.10" height="16.13" fill="#ffb39a"/>
<rect x="861.50" y="291.07" width="15.10" height="16.13" fill="#d8c4fb"/>
<rect x="927.60" y="291.07" width="15.10" height="16.13" fill="#ff8a66"/>
<rect x="979.4" y="290.67" width="15.4" height="16.935" fill="#a8a8a8"/>
<rect x="747.45" y="308.00" width="15.10" height="16.13" fill="#d8c4fb"/>
<rect x="797.90" y="308.00" width="15.10" height="16.13" fill="#b899f7"/>
<rect x="829.70" y="308.00" width="15.10" height="16.13" fill="#b899f7"/>
<rect x="845.60" y="308.00" width="15.10" height="16.13" fill="#b899f7"/>
<rect x="877.40" y="308.00" width="15.10" height="16.13" fill="#b899f7"/>
<rect x="665.50" y="324.94" width="15.10" height="16.13" fill="#fff5f1"/>
<rect x="699.75" y="324.94" width="15.10" height="16.13" fill="#fff5f1"/>
<rect x="715.65" y="324.94" width="15.10" height="16.13" fill="#ffe7dd"/>
<rect x="731.55" y="324.94" width="15.10" height="16.13" fill="#ffe7dd"/>
<rect x="747.45" y="324.94" width="15.10" height="16.13" fill="#ffd4c4"/>
<rect x="779.25" y="324.94" width="15.10" height="16.13" fill="#fff5f1"/>
<rect x="813.80" y="324.94" width="15.10" height="16.13" fill="#ffe7dd"/>
<rect x="829.70" y="324.94" width="15.10" height="16.13" fill="#ffe7dd"/>
<rect x="877.40" y="324.94" width="15.10" height="16.13" fill="#fff5f1"/>
<rect x="895.80" y="324.94" width="15.10" height="16.13" fill="#e9defd"/>
<rect x="943.50" y="324.94" width="15.10" height="16.13" fill="#fff5f1"/>
<rect x="959.40" y="324.94" width="15.10" height="16.13" fill="#e9defd"/>
<rect x="779.25" y="341.87" width="15.10" height="16.13" fill="#8858f6"/>
<rect x="979.4" y="341.47" width="15.4" height="16.935" fill="#a8a8a8"/>
<rect x="665.50" y="358.81" width="15.10" height="16.13" fill="#fff5f1"/>
<rect x="683.85" y="358.81" width="15.10" height="16.13" fill="#fff5f1"/>
<rect x="699.75" y="358.81" width="15.10" height="16.13" fill="#ffd4c4"/>
<rect x="715.65" y="358.81" width="15.10" height="16.13" fill="#ffd4c4"/>
<rect x="731.55" y="358.81" width="15.10" height="16.13" fill="#ffe7dd"/>
<rect x="747.45" y="358.81" width="15.10" height="16.13" fill="#ffe7dd"/>
<rect x="763.35" y="358.81" width="15.10" height="16.13" fill="#fff5f1"/>
<rect x="779.25" y="358.81" width="15.10" height="16.13" fill="#fff5f1"/>
<rect x="911.70" y="358.81" width="15.10" height="16.13" fill="#ffd4c4"/>
<rect x="979.4" y="358.41" width="15.4" height="16.935" fill="#a8a8a8"/>
<rect x="683.85" y="375.74" width="15.10" height="16.13" fill="#ffb39a"/>
<rect x="715.65" y="375.74" width="15.10" height="16.13" fill="#ffb39a"/>
<rect x="763.35" y="375.74" width="15.10" height="16.13" fill="#ffe7dd"/>
<rect x="779.25" y="375.74" width="15.10" height="16.13" fill="#ff9d7e"/>
<rect x="797.90" y="375.74" width="15.10" height="16.13" fill="#f6f2fe"/>
<rect x="829.70" y="375.74" width="15.10" height="16.13" fill="#e9defd"/>
<rect x="861.50" y="375.74" width="15.10" height="16.13" fill="#fff5f1"/>
<rect x="683.85" y="392.68" width="15.10" height="16.13" fill="#ffd4c4"/>
<rect x="699.75" y="392.68" width="15.10" height="16.13" fill="#ffd4c4"/>
<rect x="715.65" y="392.68" width="15.10" height="16.13" fill="#ffd4c4"/>
<rect x="747.45" y="392.68" width="15.10" height="16.13" fill="#ffb39a"/>
<rect x="845.60" y="392.68" width="15.10" height="16.13" fill="#ffb39a"/>
<rect x="895.80" y="392.68" width="15.10" height="16.13" fill="#e9defd"/>
<rect x="911.70" y="392.68" width="15.10" height="16.13" fill="#e9defd"/>
<rect x="683.85" y="409.61" width="15.10" height="16.13" fill="#b899f7"/>
<rect x="699.75" y="409.61" width="15.10" height="16.13" fill="#b899f7"/>
<rect x="715.65" y="409.61" width="15.10" height="16.13" fill="#d8c4fb"/>
<rect x="747.45" y="409.61" width="15.10" height="16.13" fill="#b899f7"/>
<rect x="763.35" y="409.61" width="15.10" height="16.13" fill="#f6f2fe"/>
<rect x="779.25" y="409.61" width="15.10" height="16.13" fill="#b899f7"/>
<rect x="829.70" y="409.61" width="15.10" height="16.13" fill="#b899f7"/>
<rect x="943.50" y="409.61" width="15.10" height="16.13" fill="#ffd4c4"/>
<rect x="979.4" y="409.21" width="15.4" height="16.935" fill="#a8a8a8"/>
<rect x="747.45" y="426.55" width="15.10" height="16.13" fill="#ffe7dd"/>
<rect x="763.35" y="426.55" width="15.10" height="16.13" fill="#ff9d7e"/>
<rect x="813.80" y="426.55" width="15.10" height="16.13" fill="#ffb39a"/>
<rect x="649.60" y="443.48" width="15.10" height="16.13" fill="#ffd4c4"/>
<rect x="665.50" y="443.48" width="15.10" height="16.13" fill="#e9defd"/>
<rect x="683.85" y="443.48" width="15.10" height="16.13" fill="#b899f7"/>
<rect x="699.75" y="443.48" width="15.10" height="16.13" fill="#b899f7"/>
<rect x="763.35" y="443.48" width="15.10" height="16.13" fill="#e9defd"/>
<rect x="779.25" y="443.48" width="15.10" height="16.13" fill="#b899f7"/>
<rect x="797.90" y="443.48" width="15.10" height="16.13" fill="#d8c4fb"/>
<rect x="829.70" y="443.48" width="15.10" height="16.13" fill="#b899f7"/>
<rect x="877.40" y="443.48" width="15.10" height="16.13" fill="#e9defd"/>
<rect x="649.60" y="460.42" width="15.10" height="16.13" fill="#fff5f1"/>
<rect x="665.50" y="460.42" width="15.10" height="16.13" fill="#ff8a66"/>
<rect x="715.65" y="460.42" width="15.10" height="16.13" fill="#ffd4c4"/>
<rect x="715.65" y="477.35" width="15.10" height="16.13" fill="#b899f7"/>
<rect x="731.55" y="477.35" width="15.10" height="16.13" fill="#e9defd"/>
<rect x="763.35" y="477.35" width="15.10" height="16.13" fill="#d8c4fb"/>
<rect x="779.25" y="477.35" width="15.10" height="16.13" fill="#f6f2fe"/>
<rect x="797.90" y="477.35" width="15.10" height="16.13" fill="#d8c4fb"/>
<rect x="813.80" y="477.35" width="15.10" height="16.13" fill="#b899f7"/>
<rect x="861.50" y="477.35" width="15.10" height="16.13" fill="#ffd4c4"/>
<rect x="649.60" y="494.29" width="15.10" height="16.13" fill="#fff5f1"/>
<rect x="683.85" y="494.29" width="15.10" height="16.13" fill="#ff9d7e"/>
<rect x="699.75" y="494.29" width="15.10" height="16.13" fill="#ffb39a"/>
<rect x="715.65" y="494.29" width="15.10" height="16.13" fill="#ffb39a"/>
<rect x="763.35" y="494.29" width="15.10" height="16.13" fill="#ffb39a"/>
<rect x="779.25" y="494.29" width="15.10" height="16.13" fill="#ff9d7e"/>
<rect x="861.50" y="494.29" width="15.10" height="16.13" fill="#ffb39a"/>
<rect x="877.40" y="494.29" width="15.10" height="16.13" fill="#ff9d7e"/>
<rect x="927.60" y="494.29" width="15.10" height="16.13" fill="#f5643e"/>
<rect x="959.40" y="494.29" width="15.10" height="16.13" fill="#d8c4fb"/>
<rect x="665.50" y="511.22" width="15.10" height="16.13" fill="#d8c4fb"/>
<rect x="699.75" y="511.22" width="15.10" height="16.13" fill="#b899f7"/>
<rect x="763.35" y="511.22" width="15.10" height="16.13" fill="#b899f7"/>
<rect x="779.25" y="511.22" width="15.10" height="16.13" fill="#b899f7"/>
<rect x="829.70" y="511.22" width="15.10" height="16.13" fill="#b899f7"/>
<rect x="665.50" y="528.16" width="15.10" height="16.13" fill="#ff8a66"/>
<rect x="715.65" y="528.16" width="15.10" height="16.13" fill="#ffd4c4"/>
<rect x="979.4" y="527.76" width="15.4" height="16.935" fill="#a8a8a8"/>
<rect x="747.45" y="545.09" width="15.10" height="16.13" fill="#e9defd"/>
<rect x="813.80" y="545.09" width="15.10" height="16.13" fill="#d8c4fb"/>
<rect x="845.60" y="545.09" width="15.10" height="16.13" fill="#b899f7"/>
<rect x="861.50" y="545.09" width="15.10" height="16.13" fill="#d8c4fb"/>
<rect x="877.40" y="545.09" width="15.10" height="16.13" fill="#e9defd"/>
<rect x="979.4" y="544.69" width="15.4" height="16.935" fill="#a8a8a8"/>
<rect x="829.70" y="562.03" width="15.10" height="16.13" fill="#b899f7"/>
<rect x="861.50" y="562.03" width="15.10" height="16.13" fill="#f6f2fe"/>
<rect x="829.70" y="578.96" width="15.10" height="16.13" fill="#b899f7"/>
<rect x="861.50" y="578.96" width="15.10" height="16.13" fill="#f6f2fe"/>
<rect x="683.85" y="595.90" width="15.10" height="16.13" fill="#d8c4fb"/>
<rect x="699.75" y="595.90" width="15.10" height="16.13" fill="#b899f7"/>
<rect x="747.45" y="595.90" width="15.10" height="16.13" fill="#d8c4fb"/>
<rect x="763.35" y="595.90" width="15.10" height="16.13" fill="#d8c4fb"/>
<rect x="779.25" y="595.90" width="15.10" height="16.13" fill="#d8c4fb"/>
<rect x="797.90" y="595.90" width="15.10" height="16.13" fill="#e9defd"/>
<rect x="649.60" y="612.84" width="15.10" height="16.13" fill="#ffe7dd"/>
<rect x="763.35" y="612.84" width="15.10" height="16.13" fill="#ffd4c4"/>
<rect x="829.70" y="612.84" width="15.10" height="16.13" fill="#ffe7dd"/>
<rect x="845.60" y="612.84" width="15.10" height="16.13" fill="#ffe7dd"/>
<rect x="861.50" y="612.84" width="15.10" height="16.13" fill="#ffb39a"/>
<rect x="877.40" y="612.84" width="15.10" height="16.13" fill="#fff5f1"/>
<rect x="943.50" y="612.84" width="15.10" height="16.13" fill="#f6f2fe"/>
<rect x="665.50" y="629.77" width="15.10" height="16.13" fill="#ffb39a"/>
<rect x="683.85" y="629.77" width="15.10" height="16.13" fill="#ffb39a"/>
<rect x="699.75" y="629.77" width="15.10" height="16.13" fill="#ffd4c4"/>
<rect x="715.65" y="629.77" width="15.10" height="16.13" fill="#ffb39a"/>
<rect x="731.55" y="629.77" width="15.10" height="16.13" fill="#ffb39a"/>
<rect x="747.45" y="629.77" width="15.10" height="16.13" fill="#fff5f1"/>
<rect x="763.35" y="629.77" width="15.10" height="16.13" fill="#ffe7dd"/>
<rect x="779.25" y="629.77" width="15.10" height="16.13" fill="#ffd4c4"/>
<rect x="797.90" y="629.77" width="15.10" height="16.13" fill="#ffd4c4"/>
<rect x="845.60" y="629.77" width="15.10" height="16.13" fill="#ffb39a"/>
<rect x="665.50" y="646.70" width="15.10" height="16.13" fill="#fff5f1"/>
<rect x="683.85" y="646.70" width="15.10" height="16.13" fill="#ffb39a"/>
<rect x="699.75" y="646.70" width="15.10" height="16.13" fill="#ffb39a"/>
<rect x="715.65" y="646.70" width="15.10" height="16.13" fill="#ff8a66"/>
<rect x="731.55" y="646.70" width="15.10" height="16.13" fill="#ff8a66"/>
<rect x="747.45" y="646.70" width="15.10" height="16.13" fill="#ff8a66"/>
<rect x="763.35" y="646.70" width="15.10" height="16.13" fill="#ffb39a"/>
<rect x="779.25" y="646.70" width="15.10" height="16.13" fill="#ffb39a"/>
<rect x="797.90" y="646.70" width="15.10" height="16.13" fill="#ffb39a"/>
<rect x="829.70" y="646.70" width="15.10" height="16.13" fill="#ffb39a"/>
<rect x="845.60" y="646.70" width="15.10" height="16.13" fill="#ffd4c4"/>
<rect x="861.50" y="646.70" width="15.10" height="16.13" fill="#ffe7dd"/>
<rect x="877.40" y="646.70" width="15.10" height="16.13" fill="#ff8a66"/>
<rect x="895.80" y="646.70" width="15.10" height="16.13" fill="#ee4522"/>
<rect x="959.40" y="646.70" width="15.10" height="16.13" fill="#ffe7dd"/>
<rect x="813.80" y="663.64" width="15.10" height="16.13" fill="#ffd4c4"/>
<rect x="683.85" y="680.57" width="15.10" height="16.13" fill="#d8c4fb"/>
<rect x="699.75" y="680.57" width="15.10" height="16.13" fill="#b899f7"/>
<rect x="731.55" y="680.57" width="15.10" height="16.13" fill="#e9defd"/>
<rect x="779.25" y="680.57" width="15.10" height="16.13" fill="#d8c4fb"/>
<rect x="797.90" y="680.57" width="15.10" height="16.13" fill="#d8c4fb"/>
<rect x="829.70" y="680.57" width="15.10" height="16.13" fill="#f6f2fe"/>
<rect x="877.40" y="680.57" width="15.10" height="16.13" fill="#d8c4fb"/>
<rect x="979.4" y="680.17" width="15.4" height="16.935" fill="#a8a8a8"/>
<rect x="665.50" y="697.51" width="15.10" height="16.13" fill="#ffe7dd"/>
<rect x="763.35" y="697.51" width="15.10" height="16.13" fill="#d8c4fb"/>
<rect x="779.25" y="697.51" width="15.10" height="16.13" fill="#b899f7"/>
<rect x="797.90" y="697.51" width="15.10" height="16.13" fill="#d8c4fb"/>
<rect x="829.70" y="697.51" width="15.10" height="16.13" fill="#d8c4fb"/>
<rect x="979.4" y="697.11" width="15.4" height="16.935" fill="#a8a8a8"/>
<rect x="665.50" y="714.44" width="15.10" height="16.13" fill="#ffb39a"/>
<rect x="715.65" y="714.44" width="15.10" height="16.13" fill="#f5643e"/>
<rect x="747.45" y="714.44" width="15.10" height="16.13" fill="#ffd4c4"/>
<rect x="845.60" y="714.44" width="15.10" height="16.13" fill="#ffd4c4"/>
<rect x="665.50" y="731.38" width="15.10" height="16.13" fill="#a07cf5"/>
<rect x="683.85" y="731.38" width="15.10" height="16.13" fill="#b899f7"/>
<rect x="699.75" y="731.38" width="15.10" height="16.13" fill="#e9defd"/>
<rect x="731.55" y="731.38" width="15.10" height="16.13" fill="#e9defd"/>
<rect x="895.80" y="731.38" width="15.10" height="16.13" fill="#e9defd"/>
<rect x="649.60" y="748.31" width="15.10" height="16.13" fill="#ffb39a"/>
<rect x="731.55" y="748.31" width="15.10" height="16.13" fill="#d8c4fb"/>
<rect x="763.35" y="748.31" width="15.10" height="16.13" fill="#e9defd"/>
<rect x="779.25" y="748.31" width="15.10" height="16.13" fill="#d8c4fb"/>
<rect x="979.4" y="747.91" width="15.4" height="16.935" fill="#a8a8a8"/>
<rect x="779.25" y="765.25" width="15.10" height="16.13" fill="#a07cf5"/>
<rect x="649.60" y="782.18" width="15.10" height="16.13" fill="#d8c4fb"/>
<rect x="763.35" y="782.18" width="15.10" height="16.13" fill="#d8c4fb"/>
<rect x="649.60" y="799.12" width="15.10" height="16.13" fill="#e9defd"/>
<rect x="665.50" y="799.12" width="15.10" height="16.13" fill="#e9defd"/>
<rect x="763.35" y="799.12" width="15.10" height="16.13" fill="#d8c4fb"/>
<rect x="779.25" y="799.12" width="15.10" height="16.13" fill="#a07cf5"/>
<rect x="797.90" y="799.12" width="15.10" height="16.13" fill="#b899f7"/>
<rect x="979.4" y="798.72" width="15.4" height="16.935" fill="#a8a8a8"/>
<rect x="665.50" y="816.05" width="15.10" height="16.13" fill="#ffe7dd"/>
<rect x="715.65" y="816.05" width="15.10" height="16.13" fill="#ffb39a"/>
<rect x="747.45" y="816.05" width="15.10" height="16.13" fill="#ffe7dd"/>
<rect x="763.35" y="816.05" width="15.10" height="16.13" fill="#ff8a66"/>
<rect x="779.25" y="816.05" width="15.10" height="16.13" fill="#ff9d7e"/>
<rect x="797.90" y="816.05" width="15.10" height="16.13" fill="#ffd4c4"/>
<rect x="845.60" y="816.05" width="15.10" height="16.13" fill="#d8c4fb"/>
<rect x="861.50" y="816.05" width="15.10" height="16.13" fill="#b899f7"/>
<rect x="877.40" y="816.05" width="15.10" height="16.13" fill="#d8c4fb"/>
<rect x="895.80" y="816.05" width="15.10" height="16.13" fill="#fff5f1"/>
<rect x="959.40" y="816.05" width="15.10" height="16.13" fill="#d8c4fb"/>
<rect x="683.85" y="832.99" width="15.10" height="16.13" fill="#a07cf5"/>
<rect x="699.75" y="832.99" width="15.10" height="16.13" fill="#b899f7"/>
<rect x="715.65" y="832.99" width="15.10" height="16.13" fill="#a07cf5"/>
<rect x="731.55" y="832.99" width="15.10" height="16.13" fill="#d8c4fb"/>
<rect x="747.45" y="832.99" width="15.10" height="16.13" fill="#b899f7"/>
<rect x="763.35" y="832.99" width="15.10" height="16.13" fill="#f6f2fe"/>
<rect x="779.25" y="832.99" width="15.10" height="16.13" fill="#b899f7"/>
<rect x="845.60" y="832.99" width="15.10" height="16.13" fill="#d8c4fb"/>
<rect x="861.50" y="832.99" width="15.10" height="16.13" fill="#a07cf5"/>
<rect x="877.40" y="832.99" width="15.10" height="16.13" fill="#d8c4fb"/>
<rect x="683.85" y="849.92" width="15.10" height="16.13" fill="#8858f6"/>
<rect x="731.55" y="849.92" width="15.10" height="16.13" fill="#d8c4fb"/>
<rect x="763.35" y="849.92" width="15.10" height="16.13" fill="#6440f2"/>
<rect x="779.25" y="849.92" width="15.10" height="16.13" fill="#d8c4fb"/>
<rect x="797.90" y="849.92" width="15.10" height="16.13" fill="#d8c4fb"/>
<rect x="845.60" y="849.92" width="15.10" height="16.13" fill="#b899f7"/>
<rect x="979.4" y="849.52" width="15.4" height="16.935" fill="#a8a8a8"/>
<rect x="895.80" y="866.86" width="15.10" height="16.13" fill="#b899f7"/>
<rect x="979.4" y="866.46" width="15.4" height="16.935" fill="#a8a8a8"/>
<rect x="649.60" y="883.79" width="15.10" height="16.13" fill="#ffd4c4"/>
<rect x="665.50" y="883.79" width="15.10" height="16.13" fill="#fff5f1"/>
<rect x="683.85" y="883.79" width="15.10" height="16.13" fill="#fff5f1"/>
<rect x="715.65" y="883.79" width="15.10" height="16.13" fill="#f6f2fe"/>
<rect x="731.55" y="883.79" width="15.10" height="16.13" fill="#fff5f1"/>
<rect x="763.35" y="883.79" width="15.10" height="16.13" fill="#f6f2fe"/>
<rect x="797.90" y="883.79" width="15.10" height="16.13" fill="#ffd4c4"/>
<rect x="845.60" y="883.79" width="15.10" height="16.13" fill="#ffd4c4"/>
<rect x="877.40" y="883.79" width="15.10" height="16.13" fill="#ffd4c4"/>
<rect x="979.4" y="883.39" width="15.4" height="16.935" fill="#a8a8a8"/>
<rect x="665.50" y="900.73" width="15.10" height="16.13" fill="#ff8a66"/>
<rect x="665.50" y="917.66" width="15.10" height="16.13" fill="#fff5f1"/>
<rect x="699.75" y="917.66" width="15.10" height="16.13" fill="#ffd4c4"/>
<rect x="715.65" y="917.66" width="15.10" height="16.13" fill="#ffd4c4"/>
<rect x="779.25" y="917.66" width="15.10" height="16.13" fill="#d8c4fb"/>
<rect x="813.80" y="917.66" width="15.10" height="16.13" fill="#fff5f1"/>
<rect x="861.50" y="917.66" width="15.10" height="16.13" fill="#ee3311"/>
<rect x="877.40" y="917.66" width="15.10" height="16.13" fill="#ffd4c4"/>
<rect x="665.50" y="934.60" width="15.10" height="16.13" fill="#ffb39a"/>
<rect x="731.55" y="934.60" width="15.10" height="16.13" fill="#d8c4fb"/>
<rect x="747.45" y="934.60" width="15.10" height="16.13" fill="#e9defd"/>
<rect x="797.90" y="934.60" width="15.10" height="16.13" fill="#d8c4fb"/>
<rect x="829.70" y="934.60" width="15.10" height="16.13" fill="#d8c4fb"/>
<rect x="861.50" y="934.60" width="15.10" height="16.13" fill="#d8c4fb"/>
<rect x="665.50" y="951.53" width="15.10" height="16.13" fill="#ffe7dd"/>
<rect x="747.45" y="951.53" width="15.10" height="16.13" fill="#e9defd"/>
<rect x="763.35" y="951.53" width="15.10" height="16.13" fill="#f6f2fe"/>
<rect x="779.25" y="951.53" width="15.10" height="16.13" fill="#d8c4fb"/>
<rect x="797.90" y="951.53" width="15.10" height="16.13" fill="#e9defd"/>
<rect x="979.4" y="951.13" width="15.4" height="16.935" fill="#a8a8a8"/>
<rect x="665.50" y="968.47" width="15.10" height="16.13" fill="#ffb39a"/>
<rect x="979.4" y="968.07" width="15.4" height="16.935" fill="#a8a8a8"/>
<rect x="665.50" y="985.40" width="15.10" height="16.13" fill="#ffb39a"/>
<rect x="747.45" y="985.40" width="15.10" height="16.13" fill="#f6f2fe"/>
<rect x="979.4" y="985.00" width="15.4" height="16.935" fill="#a8a8a8"/>
<rect x="649.60" y="1002.34" width="15.10" height="16.13" fill="#ffd4c4"/>
<rect x="763.35" y="1002.34" width="15.10" height="16.13" fill="#e9defd"/>
<rect x="779.25" y="1002.34" width="15.10" height="16.13" fill="#d8c4fb"/>
<rect x="829.70" y="1002.34" width="15.10" height="16.13" fill="#e9defd"/>
<rect x="943.50" y="1002.34" width="15.10" height="16.13" fill="#e9defd"/>
<rect x="959.40" y="1002.34" width="15.10" height="16.13" fill="#ffd4c4"/>
<rect x="683.85" y="1019.27" width="15.10" height="16.13" fill="#d8c4fb"/>
<rect x="699.75" y="1019.27" width="15.10" height="16.13" fill="#b899f7"/>
<rect x="715.65" y="1019.27" width="15.10" height="16.13" fill="#d8c4fb"/>
<rect x="763.35" y="1019.27" width="15.10" height="16.13" fill="#e9defd"/>
<rect x="779.25" y="1019.27" width="15.10" height="16.13" fill="#b899f7"/>
<rect x="797.90" y="1019.27" width="15.10" height="16.13" fill="#b899f7"/>
<rect x="979.4" y="1018.88" width="15.4" height="16.935" fill="#a8a8a8"/>
<path d="M649.0 87.5H682.0M649.0 104.5H682.0M649.0 121.5H682.0M649.0 138.5H682.0M649.0 155.5H682.0M649.0 172.5H682.0M649.0 189.5H682.0M649.0 205.5H682.0M649.0 222.5H682.0M649.0 239.5H682.0M649.0 256.5H682.0M649.0 273.5H682.0M649.0 290.5H682.0M649.0 307.5H682.0M649.0 324.5H682.0M649.0 341.5H682.0M649.0 358.5H682.0M649.0 375.5H682.0M649.0 392.5H682.0M649.0 409.5H682.0M649.0 426.5H682.0M649.0 443.5H682.0M649.0 460.5H682.0M649.0 476.5H682.0M649.0 493.5H682.0M649.0 510.5H682.0M649.0 527.5H682.0M649.0 544.5H682.0M649.0 561.5H682.0M649.0 578.5H682.0M649.0 595.5H682.0M649.0 612.5H682.0M649.0 629.5H682.0M649.0 646.5H682.0M649.0 663.5H682.0M649.0 680.5H682.0M649.0 697.5H682.0M649.0 714.5H682.0M649.0 730.5H682.0M649.0 747.5H682.0M649.0 764.5H682.0M649.0 781.5H682.0M649.0 798.5H682.0M649.0 815.5H682.0M649.0 832.5H682.0M649.0 849.5H682.0M649.0 866.5H682.0M649.0 883.5H682.0M649.0 900.5H682.0M649.0 917.5H682.0M649.0 934.5H682.0M649.0 951.5H682.0M649.0 968.5H682.0M649.0 985.5H682.0M649.0 1001.5H682.0M649.0 1018.5H682.0M649.0 1035.5H682.0M649.5 87.0V1035.8M665.5 87.0V1035.8M681.5 87.0V1035.8M683.0 87.5H795.0M683.0 104.5H795.0M683.0 121.5H795.0M683.0 138.5H795.0M683.0 155.5H795.0M683.0 172.5H795.0M683.0 189.5H795.0M683.0 205.5H795.0M683.0 222.5H795.0M683.0 239.5H795.0M683.0 256.5H795.0M683.0 273.5H795.0M683.0 290.5H795.0M683.0 307.5H795.0M683.0 324.5H795.0M683.0 341.5H795.0M683.0 358.5H795.0M683.0 375.5H795.0M683.0 392.5H795.0M683.0 409.5H795.0M683.0 426.5H795.0M683.0 443.5H795.0M683.0 460.5H795.0M683.0 476.5H795.0M683.0 493.5H795.0M683.0 510.5H795.0M683.0 527.5H795.0M683.0 544.5H795.0M683.0 561.5H795.0M683.0 578.5H795.0M683.0 595.5H795.0M683.0 612.5H795.0M683.0 629.5H795.0M683.0 646.5H795.0M683.0 663.5H795.0M683.0 680.5H795.0M683.0 697.5H795.0M683.0 714.5H795.0M683.0 730.5H795.0M683.0 747.5H795.0M683.0 764.5H795.0M683.0 781.5H795.0M683.0 798.5H795.0M683.0 815.5H795.0M683.0 832.5H795.0M683.0 849.5H795.0M683.0 866.5H795.0M683.0 883.5H795.0M683.0 900.5H795.0M683.0 917.5H795.0M683.0 934.5H795.0M683.0 951.5H795.0M683.0 968.5H795.0M683.0 985.5H795.0M683.0 1001.5H795.0M683.0 1018.5H795.0M683.0 1035.5H795.0M683.5 87.0V1035.8M699.5 87.0V1035.8M715.5 87.0V1035.8M731.5 87.0V1035.8M747.5 87.0V1035.8M762.5 87.0V1035.8M778.5 87.0V1035.8M794.5 87.0V1035.8M797.0 87.5H893.0M797.0 104.5H893.0M797.0 121.5H893.0M797.0 138.5H893.0M797.0 155.5H893.0M797.0 172.5H893.0M797.0 189.5H893.0M797.0 205.5H893.0M797.0 222.5H893.0M797.0 239.5H893.0M797.0 256.5H893.0M797.0 273.5H893.0M797.0 290.5H893.0M797.0 307.5H893.0M797.0 324.5H893.0M797.0 341.5H893.0M797.0 358.5H893.0M797.0 375.5H893.0M797.0 392.5H893.0M797.0 409.5H893.0M797.0 426.5H893.0M797.0 443.5H893.0M797.0 460.5H893.0M797.0 476.5H893.0M797.0 493.5H893.0M797.0 510.5H893.0M797.0 527.5H893.0M797.0 544.5H893.0M797.0 561.5H893.0M797.0 578.5H893.0M797.0 595.5H893.0M797.0 612.5H893.0M797.0 629.5H893.0M797.0 646.5H893.0M797.0 663.5H893.0M797.0 680.5H893.0M797.0 697.5H893.0M797.0 714.5H893.0M797.0 730.5H893.0M797.0 747.5H893.0M797.0 764.5H893.0M797.0 781.5H893.0M797.0 798.5H893.0M797.0 815.5H893.0M797.0 832.5H893.0M797.0 849.5H893.0M797.0 866.5H893.0M797.0 883.5H893.0M797.0 900.5H893.0M797.0 917.5H893.0M797.0 934.5H893.0M797.0 951.5H893.0M797.0 968.5H893.0M797.0 985.5H893.0M797.0 1001.5H893.0M797.0 1018.5H893.0M797.0 1035.5H893.0M797.5 87.0V1035.8M813.5 87.0V1035.8M829.5 87.0V1035.8M845.5 87.0V1035.8M861.5 87.0V1035.8M877.5 87.0V1035.8M892.5 87.0V1035.8M895.0 87.5H975.0M895.0 104.5H975.0M895.0 121.5H975.0M895.0 138.5H975.0M895.0 155.5H975.0M895.0 172.5H975.0M895.0 189.5H975.0M895.0 205.5H975.0M895.0 222.5H975.0M895.0 239.5H975.0M895.0 256.5H975.0M895.0 273.5H975.0M895.0 290.5H975.0M895.0 307.5H975.0M895.0 324.5H975.0M895.0 341.5H975.0M895.0 358.5H975.0M895.0 375.5H975.0M895.0 392.5H975.0M895.0 409.5H975.0M895.0 426.5H975.0M895.0 443.5H975.0M895.0 460.5H975.0M895.0 476.5H975.0M895.0 493.5H975.0M895.0 510.5H975.0M895.0 527.5H975.0M895.0 544.5H975.0M895.0 561.5H975.0M895.0 578.5H975.0M895.0 595.5H975.0M895.0 612.5H975.0M895.0 629.5H975.0M895.0 646.5H975.0M895.0 663.5H975.0M895.0 680.5H975.0M895.0 697.5H975.0M895.0 714.5H975.0M895.0 730.5H975.0M895.0 747.5H975.0M895.0 764.5H975.0M895.0 781.5H975.0M895.0 798.5H975.0M895.0 815.5H975.0M895.0 832.5H975.0M895.0 849.5H975.0M895.0 866.5H975.0M895.0 883.5H975.0M895.0 900.5H975.0M895.0 917.5H975.0M895.0 934.5H975.0M895.0 951.5H975.0M895.0 968.5H975.0M895.0 985.5H975.0M895.0 1001.5H975.0M895.0 1018.5H975.0M895.0 1035.5H975.0M895.5 87.0V1035.8M911.5 87.0V1035.8M927.5 87.0V1035.8M943.5 87.0V1035.8M959.5 87.0V1035.8M974.5 87.0V1035.8M979 87.5H995M979 104.5H995M979 121.5H995M979 138.5H995M979 155.5H995M979 172.5H995M979 189.5H995M979 205.5H995M979 222.5H995M979 239.5H995M979 256.5H995M979 273.5H995M979 290.5H995M979 307.5H995M979 324.5H995M979 341.5H995M979 358.5H995M979 375.5H995M979 392.5H995M979 409.5H995M979 426.5H995M979 443.5H995M979 460.5H995M979 476.5H995M979 493.5H995M979 510.5H995M979 527.5H995M979 544.5H995M979 561.5H995M979 578.5H995M979 595.5H995M979 612.5H995M979 629.5H995M979 646.5H995M979 663.5H995M979 680.5H995M979 697.5H995M979 714.5H995M979 730.5H995M979 747.5H995M979 764.5H995M979 781.5H995M979 798.5H995M979 815.5H995M979 832.5H995M979 849.5H995M979 866.5H995M979 883.5H995M979 900.5H995M979 917.5H995M979 934.5H995M979 951.5H995M979 968.5H995M979 985.5H995M979 1001.5H995M979 1018.5H995M979 1035.5H995M979.5 87.0V1035.8M994.5 87.0V1035.8" stroke="#000" stroke-width="1" fill="none" shape-rendering="crispEdges"/>
<circle cx="786.80" cy="95.92" r="3.4" fill="none" stroke="#151515" stroke-width="0.95"/>
<circle cx="723.20" cy="112.85" r="3.4" fill="none" stroke="#151515" stroke-width="0.95"/>
<circle cx="723.20" cy="129.79" r="3.4" fill="none" stroke="#151515" stroke-width="0.95"/>
<circle cx="805.45" cy="146.72" r="3.4" fill="none" stroke="#151515" stroke-width="0.95"/>
<circle cx="770.90" cy="163.66" r="3.4" fill="none" stroke="#151515" stroke-width="0.95"/>
<circle cx="853.15" cy="180.59" r="3.4" fill="none" stroke="#151515" stroke-width="0.95"/>
<circle cx="673.05" cy="197.53" r="3.4" fill="none" stroke="#151515" stroke-width="0.95"/>
<circle cx="786.80" cy="214.46" r="3.4" fill="none" stroke="#151515" stroke-width="0.95"/>
<circle cx="755.00" cy="231.40" r="3.4" fill="none" stroke="#151515" stroke-width="0.95"/>
<circle cx="786.80" cy="248.33" r="3.4" fill="none" stroke="#151515" stroke-width="0.95"/>
<circle cx="869.05" cy="265.27" r="3.4" fill="none" stroke="#151515" stroke-width="0.95"/>
<circle cx="723.20" cy="282.20" r="3.4" fill="none" stroke="#151515" stroke-width="0.95"/>
<circle cx="935.15" cy="299.14" r="3.4" fill="none" stroke="#151515" stroke-width="0.95"/>
<circle cx="805.45" cy="316.07" r="3.4" fill="none" stroke="#151515" stroke-width="0.95"/>
<circle cx="755.00" cy="333.01" r="3.4" fill="none" stroke="#151515" stroke-width="0.95"/>
<circle cx="786.80" cy="349.94" r="3.4" fill="none" stroke="#151515" stroke-width="0.95"/>
<circle cx="723.20" cy="366.88" r="3.4" fill="none" stroke="#151515" stroke-width="0.95"/>
<circle cx="786.80" cy="383.81" r="3.4" fill="none" stroke="#151515" stroke-width="0.95"/>
<circle cx="707.30" cy="400.75" r="3.4" fill="none" stroke="#151515" stroke-width="0.95"/>
<circle cx="786.80" cy="417.68" r="3.4" fill="none" stroke="#151515" stroke-width="0.95"/>
<circle cx="770.90" cy="434.62" r="3.4" fill="none" stroke="#151515" stroke-width="0.95"/>
<circle cx="786.80" cy="451.55" r="3.4" fill="none" stroke="#151515" stroke-width="0.95"/>
<circle cx="673.05" cy="468.49" r="3.4" fill="none" stroke="#151515" stroke-width="0.95"/>
<circle cx="723.20" cy="485.42" r="3.4" fill="none" stroke="#151515" stroke-width="0.95"/>
<circle cx="935.15" cy="502.36" r="3.4" fill="none" stroke="#151515" stroke-width="0.95"/>
<circle cx="786.80" cy="519.29" r="3.4" fill="none" stroke="#151515" stroke-width="0.95"/>
<circle cx="673.05" cy="536.23" r="3.4" fill="none" stroke="#151515" stroke-width="0.95"/>
<circle cx="853.15" cy="553.16" r="3.4" fill="none" stroke="#151515" stroke-width="0.95"/>
<circle cx="837.25" cy="570.10" r="3.4" fill="none" stroke="#151515" stroke-width="0.95"/>
<circle cx="837.25" cy="587.03" r="3.4" fill="none" stroke="#151515" stroke-width="0.95"/>
<circle cx="707.30" cy="603.97" r="3.4" fill="none" stroke="#151515" stroke-width="0.95"/>
<circle cx="770.90" cy="620.90" r="3.4" fill="none" stroke="#151515" stroke-width="0.95"/>
<circle cx="673.05" cy="637.84" r="3.4" fill="none" stroke="#151515" stroke-width="0.95"/>
<circle cx="903.35" cy="654.77" r="3.4" fill="none" stroke="#151515" stroke-width="0.95"/>
<circle cx="821.35" cy="671.71" r="3.4" fill="none" stroke="#151515" stroke-width="0.95"/>
<circle cx="707.30" cy="688.64" r="3.4" fill="none" stroke="#151515" stroke-width="0.95"/>
<circle cx="786.80" cy="705.58" r="3.4" fill="none" stroke="#151515" stroke-width="0.95"/>
<circle cx="723.20" cy="722.51" r="3.4" fill="none" stroke="#151515" stroke-width="0.95"/>
<circle cx="673.05" cy="739.45" r="3.4" fill="none" stroke="#151515" stroke-width="0.95"/>
<circle cx="657.15" cy="756.38" r="3.4" fill="none" stroke="#151515" stroke-width="0.95"/>
<circle cx="786.80" cy="773.32" r="3.4" fill="none" stroke="#151515" stroke-width="0.95"/>
<circle cx="770.90" cy="790.25" r="3.4" fill="none" stroke="#151515" stroke-width="0.95"/>
<circle cx="786.80" cy="807.19" r="3.4" fill="none" stroke="#151515" stroke-width="0.95"/>
<circle cx="770.90" cy="824.12" r="3.4" fill="none" stroke="#151515" stroke-width="0.95"/>
<circle cx="869.05" cy="841.06" r="3.4" fill="none" stroke="#151515" stroke-width="0.95"/>
<circle cx="770.90" cy="857.99" r="3.4" fill="none" stroke="#151515" stroke-width="0.95"/>
<circle cx="903.35" cy="874.93" r="3.4" fill="none" stroke="#151515" stroke-width="0.95"/>
<circle cx="853.15" cy="891.86" r="3.4" fill="none" stroke="#151515" stroke-width="0.95"/>
<circle cx="673.05" cy="908.80" r="3.4" fill="none" stroke="#151515" stroke-width="0.95"/>
<circle cx="869.05" cy="925.73" r="3.4" fill="none" stroke="#151515" stroke-width="0.95"/>
<circle cx="673.05" cy="942.67" r="3.4" fill="none" stroke="#151515" stroke-width="0.95"/>
<circle cx="786.80" cy="959.60" r="3.4" fill="none" stroke="#151515" stroke-width="0.95"/>
<circle cx="673.05" cy="976.54" r="3.4" fill="none" stroke="#151515" stroke-width="0.95"/>
<circle cx="673.05" cy="993.47" r="3.4" fill="none" stroke="#151515" stroke-width="0.95"/>
<circle cx="786.80" cy="1010.41" r="3.4" fill="none" stroke="#151515" stroke-width="0.95"/>
<text x="998.2" y="100.4" font-size="15.25" fill="#000">rs12129719</text>
<text x="998.2" y="117.4" font-size="15.25" fill="#000">rs11165867</text>
<text x="998.2" y="134.3" font-size="15.25" fill="#000">rs2660304</text>
<text x="998.2" y="151.2" font-size="15.25" fill="#000">rs14403</text>
<text x="998.2" y="168.2" font-size="15.25" fill="#000">rs2077586</text>
<text x="998.2" y="185.1" font-size="15.25" fill="#000">rs56145559</text>
<text x="998.2" y="202.0" font-size="15.25" fill="#000">rs10196799</text>
<text x="998.2" y="219.0" font-size="15.25" fill="#000">rs6434928</text>
<text x="998.2" y="235.9" font-size="15.25" fill="#000">rs2949006</text>
<text x="998.2" y="252.8" font-size="15.25" fill="#000">rs4144797</text>
<text x="998.2" y="269.8" font-size="15.25" fill="#000">rs35346733</text>
<text x="998.2" y="286.7" font-size="15.25" fill="#000">rs9881798</text>
<text x="998.2" y="303.6" font-size="15.25" fill="#000">rs11409090</text>
<text x="998.2" y="320.6" font-size="15.25" fill="#000">rs75968099</text>
<text x="998.2" y="337.5" font-size="15.25" fill="#000">rs1353545</text>
<text x="998.2" y="354.4" font-size="15.25" fill="#000">rs7432375</text>
<text x="998.2" y="371.4" font-size="15.25" fill="#000">rs34796896</text>
<text x="998.2" y="388.3" font-size="15.25" fill="#000">rs13121251</text>
<text x="998.2" y="405.2" font-size="15.25" fill="#000">rs62334820</text>
<text x="998.2" y="422.2" font-size="15.25" fill="#000">rs7701440</text>
<text x="998.2" y="439.1" font-size="15.25" fill="#000">rs254782</text>
<text x="998.2" y="456.1" font-size="15.25" fill="#000">rs1339227</text>
<text x="998.2" y="473.0" font-size="15.25" fill="#000">rs217287</text>
<text x="998.2" y="489.9" font-size="15.25" fill="#000">rs760608</text>
<text x="998.2" y="506.9" font-size="15.25" fill="#000">rs35736453</text>
<text x="998.2" y="523.8" font-size="15.25" fill="#000">rs72342102</text>
<text x="998.2" y="540.7" font-size="15.25" fill="#000">rs146678232</text>
<text x="998.2" y="557.7" font-size="15.25" fill="#000">rs7789569</text>
<text x="998.2" y="574.6" font-size="15.25" fill="#000">rs211829</text>
<text x="998.2" y="591.5" font-size="15.25" fill="#000">rs12705761</text>
<text x="998.2" y="608.5" font-size="15.25" fill="#000">rs3735025</text>
<text x="998.2" y="625.4" font-size="15.25" fill="#000">rs139425113</text>
<text x="998.2" y="642.3" font-size="15.25" fill="#000">rs1042992</text>
<text x="998.2" y="659.3" font-size="15.25" fill="#000">rs11783093</text>
<text x="998.2" y="676.2" font-size="15.25" fill="#000">rs1473594</text>
<text x="998.2" y="693.1" font-size="15.25" fill="#000">rs10985817</text>
<text x="998.2" y="710.1" font-size="15.25" fill="#000">rs12416331</text>
<text x="998.2" y="727.0" font-size="15.25" fill="#000">rs1899543</text>
<text x="998.2" y="743.9" font-size="15.25" fill="#000">rs1765142</text>
<text x="998.2" y="760.9" font-size="15.25" fill="#000">rs7951870</text>
<text x="998.2" y="777.8" font-size="15.25" fill="#000">rs12293670</text>
<text x="998.2" y="794.8" font-size="15.25" fill="#000">rs2917569</text>
<text x="998.2" y="811.7" font-size="15.25" fill="#000">rs893949</text>
<text x="998.2" y="828.6" font-size="15.25" fill="#000">rs1120004</text>
<text x="998.2" y="845.6" font-size="15.25" fill="#000">rs61937595</text>
<text x="998.2" y="862.5" font-size="15.25" fill="#000">rs2851447</text>
<text x="998.2" y="879.4" font-size="15.25" fill="#000">rs9545047</text>
<text x="998.2" y="896.4" font-size="15.25" fill="#000">rs1191551</text>
<text x="998.2" y="913.3" font-size="15.25" fill="#000">rs150437760</text>
<text x="998.2" y="930.2" font-size="15.25" fill="#000">rs2332700</text>
<text x="998.2" y="947.2" font-size="15.25" fill="#000">rs35604463</text>
<text x="998.2" y="964.1" font-size="15.25" fill="#000">rs10083370</text>
<text x="998.2" y="981.0" font-size="15.25" fill="#000">rs783540</text>
<text x="998.2" y="998.0" font-size="15.25" fill="#000">rs12908161</text>
<text x="998.2" y="1014.9" font-size="15.25" fill="#000">rs12447542</text>
<g clip-path="url(#hc)">
<text transform="translate(662.3,81.5) rotate(-90)" font-size="14" font-weight="normal" fill="#c0c0c0">Ex−NRGN</text>
<text transform="translate(678.2,81.5) rotate(-90)" font-size="14" font-weight="bold" fill="#555">SZTR</text>
<text transform="translate(696.5,81.5) rotate(-90)" font-size="14" font-weight="bold" fill="#33dd11">Ex−L2/3</text>
<text transform="translate(712.4,81.5) rotate(-90)" font-size="14" font-weight="bold" fill="#2ecc2e">Ex−L4</text>
<text transform="translate(728.3,81.5) rotate(-90)" font-size="14" font-weight="bold" fill="#1cb02a">Ex−L4/5</text>
<text transform="translate(744.2,81.5) rotate(-90)" font-size="14" font-weight="bold" fill="#229922">Ex−L5</text>
<text transform="translate(760.1,81.5) rotate(-90)" font-size="14" font-weight="bold" fill="#228822">Ex−L5/6</text>
<text transform="translate(776.0,81.5) rotate(-90)" font-size="14" font-weight="bold" fill="#176a1c">Ex−L5/6−CCa</text>
<text transform="translate(791.9,81.5) rotate(-90)" font-size="14" font-weight="bold" fill="#176a1c">Ex−L5/6−CCb</text>
<text transform="translate(810.6,81.5) rotate(-90)" font-size="14" font-weight="bold" fill="#ee1515">In−Rosehip</text>
<text transform="translate(826.5,81.5) rotate(-90)" font-size="14" font-weight="bold" fill="#cc0c0c">In−VIP</text>
<text transform="translate(842.4,81.5) rotate(-90)" font-size="14" font-weight="bold" fill="#c40c0c">In−Reelin</text>
<text transform="translate(858.3,81.5) rotate(-90)" font-size="14" font-weight="bold" fill="#a50c0c">In−PV (Basket)</text>
<text transform="translate(874.2,81.5) rotate(-90)" font-size="14" font-weight="bold" fill="#8a0a0a">In−PV (Chandelier)</text>
<text transform="translate(890.1,81.5) rotate(-90)" font-size="14" font-weight="bold" fill="#6a0606">In−SST</text>
<text transform="translate(908.5,81.5) rotate(-90)" font-size="14" font-weight="bold" fill="#a566c4">Ast</text>
<text transform="translate(924.4,81.5) rotate(-90)" font-size="14" font-weight="bold" fill="#ff8800">OPC</text>
<text transform="translate(940.2,81.5) rotate(-90)" font-size="14" font-weight="bold" fill="#a86e3e">Oli</text>
<text transform="translate(956.2,81.5) rotate(-90)" font-size="14" font-weight="bold" fill="#cccc22">Mic</text>
<text transform="translate(972.1,81.5) rotate(-90)" font-size="14" font-weight="bold" fill="#ee88cc">Endo</text>
<text transform="translate(992.3,81.5) rotate(-90)" font-size="14.6" fill="#000">Hi-C evidence</text>
</g>
</svg>
</body></html>
